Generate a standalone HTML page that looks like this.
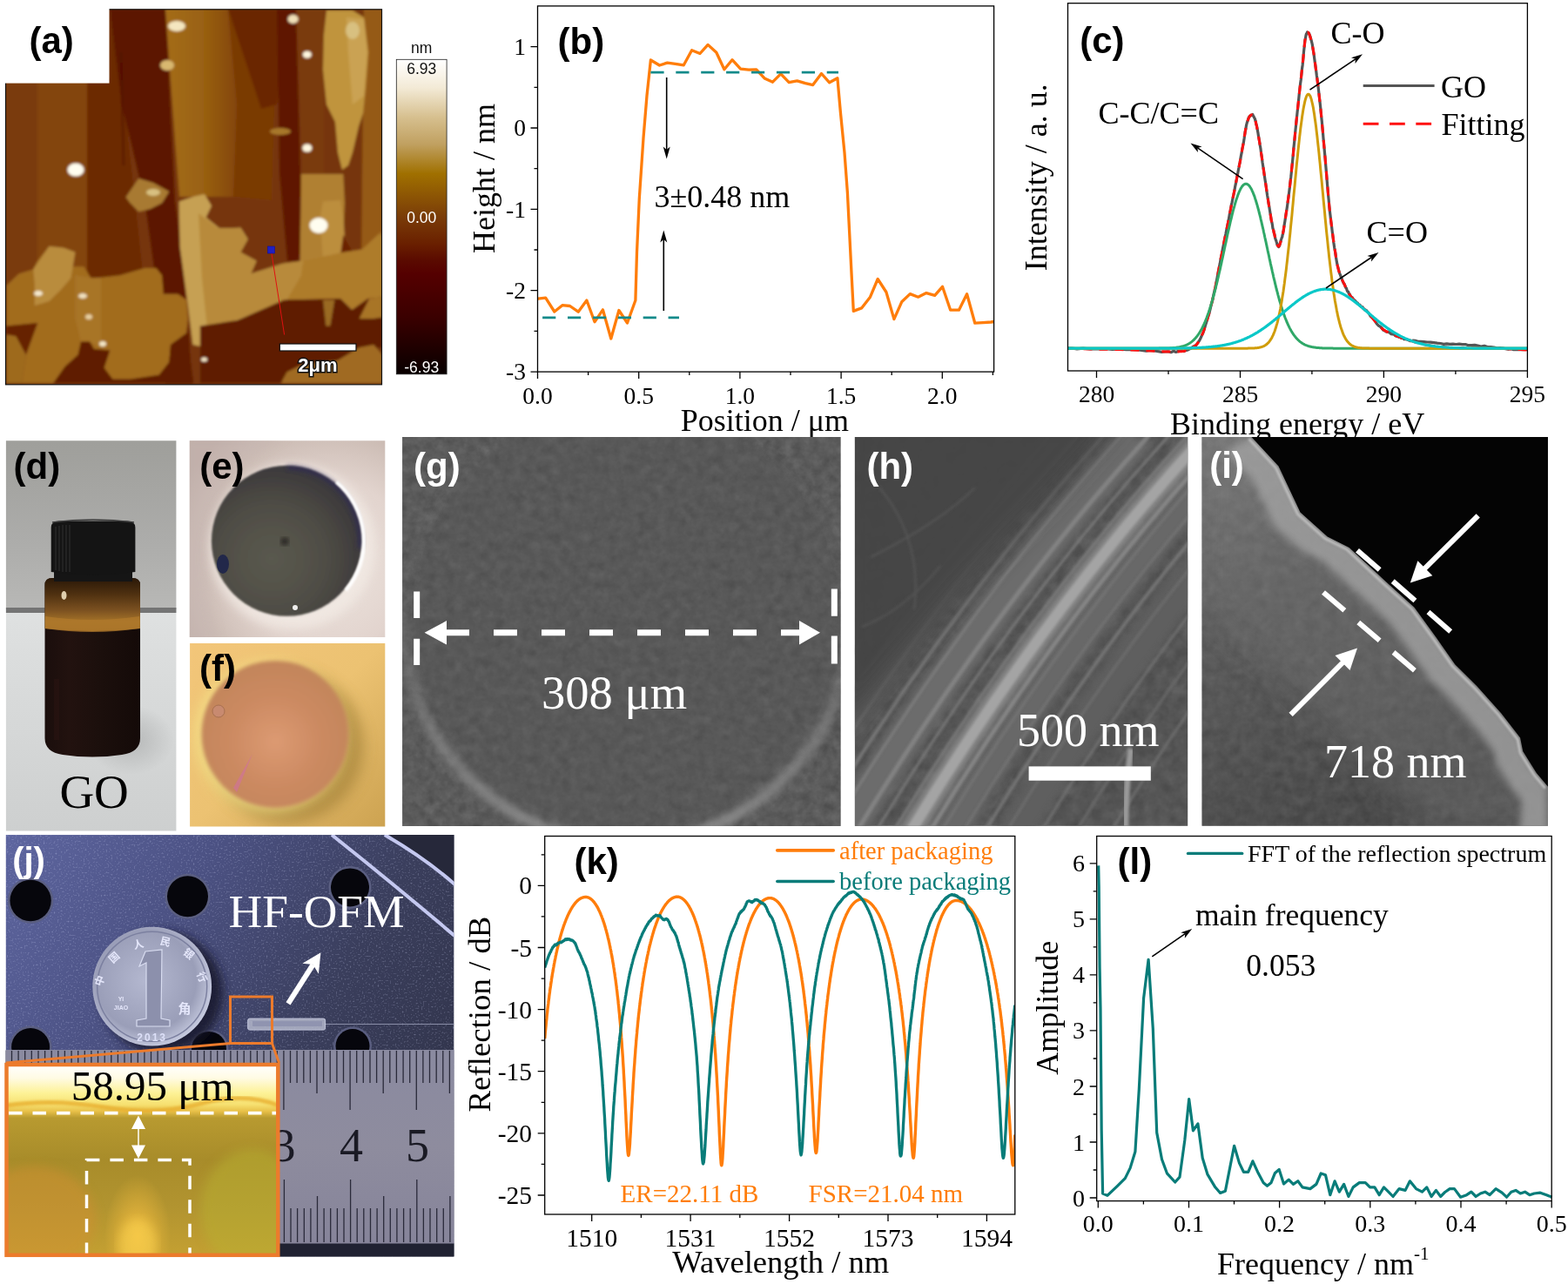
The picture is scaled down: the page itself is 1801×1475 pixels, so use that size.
<!DOCTYPE html>
<html><head><meta charset="utf-8"><title>GO film characterization</title>
<style>html,body{margin:0;padding:0;background:#fff;overflow:hidden}svg{display:block}</style></head>
<body><svg width="1801" height="1475" viewBox="0 0 1801 1475">
<rect width="1801" height="1475" fill="#fff"/>
<path d="M617.8 343.1 L626.7 342.1 L636.8 358 L645.9 350.7 L654.6 351.5 L664.2 358.2 L673.9 345 L683 369.8 L692.4 355.8 L701.8 389 L710.9 356.5 L720.5 371 L729.9 345 L731.5 290 L734.3 228 L739 158.5 L743 110 L747.4 69 L757.5 75 L766.5 72.2 L775.6 73.3 L785.3 74.8 L794.6 57.7 L804 61.5 L813.1 51.4 L822.8 60.3 L831.9 79.8 L841 68.7 L850.6 79.1 L860 80.2 L868.7 79.8 L878.1 89.9 L887.5 94.2 L896.8 84.9 L906.2 94.7 L915.6 92.8 L925 95.7 L933.7 97.6 L943.5 84.5 L952.7 94.8 L961.9 89.7 L965.4 129.2 L970 175.3 L973.4 221.4 L975.7 267.5 L978 313.6 L980.3 357.4 L989.6 353.9 L999.5 341.2 L1008.2 320.5 L1017.9 335.5 L1026.9 366.6 L1035.7 346.8 L1045.3 337.6 L1054.6 341.2 L1064 336.6 L1073.7 339.4 L1082.5 329.3 L1091.7 356.2 L1101.4 356.2 L1110.6 337.8 L1119.8 371.2 L1129 370.7 L1138.2 370 L1141.7 369.5" fill="none" stroke="#ff7d0a" stroke-width="3.3" stroke-linejoin="round"/><path d="M623.1 364.9H780" stroke="#138a8a" stroke-width="2.6" stroke-dasharray="15.2 13.7"/><path d="M747.4 83.1H963" stroke="#138a8a" stroke-width="2.6" stroke-dasharray="15.2 13.7"/><path d="M765.7 89L765.7 172" stroke="#000" stroke-width="1.6"/><path d="M765.7 182.5L761.7 168.5L765.7 172L769.7 168.5Z" fill="#000"/><path d="M762.3 357L762.3 275" stroke="#000" stroke-width="1.6"/><path d="M762.3 264.5L766.3 278.5L762.3 275L758.3 278.5Z" fill="#000"/><rect x="617.5" y="6.9" width="524.1" height="420.2" fill="none" stroke="#000" stroke-width="1.3"/><path d="M617.5 427.1V435.1M733.7 427.1V435.1M849.9 427.1V435.1M966.1 427.1V435.1M1082.3 427.1V435.1M675.6 427.1V431.1M791.8 427.1V431.1M908 427.1V431.1M1024.2 427.1V431.1M1140.4 427.1V431.1" stroke="#000" stroke-width="1.3"/><path d="M617.5 427.1H609.5M617.5 333.7H609.5M617.5 240.3H609.5M617.5 147H609.5M617.5 53.6H609.5M617.5 380.4H613.5M617.5 287H613.5M617.5 193.7H613.5M617.5 100.3H613.5" stroke="#000" stroke-width="1.3"/><text x="617.5" y="463.5" font-family="'Liberation Serif','Times New Roman',serif" font-size="27.5" fill="#000" text-anchor="middle">0.0</text><text x="733.7" y="463.5" font-family="'Liberation Serif','Times New Roman',serif" font-size="27.5" fill="#000" text-anchor="middle">0.5</text><text x="849.9" y="463.5" font-family="'Liberation Serif','Times New Roman',serif" font-size="27.5" fill="#000" text-anchor="middle">1.0</text><text x="966.1" y="463.5" font-family="'Liberation Serif','Times New Roman',serif" font-size="27.5" fill="#000" text-anchor="middle">1.5</text><text x="1082.3" y="463.5" font-family="'Liberation Serif','Times New Roman',serif" font-size="27.5" fill="#000" text-anchor="middle">2.0</text><text x="604" y="436.4" font-family="'Liberation Serif','Times New Roman',serif" font-size="27.5" fill="#000" text-anchor="end">-3</text><text x="604" y="343" font-family="'Liberation Serif','Times New Roman',serif" font-size="27.5" fill="#000" text-anchor="end">-2</text><text x="604" y="249.6" font-family="'Liberation Serif','Times New Roman',serif" font-size="27.5" fill="#000" text-anchor="end">-1</text><text x="604" y="156.3" font-family="'Liberation Serif','Times New Roman',serif" font-size="27.5" fill="#000" text-anchor="end">0</text><text x="604" y="62.9" font-family="'Liberation Serif','Times New Roman',serif" font-size="27.5" fill="#000" text-anchor="end">1</text><text x="781.7" y="495" font-family="'Liberation Serif','Times New Roman',serif" font-size="36" fill="#000" text-anchor="start">Position / μm</text><text x="567.6" y="205" font-family="'Liberation Serif','Times New Roman',serif" font-size="36" fill="#000" text-anchor="middle" transform="rotate(-90 567.6 205)">Height / nm</text><text x="751.5" y="237.8" font-family="'Liberation Serif','Times New Roman',serif" font-size="36" fill="#000" text-anchor="start">3±0.48 nm</text><text x="640.6" y="62" font-family="'Liberation Sans',Arial,sans-serif" font-size="42" font-weight="bold" fill="#000" text-anchor="start">(b)</text><clipPath id="cc"><rect x="1226.5" y="3.7" width="527.9" height="422.3"/></clipPath><g clip-path="url(#cc)"><path d="M1226.5 400.2 L1231 400 L1237 400.8 L1244 400.2 L1252 401 L1260.4 400.9 L1269.1 400.6 L1277.7 401.5 L1285.9 401 L1293.5 401.7 L1300 401.4 L1305.8 401.6 L1311.2 402.3 L1316.4 403.2 L1321.3 402.5 L1325.8 402.9 L1330.2 403.7 L1334.2 404.3 L1338.1 404 L1341.6 403.8 L1345 404.7 L1348 403.3 L1350.7 404.5 L1353 403.6 L1355.1 403.3 L1356.9 403.1 L1358.6 403.2 L1360.2 403.6 L1361.8 402.3 L1363.4 402.3 L1365 401.7 L1366.6 400.6 L1368.2 400.1 L1369.7 398.7 L1371.1 397.9 L1372.4 397.2 L1373.7 396.7 L1375 394.9 L1376.3 393 L1377.6 391.3 L1379 388.5 L1380.4 385.3 L1381.8 382.5 L1383.2 378.4 L1384.6 373.6 L1385.9 369.6 L1387.3 364.8 L1388.7 360.5 L1390 355.4 L1391.3 349.8 L1392.5 345.9 L1393.7 339.7 L1394.8 334.9 L1396 330.1 L1397.1 323.8 L1398.1 318.8 L1399.2 312.6 L1400.2 307.8 L1401.3 302.4 L1402.3 296.6 L1403.4 291.5 L1404.5 285.3 L1405.6 280.2 L1406.7 274.4 L1407.9 268.8 L1409 263 L1410.1 258 L1411.2 252.7 L1412.2 246.7 L1413.2 241.9 L1414.2 236.2 L1415.1 232.4 L1416 227.8 L1416.9 224 L1417.8 219.5 L1418.6 214.7 L1419.4 210.9 L1420.1 207.4 L1420.9 202.7 L1421.6 199.7 L1422.3 195.7 L1423 192.2 L1423.6 188.8 L1424.2 186.6 L1424.8 182.6 L1425.3 179.8 L1425.8 177.1 L1426.3 174.9 L1426.8 171.1 L1427.3 168.9 L1427.8 166.4 L1428.3 164.2 L1428.7 161.5 L1429.1 159 L1429.5 155.7 L1429.9 153.5 L1430.2 151.1 L1430.6 149.6 L1431 147.6 L1431.4 144.6 L1431.8 142.8 L1432.2 141.3 L1432.7 139.7 L1433.1 138.7 L1433.6 137.5 L1434 135.9 L1434.5 134.5 L1435 134.2 L1435.5 133.3 L1435.9 133 L1436.4 133.1 L1436.9 132.5 L1437.4 132 L1437.8 132 L1438.3 132.2 L1438.8 131.5 L1439.3 133.1 L1439.8 133.5 L1440.3 134.5 L1440.8 135.5 L1441.3 136.3 L1441.8 138 L1442.3 139.6 L1442.8 142.5 L1443.4 144.2 L1443.9 146.8 L1444.4 149.9 L1445 152.9 L1445.5 156.4 L1446.1 159.4 L1446.7 162.9 L1447.3 167 L1448 171.1 L1448.6 175.9 L1449.3 180.1 L1450 186.2 L1450.7 190.7 L1451.4 195 L1452.1 200 L1452.8 204.9 L1453.5 209.5 L1454.2 213.7 L1454.9 219.4 L1455.6 224.3 L1456.3 228.2 L1457 232.9 L1457.7 236.8 L1458.4 241.2 L1459.1 245.6 L1459.7 249.3 L1460.3 253.5 L1460.9 255.6 L1461.4 258.2 L1461.9 262 L1462.4 263.6 L1462.9 265.2 L1463.3 267.6 L1463.8 268.6 L1464.2 271 L1464.6 273.2 L1465 274.5 L1465.4 275.7 L1465.8 276.5 L1466.1 277.9 L1466.5 278.7 L1466.8 280.6 L1467.1 281.1 L1467.4 282.2 L1467.8 282.1 L1468.1 282.3 L1468.4 283.3 L1468.7 283.6 L1469 283.2 L1469.3 282.8 L1469.6 282.2 L1469.9 281.4 L1470.2 279.9 L1470.5 279.4 L1470.8 278.1 L1471.2 276.5 L1471.5 275.3 L1471.8 274.5 L1472.2 273.3 L1472.5 272.8 L1472.8 271.9 L1473.1 269.8 L1473.5 268.9 L1473.8 267.1 L1474.3 264.8 L1474.7 261.4 L1475.2 258.1 L1475.8 254.6 L1476.4 250.6 L1477 246.3 L1477.7 242.3 L1478.4 237.8 L1479.1 232.6 L1479.9 226.7 L1480.6 221.4 L1481.3 215.9 L1482 209.1 L1482.7 203.9 L1483.3 197.9 L1484 191 L1484.7 184.1 L1485.4 176.7 L1486 169.2 L1486.7 162.9 L1487.4 155.3 L1488 149.1 L1488.7 142.7 L1489.4 135.3 L1490.1 128.7 L1490.8 122.8 L1491.5 115.9 L1492.2 108.6 L1492.9 102.2 L1493.6 96.1 L1494.3 91.2 L1494.9 85.4 L1495.5 79.1 L1496.1 74.9 L1496.6 70 L1497.1 64.5 L1497.5 59.2 L1498 55 L1498.5 50.2 L1498.9 46.2 L1499.4 44.3 L1499.9 41.2 L1500.4 39 L1501 38.3 L1501.5 37 L1502.1 37.5 L1502.7 37.9 L1503.3 37.9 L1503.9 39.2 L1504.5 40.9 L1505.1 42.6 L1505.7 45.1 L1506.3 46.8 L1506.9 49.4 L1507.4 51.7 L1508 55.9 L1508.5 58.5 L1509.1 62.3 L1509.6 66.3 L1510.2 70.7 L1510.7 74 L1511.3 78.8 L1511.8 82.3 L1512.3 86.5 L1512.9 90.6 L1513.4 94.2 L1514 99.2 L1514.5 103.4 L1515 107.8 L1515.6 113.7 L1516.1 117.7 L1516.7 123.2 L1517.2 128.7 L1517.7 133.9 L1518.3 139.2 L1518.8 145.3 L1519.4 151.3 L1519.9 157.8 L1520.4 163 L1521 169.8 L1521.5 175.5 L1522.1 181.7 L1522.6 188.4 L1523.1 194 L1523.6 200 L1524.1 206.3 L1524.6 212.5 L1525.1 217.9 L1525.6 224.1 L1526.2 229.9 L1526.7 235.9 L1527.3 242 L1528 247.5 L1528.7 253.6 L1529.5 259.7 L1530.3 266.6 L1531.1 272.5 L1531.9 279 L1532.8 285 L1533.7 289.8 L1534.5 295.5 L1535.4 300.9 L1536.2 305.1 L1537 307.8 L1537.8 310.9 L1538.7 314.1 L1539.5 315.9 L1540.3 318.2 L1541.1 319.8 L1541.9 322.3 L1542.7 324.1 L1543.5 325.9 L1544.3 326.5 L1545.1 329 L1545.8 330.5 L1546.5 331.2 L1547.2 333.6 L1547.9 335 L1548.6 335.1 L1549.3 337.3 L1550 337.6 L1550.7 338.9 L1551.5 340.7 L1552.3 341.6 L1553.1 341.6 L1553.9 343 L1554.8 344.1 L1555.6 344.8 L1556.5 345.4 L1557.4 346.5 L1558.2 347.9 L1559.1 347.8 L1560 349.4 L1560.9 350 L1561.7 350.1 L1562.5 351.1 L1563.3 352.1 L1564.1 352.5 L1564.9 352.5 L1565.9 354.5 L1566.9 355.1 L1568 356.4 L1569.3 356.4 L1570.7 358.2 L1572.3 359.8 L1574 362.9 L1575.8 364.4 L1577.7 366.5 L1579.6 369.2 L1581.5 372.2 L1583.4 374.1 L1585.3 375.2 L1587.1 376.7 L1588.9 379.2 L1590.6 379.9 L1592.4 381.1 L1594.2 381.2 L1596 382 L1597.7 383.6 L1599.5 383.9 L1601.3 384.1 L1603 386 L1604.8 386.3 L1606.5 387.2 L1608.1 386.9 L1609.6 388.5 L1611.1 388 L1612.6 389.6 L1614.2 389.6 L1615.9 389.9 L1617.9 390.7 L1620.1 391.7 L1622.6 391.2 L1625.4 391.4 L1628.6 392.4 L1632 392.4 L1635.6 392.6 L1639.3 393 L1643.1 393.2 L1647 393.7 L1650.8 394.2 L1654.6 394.5 L1658.2 395.4 L1661.8 394.9 L1665.3 395.4 L1668.9 395.2 L1672.4 395.5 L1676 395.2 L1679.6 395.7 L1683.1 395.5 L1686.7 396.7 L1690.2 396.6 L1693.8 396.4 L1697.4 397.1 L1701.1 398 L1704.8 397.3 L1708.5 398.6 L1712.3 398.5 L1715.9 399 L1719.5 399.9 L1723 399.6 L1726.3 400.1 L1729.4 400.7 L1732.4 401.3 L1735.5 400.7 L1738.5 401.6 L1741.4 401.6 L1744.1 401.7 L1746.7 401.5 L1749.1 401.6 L1751.2 401.3 L1753 401.5 L1754.4 401.5" fill="none" stroke="#555555" stroke-width="3.2" stroke-linejoin="round"/><path d="M1226.5 400.4 L1231 400.5 L1237 400.6 L1244 400.7 L1252 400.9 L1260.4 401.1 L1269.1 401.3 L1277.7 401.4 L1285.9 401.6 L1293.5 401.8 L1300 402 L1305.8 402.2 L1311.2 402.4 L1316.4 402.7 L1321.3 403 L1325.8 403.3 L1330.2 403.5 L1334.2 403.7 L1338.1 403.9 L1341.6 404 L1345 404 L1348 404 L1350.7 404 L1353 403.9 L1355.1 403.8 L1356.9 403.7 L1358.6 403.5 L1360.2 403.2 L1361.8 402.7 L1363.4 402.2 L1365 401.5 L1366.6 400.8 L1368.2 400.1 L1369.7 399.4 L1371.1 398.6 L1372.4 397.6 L1373.7 396.5 L1375 395 L1376.3 393.3 L1377.6 391.2 L1379 388.6 L1380.4 385.5 L1381.8 382 L1383.2 378.2 L1384.6 374 L1385.9 369.5 L1387.3 364.8 L1388.7 360 L1390 355.1 L1391.3 350.1 L1392.5 345.2 L1393.7 340.2 L1394.8 335.1 L1396 329.7 L1397.1 324.3 L1398.1 318.8 L1399.2 313.2 L1400.2 307.6 L1401.3 302 L1402.3 296.5 L1403.4 291 L1404.5 285.5 L1405.6 279.9 L1406.7 274.3 L1407.9 268.7 L1409 263 L1410.1 257.5 L1411.2 252.1 L1412.2 246.8 L1413.2 241.7 L1414.2 236.8 L1415.1 232.1 L1416 227.6 L1416.9 223.3 L1417.8 219.1 L1418.6 215 L1419.4 211 L1420.1 207.2 L1420.9 203.4 L1421.6 199.8 L1422.3 196.2 L1423 192.7 L1423.6 189.4 L1424.2 186.2 L1424.8 183.1 L1425.3 180.1 L1425.8 177.2 L1426.3 174.4 L1426.8 171.7 L1427.3 169 L1427.8 166.3 L1428.3 163.7 L1428.7 161.1 L1429.1 158.5 L1429.5 156 L1429.9 153.6 L1430.2 151.3 L1430.6 149.1 L1431 147 L1431.4 145.1 L1431.8 143.3 L1432.2 141.7 L1432.7 140.1 L1433.1 138.7 L1433.6 137.4 L1434 136.2 L1434.5 135.2 L1435 134.3 L1435.5 133.5 L1435.9 132.9 L1436.4 132.5 L1436.9 132.2 L1437.4 132 L1437.8 131.9 L1438.3 131.9 L1438.8 132.1 L1439.3 132.5 L1439.8 133.1 L1440.3 134 L1440.8 135.1 L1441.3 136.5 L1441.8 138.2 L1442.3 140.1 L1442.8 142.3 L1443.4 144.8 L1443.9 147.4 L1444.4 150.3 L1445 153.3 L1445.5 156.6 L1446.1 160 L1446.7 163.6 L1447.3 167.5 L1448 171.6 L1448.6 176.1 L1449.3 180.8 L1450 185.6 L1450.7 190.5 L1451.4 195.5 L1452.1 200.4 L1452.8 205.1 L1453.5 209.7 L1454.2 214.2 L1454.9 218.9 L1455.6 223.6 L1456.3 228.3 L1457 232.9 L1457.7 237.4 L1458.4 241.7 L1459.1 245.8 L1459.7 249.6 L1460.3 253 L1460.9 256.1 L1461.4 258.8 L1461.9 261.3 L1462.4 263.6 L1462.9 265.6 L1463.3 267.5 L1463.8 269.3 L1464.2 270.9 L1464.6 272.5 L1465 274 L1465.4 275.5 L1465.8 276.8 L1466.1 278.1 L1466.5 279.2 L1466.8 280.2 L1467.1 281.1 L1467.4 281.8 L1467.8 282.3 L1468.1 282.7 L1468.4 282.9 L1468.7 282.9 L1469 282.7 L1469.3 282.3 L1469.6 281.8 L1469.9 281.1 L1470.2 280.3 L1470.5 279.3 L1470.8 278.3 L1471.2 277.2 L1471.5 276 L1471.8 274.8 L1472.2 273.7 L1472.5 272.5 L1472.8 271.3 L1473.1 269.9 L1473.5 268.3 L1473.8 266.4 L1474.3 264.2 L1474.7 261.6 L1475.2 258.5 L1475.8 255 L1476.4 251 L1477 246.8 L1477.7 242.1 L1478.4 237.2 L1479.1 232.1 L1479.9 226.7 L1480.6 221.2 L1481.3 215.5 L1482 209.7 L1482.7 203.7 L1483.3 197.3 L1484 190.6 L1484.7 183.7 L1485.4 176.7 L1486 169.6 L1486.7 162.5 L1487.4 155.5 L1488 148.6 L1488.7 142 L1489.4 135.4 L1490.1 128.8 L1490.8 122.2 L1491.5 115.6 L1492.2 109.1 L1492.9 102.7 L1493.6 96.6 L1494.3 90.6 L1494.9 84.9 L1495.5 79.6 L1496.1 74.4 L1496.6 69.3 L1497.1 64.3 L1497.5 59.5 L1498 54.9 L1498.5 50.7 L1498.9 46.9 L1499.4 43.7 L1499.9 41 L1500.4 39 L1501 37.7 L1501.5 37.1 L1502.1 37 L1502.7 37.4 L1503.3 38.3 L1503.9 39.6 L1504.5 41.1 L1505.1 43 L1505.7 45 L1506.3 47.1 L1506.9 49.5 L1507.4 52.2 L1508 55.3 L1508.5 58.7 L1509.1 62.3 L1509.6 66.1 L1510.2 70.1 L1510.7 74.1 L1511.3 78.2 L1511.8 82.3 L1512.3 86.4 L1512.9 90.6 L1513.4 94.9 L1514 99.3 L1514.5 103.8 L1515 108.5 L1515.6 113.2 L1516.1 118.1 L1516.7 123.2 L1517.2 128.4 L1517.7 133.8 L1518.3 139.5 L1518.8 145.3 L1519.4 151.3 L1519.9 157.4 L1520.4 163.5 L1521 169.7 L1521.5 175.9 L1522.1 182 L1522.6 188 L1523.1 194 L1523.6 200 L1524.1 206 L1524.6 212 L1525.1 218 L1525.6 223.9 L1526.2 229.9 L1526.7 235.8 L1527.3 241.7 L1528 247.6 L1528.7 253.6 L1529.5 259.7 L1530.3 266 L1531.1 272.2 L1531.9 278.4 L1532.8 284.4 L1533.7 290.1 L1534.5 295.5 L1535.4 300.3 L1536.2 304.6 L1537 308.3 L1537.8 311.4 L1538.7 314.2 L1539.5 316.5 L1540.3 318.6 L1541.1 320.4 L1541.9 322.1 L1542.7 323.7 L1543.5 325.3 L1544.3 327 L1545.1 328.7 L1545.8 330.4 L1546.5 332 L1547.2 333.5 L1547.9 334.8 L1548.6 336 L1549.3 337.2 L1550 338.3 L1550.7 339.4 L1551.5 340.5 L1552.3 341.6 L1553.1 342.6 L1553.9 343.5 L1554.8 344.4 L1555.6 345.3 L1556.5 346.2 L1557.4 347 L1558.2 347.8 L1559.1 348.6 L1560 349.5 L1560.9 350.2 L1561.7 350.9 L1562.5 351.5 L1563.3 352.1 L1564.1 352.7 L1564.9 353.4 L1565.9 354.2 L1566.9 355.1 L1568 356.1 L1569.3 357.3 L1570.7 358.6 L1572.3 360.4 L1574 362.5 L1575.8 364.7 L1577.7 367 L1579.6 369.3 L1581.5 371.6 L1583.4 373.7 L1585.3 375.6 L1587.1 377.2 L1588.9 378.6 L1590.6 379.8 L1592.4 380.8 L1594.2 381.7 L1596 382.6 L1597.7 383.3 L1599.5 384 L1601.3 384.7 L1603 385.4 L1604.8 386.1 L1606.5 386.8 L1608.1 387.4 L1609.6 388 L1611.1 388.6 L1612.6 389.1 L1614.2 389.6 L1615.9 390.1 L1617.9 390.6 L1620.1 391.2 L1622.6 392.1 L1625.4 393 L1628.6 394 L1632 394.9 L1635.6 395.7 L1639.3 396.4 L1643.1 397.1 L1647 397.7 L1650.8 398.1 L1654.6 398.5 L1658.2 398.8 L1661.8 399.1 L1665.3 399.3 L1668.9 399.5 L1672.4 399.6 L1676 399.7 L1679.6 399.8 L1683.1 399.9 L1686.7 400 L1690.2 400 L1693.8 400.1 L1697.4 400.1 L1701.1 400.1 L1704.8 400.1 L1708.5 400.2 L1712.3 400.2 L1715.9 400.2 L1719.5 400.2 L1723 400.2 L1726.3 400.2 L1729.4 400.4 L1732.4 400.7 L1735.5 400.9 L1738.5 401.1 L1741.4 401.3 L1744.1 401.5 L1746.7 401.6 L1749.1 401.8 L1751.2 401.9 L1753 402 L1754.4 402.1" fill="none" stroke="#ff1010" stroke-width="3" stroke-linejoin="round" stroke-dasharray="10 8"/><path d="M1226.5 400.2 L1227.2 400.2 L1227.8 400.2 L1228.5 400.2 L1229.1 400.2 L1229.8 400.2 L1230.5 400.2 L1231.1 400.2 L1231.8 400.2 L1232.4 400.2 L1233.1 400.2 L1233.8 400.2 L1234.4 400.2 L1235.1 400.2 L1235.7 400.2 L1236.4 400.2 L1237.1 400.2 L1237.7 400.2 L1238.4 400.2 L1239 400.2 L1239.7 400.2 L1240.4 400.2 L1241 400.2 L1241.7 400.2 L1242.3 400.2 L1243 400.2 L1243.7 400.2 L1244.3 400.2 L1245 400.2 L1245.6 400.2 L1246.3 400.2 L1247 400.2 L1247.6 400.2 L1248.3 400.2 L1248.9 400.2 L1249.6 400.2 L1250.3 400.2 L1250.9 400.2 L1251.6 400.2 L1252.2 400.2 L1252.9 400.2 L1253.6 400.2 L1254.2 400.2 L1254.9 400.2 L1255.5 400.2 L1256.2 400.2 L1256.9 400.2 L1257.5 400.2 L1258.2 400.2 L1258.8 400.2 L1259.5 400.2 L1260.2 400.2 L1260.8 400.2 L1261.5 400.2 L1262.1 400.2 L1262.8 400.2 L1263.5 400.2 L1264.1 400.2 L1264.8 400.2 L1265.4 400.2 L1266.1 400.2 L1266.8 400.2 L1267.4 400.2 L1268.1 400.2 L1268.7 400.2 L1269.4 400.2 L1270.1 400.2 L1270.7 400.2 L1271.4 400.2 L1272 400.2 L1272.7 400.2 L1273.4 400.2 L1274 400.2 L1274.7 400.2 L1275.3 400.2 L1276 400.2 L1276.7 400.2 L1277.3 400.2 L1278 400.2 L1278.6 400.2 L1279.3 400.2 L1279.9 400.2 L1280.6 400.2 L1281.3 400.2 L1281.9 400.2 L1282.6 400.2 L1283.2 400.2 L1283.9 400.2 L1284.6 400.2 L1285.2 400.2 L1285.9 400.2 L1286.5 400.2 L1287.2 400.2 L1287.9 400.2 L1288.5 400.2 L1289.2 400.2 L1289.8 400.2 L1290.5 400.2 L1291.2 400.2 L1291.8 400.2 L1292.5 400.2 L1293.1 400.2 L1293.8 400.2 L1294.5 400.2 L1295.1 400.2 L1295.8 400.2 L1296.4 400.2 L1297.1 400.2 L1297.8 400.2 L1298.4 400.2 L1299.1 400.2 L1299.7 400.2 L1300.4 400.2 L1301.1 400.2 L1301.7 400.2 L1302.4 400.2 L1303 400.2 L1303.7 400.2 L1304.4 400.2 L1305 400.2 L1305.7 400.2 L1306.3 400.2 L1307 400.2 L1307.7 400.2 L1308.3 400.2 L1309 400.2 L1309.6 400.2 L1310.3 400.2 L1311 400.2 L1311.6 400.2 L1312.3 400.2 L1312.9 400.2 L1313.6 400.2 L1314.3 400.2 L1314.9 400.2 L1315.6 400.2 L1316.2 400.2 L1316.9 400.2 L1317.6 400.2 L1318.2 400.2 L1318.9 400.2 L1319.5 400.2 L1320.2 400.2 L1320.9 400.2 L1321.5 400.2 L1322.2 400.2 L1322.8 400.2 L1323.5 400.2 L1324.2 400.2 L1324.8 400.2 L1325.5 400.2 L1326.1 400.2 L1326.8 400.2 L1327.5 400.2 L1328.1 400.2 L1328.8 400.2 L1329.4 400.2 L1330.1 400.2 L1330.8 400.2 L1331.4 400.1 L1332.1 400.1 L1332.7 400.1 L1333.4 400.1 L1334.1 400.1 L1334.7 400.1 L1335.4 400.1 L1336 400.1 L1336.7 400.1 L1337.4 400.1 L1338 400.1 L1338.7 400 L1339.3 400 L1340 400 L1340.7 400 L1341.3 400 L1342 399.9 L1342.6 399.9 L1343.3 399.9 L1344 399.8 L1344.6 399.8 L1345.3 399.8 L1345.9 399.7 L1346.6 399.7 L1347.3 399.6 L1347.9 399.6 L1348.6 399.5 L1349.2 399.5 L1349.9 399.4 L1350.6 399.3 L1351.2 399.2 L1351.9 399.1 L1352.5 399.1 L1353.2 398.9 L1353.9 398.8 L1354.5 398.7 L1355.2 398.6 L1355.8 398.5 L1356.5 398.3 L1357.2 398.1 L1357.8 398 L1358.5 397.8 L1359.1 397.6 L1359.8 397.4 L1360.5 397.1 L1361.1 396.9 L1361.8 396.6 L1362.4 396.4 L1363.1 396.1 L1363.8 395.8 L1364.4 395.4 L1365.1 395.1 L1365.7 394.7 L1366.4 394.3 L1367.1 393.8 L1367.7 393.4 L1368.4 392.9 L1369 392.4 L1369.7 391.8 L1370.4 391.2 L1371 390.6 L1371.7 390 L1372.3 389.3 L1373 388.6 L1373.7 387.8 L1374.3 387 L1375 386.2 L1375.6 385.3 L1376.3 384.4 L1377 383.4 L1377.6 382.4 L1378.3 381.4 L1378.9 380.3 L1379.6 379.1 L1380.3 377.9 L1380.9 376.6 L1381.6 375.3 L1382.2 373.9 L1382.9 372.5 L1383.6 371 L1384.2 369.5 L1384.9 367.9 L1385.5 366.2 L1386.2 364.5 L1386.8 362.7 L1387.5 360.9 L1388.2 359 L1388.8 357 L1389.5 355 L1390.1 352.9 L1390.8 350.8 L1391.5 348.5 L1392.1 346.3 L1392.8 344 L1393.4 341.6 L1394.1 339.1 L1394.8 336.7 L1395.4 334.1 L1396.1 331.5 L1396.7 328.9 L1397.4 326.2 L1398.1 323.4 L1398.7 320.6 L1399.4 317.8 L1400 314.9 L1400.7 312 L1401.4 309.1 L1402 306.1 L1402.7 303.1 L1403.3 300.1 L1404 297.1 L1404.7 294 L1405.3 290.9 L1406 287.9 L1406.6 284.8 L1407.3 281.7 L1408 278.7 L1408.6 275.6 L1409.3 272.5 L1409.9 269.5 L1410.6 266.5 L1411.3 263.5 L1411.9 260.6 L1412.6 257.7 L1413.2 254.9 L1413.9 252.1 L1414.6 249.3 L1415.2 246.6 L1415.9 244 L1416.5 241.4 L1417.2 239 L1417.9 236.6 L1418.5 234.3 L1419.2 232 L1419.8 229.9 L1420.5 227.9 L1421.2 225.9 L1421.8 224.1 L1422.5 222.4 L1423.1 220.8 L1423.8 219.3 L1424.5 217.9 L1425.1 216.6 L1425.8 215.5 L1426.4 214.5 L1427.1 213.6 L1427.8 212.9 L1428.4 212.3 L1429.1 211.8 L1429.7 211.5 L1430.4 211.3 L1431.1 211.2 L1431.7 211.3 L1432.4 211.5 L1433 211.8 L1433.7 212.3 L1434.4 212.9 L1435 213.6 L1435.7 214.5 L1436.3 215.5 L1437 216.6 L1437.7 217.9 L1438.3 219.3 L1439 220.8 L1439.6 222.4 L1440.3 224.1 L1441 225.9 L1441.6 227.9 L1442.3 229.9 L1442.9 232 L1443.6 234.3 L1444.3 236.6 L1444.9 239 L1445.6 241.4 L1446.2 244 L1446.9 246.6 L1447.6 249.3 L1448.2 252.1 L1448.9 254.9 L1449.5 257.7 L1450.2 260.6 L1450.9 263.5 L1451.5 266.5 L1452.2 269.5 L1452.8 272.5 L1453.5 275.6 L1454.2 278.7 L1454.8 281.7 L1455.5 284.8 L1456.1 287.9 L1456.8 290.9 L1457.5 294 L1458.1 297.1 L1458.8 300.1 L1459.4 303.1 L1460.1 306.1 L1460.8 309.1 L1461.4 312 L1462.1 314.9 L1462.7 317.8 L1463.4 320.6 L1464.1 323.4 L1464.7 326.2 L1465.4 328.9 L1466 331.5 L1466.7 334.1 L1467.4 336.7 L1468 339.1 L1468.7 341.6 L1469.3 344 L1470 346.3 L1470.7 348.5 L1471.3 350.8 L1472 352.9 L1472.6 355 L1473.3 357 L1474 359 L1474.6 360.9 L1475.3 362.7 L1475.9 364.5 L1476.6 366.2 L1477.3 367.9 L1477.9 369.5 L1478.6 371 L1479.2 372.5 L1479.9 373.9 L1480.6 375.3 L1481.2 376.6 L1481.9 377.9 L1482.5 379.1 L1483.2 380.3 L1483.9 381.4 L1484.5 382.4 L1485.2 383.4 L1485.8 384.4 L1486.5 385.3 L1487.2 386.2 L1487.8 387 L1488.5 387.8 L1489.1 388.6 L1489.8 389.3 L1490.5 390 L1491.1 390.6 L1491.8 391.2 L1492.4 391.8 L1493.1 392.4 L1493.7 392.9 L1494.4 393.4 L1495.1 393.8 L1495.7 394.3 L1496.4 394.7 L1497 395.1 L1497.7 395.4 L1498.4 395.8 L1499 396.1 L1499.7 396.4 L1500.3 396.6 L1501 396.9 L1501.7 397.1 L1502.3 397.4 L1503 397.6 L1503.6 397.8 L1504.3 398 L1505 398.1 L1505.6 398.3 L1506.3 398.5 L1506.9 398.6 L1507.6 398.7 L1508.3 398.8 L1508.9 398.9 L1509.6 399.1 L1510.2 399.1 L1510.9 399.2 L1511.6 399.3 L1512.2 399.4 L1512.9 399.5 L1513.5 399.5 L1514.2 399.6 L1514.9 399.6 L1515.5 399.7 L1516.2 399.7 L1516.8 399.8 L1517.5 399.8 L1518.2 399.8 L1518.8 399.9 L1519.5 399.9 L1520.1 399.9 L1520.8 400 L1521.5 400 L1522.1 400 L1522.8 400 L1523.4 400 L1524.1 400.1 L1524.8 400.1 L1525.4 400.1 L1526.1 400.1 L1526.7 400.1 L1527.4 400.1 L1528.1 400.1 L1528.7 400.1 L1529.4 400.1 L1530 400.1 L1530.7 400.1 L1531.4 400.2 L1532 400.2 L1532.7 400.2 L1533.3 400.2 L1534 400.2 L1534.7 400.2 L1535.3 400.2 L1536 400.2 L1536.6 400.2 L1537.3 400.2 L1538 400.2 L1538.6 400.2 L1539.3 400.2 L1539.9 400.2 L1540.6 400.2 L1541.3 400.2 L1541.9 400.2 L1542.6 400.2 L1543.2 400.2 L1543.9 400.2 L1544.6 400.2 L1545.2 400.2 L1545.9 400.2 L1546.5 400.2 L1547.2 400.2 L1547.9 400.2 L1548.5 400.2 L1549.2 400.2 L1549.8 400.2 L1550.5 400.2 L1551.2 400.2 L1551.8 400.2 L1552.5 400.2 L1553.1 400.2 L1553.8 400.2 L1554.5 400.2 L1555.1 400.2 L1555.8 400.2 L1556.4 400.2 L1557.1 400.2 L1557.8 400.2 L1558.4 400.2 L1559.1 400.2 L1559.7 400.2 L1560.4 400.2 L1561.1 400.2 L1561.7 400.2 L1562.4 400.2 L1563 400.2 L1563.7 400.2 L1564.4 400.2 L1565 400.2 L1565.7 400.2 L1566.3 400.2 L1567 400.2 L1567.7 400.2 L1568.3 400.2 L1569 400.2 L1569.6 400.2 L1570.3 400.2 L1571 400.2 L1571.6 400.2 L1572.3 400.2 L1572.9 400.2 L1573.6 400.2 L1574.3 400.2 L1574.9 400.2 L1575.6 400.2 L1576.2 400.2 L1576.9 400.2 L1577.6 400.2 L1578.2 400.2 L1578.9 400.2 L1579.5 400.2 L1580.2 400.2 L1580.9 400.2 L1581.5 400.2 L1582.2 400.2 L1582.8 400.2 L1583.5 400.2 L1584.2 400.2 L1584.8 400.2 L1585.5 400.2 L1586.1 400.2 L1586.8 400.2 L1587.5 400.2 L1588.1 400.2 L1588.8 400.2 L1589.4 400.2 L1590.1 400.2 L1590.8 400.2 L1591.4 400.2 L1592.1 400.2 L1592.7 400.2 L1593.4 400.2 L1594.1 400.2 L1594.7 400.2 L1595.4 400.2 L1596 400.2 L1596.7 400.2 L1597.3 400.2 L1598 400.2 L1598.7 400.2 L1599.3 400.2 L1600 400.2 L1600.6 400.2 L1601.3 400.2 L1602 400.2 L1602.6 400.2 L1603.3 400.2 L1603.9 400.2 L1604.6 400.2 L1605.3 400.2 L1605.9 400.2 L1606.6 400.2 L1607.2 400.2 L1607.9 400.2 L1608.6 400.2 L1609.2 400.2 L1609.9 400.2 L1610.5 400.2 L1611.2 400.2 L1611.9 400.2 L1612.5 400.2 L1613.2 400.2 L1613.8 400.2 L1614.5 400.2 L1615.2 400.2 L1615.8 400.2 L1616.5 400.2 L1617.1 400.2 L1617.8 400.2 L1618.5 400.2 L1619.1 400.2 L1619.8 400.2 L1620.4 400.2 L1621.1 400.2 L1621.8 400.2 L1622.4 400.2 L1623.1 400.2 L1623.7 400.2 L1624.4 400.2 L1625.1 400.2 L1625.7 400.2 L1626.4 400.2 L1627 400.2 L1627.7 400.2 L1628.4 400.2 L1629 400.2 L1629.7 400.2 L1630.3 400.2 L1631 400.2 L1631.7 400.2 L1632.3 400.2 L1633 400.2 L1633.6 400.2 L1634.3 400.2 L1635 400.2 L1635.6 400.2 L1636.3 400.2 L1636.9 400.2 L1637.6 400.2 L1638.3 400.2 L1638.9 400.2 L1639.6 400.2 L1640.2 400.2 L1640.9 400.2 L1641.6 400.2 L1642.2 400.2 L1642.9 400.2 L1643.5 400.2 L1644.2 400.2 L1644.9 400.2 L1645.5 400.2 L1646.2 400.2 L1646.8 400.2 L1647.5 400.2 L1648.2 400.2 L1648.8 400.2 L1649.5 400.2 L1650.1 400.2 L1650.8 400.2 L1651.5 400.2 L1652.1 400.2 L1652.8 400.2 L1653.4 400.2 L1654.1 400.2 L1654.8 400.2 L1655.4 400.2 L1656.1 400.2 L1656.7 400.2 L1657.4 400.2 L1658.1 400.2 L1658.7 400.2 L1659.4 400.2 L1660 400.2 L1660.7 400.2 L1661.4 400.2 L1662 400.2 L1662.7 400.2 L1663.3 400.2 L1664 400.2 L1664.7 400.2 L1665.3 400.2 L1666 400.2 L1666.6 400.2 L1667.3 400.2 L1668 400.2 L1668.6 400.2 L1669.3 400.2 L1669.9 400.2 L1670.6 400.2 L1671.3 400.2 L1671.9 400.2 L1672.6 400.2 L1673.2 400.2 L1673.9 400.2 L1674.6 400.2 L1675.2 400.2 L1675.9 400.2 L1676.5 400.2 L1677.2 400.2 L1677.9 400.2 L1678.5 400.2 L1679.2 400.2 L1679.8 400.2 L1680.5 400.2 L1681.2 400.2 L1681.8 400.2 L1682.5 400.2 L1683.1 400.2 L1683.8 400.2 L1684.5 400.2 L1685.1 400.2 L1685.8 400.2 L1686.4 400.2 L1687.1 400.2 L1687.8 400.2 L1688.4 400.2 L1689.1 400.2 L1689.7 400.2 L1690.4 400.2 L1691.1 400.2 L1691.7 400.2 L1692.4 400.2 L1693 400.2 L1693.7 400.2 L1694.4 400.2 L1695 400.2 L1695.7 400.2 L1696.3 400.2 L1697 400.2 L1697.7 400.2 L1698.3 400.2 L1699 400.2 L1699.6 400.2 L1700.3 400.2 L1701 400.2 L1701.6 400.2 L1702.3 400.2 L1702.9 400.2 L1703.6 400.2 L1704.2 400.2 L1704.9 400.2 L1705.6 400.2 L1706.2 400.2 L1706.9 400.2 L1707.5 400.2 L1708.2 400.2 L1708.9 400.2 L1709.5 400.2 L1710.2 400.2 L1710.8 400.2 L1711.5 400.2 L1712.2 400.2 L1712.8 400.2 L1713.5 400.2 L1714.1 400.2 L1714.8 400.2 L1715.5 400.2 L1716.1 400.2 L1716.8 400.2 L1717.4 400.2 L1718.1 400.2 L1718.8 400.2 L1719.4 400.2 L1720.1 400.2 L1720.7 400.2 L1721.4 400.2 L1722.1 400.2 L1722.7 400.2 L1723.4 400.2 L1724 400.2 L1724.7 400.2 L1725.4 400.2 L1726 400.2 L1726.7 400.2 L1727.3 400.2 L1728 400.2 L1728.7 400.2 L1729.3 400.2 L1730 400.2 L1730.6 400.2 L1731.3 400.2 L1732 400.2 L1732.6 400.2 L1733.3 400.2 L1733.9 400.2 L1734.6 400.2 L1735.3 400.2 L1735.9 400.2 L1736.6 400.2 L1737.2 400.2 L1737.9 400.2 L1738.6 400.2 L1739.2 400.2 L1739.9 400.2 L1740.5 400.2 L1741.2 400.2 L1741.9 400.2 L1742.5 400.2 L1743.2 400.2 L1743.8 400.2 L1744.5 400.2 L1745.2 400.2 L1745.8 400.2 L1746.5 400.2 L1747.1 400.2 L1747.8 400.2 L1748.5 400.2 L1749.1 400.2 L1749.8 400.2 L1750.4 400.2 L1751.1 400.2 L1751.8 400.2 L1752.4 400.2 L1753.1 400.2 L1753.7 400.2 L1754.4 400.2" fill="none" stroke="#30a868" stroke-width="3" stroke-linejoin="round"/><path d="M1226.5 400.2 L1227.2 400.2 L1227.8 400.2 L1228.5 400.2 L1229.1 400.2 L1229.8 400.2 L1230.5 400.2 L1231.1 400.2 L1231.8 400.2 L1232.4 400.2 L1233.1 400.2 L1233.8 400.2 L1234.4 400.2 L1235.1 400.2 L1235.7 400.2 L1236.4 400.2 L1237.1 400.2 L1237.7 400.2 L1238.4 400.2 L1239 400.2 L1239.7 400.2 L1240.4 400.2 L1241 400.2 L1241.7 400.2 L1242.3 400.2 L1243 400.2 L1243.7 400.2 L1244.3 400.2 L1245 400.2 L1245.6 400.2 L1246.3 400.2 L1247 400.2 L1247.6 400.2 L1248.3 400.2 L1248.9 400.2 L1249.6 400.2 L1250.3 400.2 L1250.9 400.2 L1251.6 400.2 L1252.2 400.2 L1252.9 400.2 L1253.6 400.2 L1254.2 400.2 L1254.9 400.2 L1255.5 400.2 L1256.2 400.2 L1256.9 400.2 L1257.5 400.2 L1258.2 400.2 L1258.8 400.2 L1259.5 400.2 L1260.2 400.2 L1260.8 400.2 L1261.5 400.2 L1262.1 400.2 L1262.8 400.2 L1263.5 400.2 L1264.1 400.2 L1264.8 400.2 L1265.4 400.2 L1266.1 400.2 L1266.8 400.2 L1267.4 400.2 L1268.1 400.2 L1268.7 400.2 L1269.4 400.2 L1270.1 400.2 L1270.7 400.2 L1271.4 400.2 L1272 400.2 L1272.7 400.2 L1273.4 400.2 L1274 400.2 L1274.7 400.2 L1275.3 400.2 L1276 400.2 L1276.7 400.2 L1277.3 400.2 L1278 400.2 L1278.6 400.2 L1279.3 400.2 L1279.9 400.2 L1280.6 400.2 L1281.3 400.2 L1281.9 400.2 L1282.6 400.2 L1283.2 400.2 L1283.9 400.2 L1284.6 400.2 L1285.2 400.2 L1285.9 400.2 L1286.5 400.2 L1287.2 400.2 L1287.9 400.2 L1288.5 400.2 L1289.2 400.2 L1289.8 400.2 L1290.5 400.2 L1291.2 400.2 L1291.8 400.2 L1292.5 400.2 L1293.1 400.2 L1293.8 400.2 L1294.5 400.2 L1295.1 400.2 L1295.8 400.2 L1296.4 400.2 L1297.1 400.2 L1297.8 400.2 L1298.4 400.2 L1299.1 400.2 L1299.7 400.2 L1300.4 400.2 L1301.1 400.2 L1301.7 400.2 L1302.4 400.2 L1303 400.2 L1303.7 400.2 L1304.4 400.2 L1305 400.2 L1305.7 400.2 L1306.3 400.2 L1307 400.2 L1307.7 400.2 L1308.3 400.2 L1309 400.2 L1309.6 400.2 L1310.3 400.2 L1311 400.2 L1311.6 400.2 L1312.3 400.2 L1312.9 400.2 L1313.6 400.2 L1314.3 400.2 L1314.9 400.2 L1315.6 400.2 L1316.2 400.2 L1316.9 400.2 L1317.6 400.2 L1318.2 400.2 L1318.9 400.2 L1319.5 400.2 L1320.2 400.2 L1320.9 400.2 L1321.5 400.2 L1322.2 400.2 L1322.8 400.2 L1323.5 400.2 L1324.2 400.2 L1324.8 400.2 L1325.5 400.2 L1326.1 400.2 L1326.8 400.2 L1327.5 400.2 L1328.1 400.2 L1328.8 400.2 L1329.4 400.2 L1330.1 400.2 L1330.8 400.2 L1331.4 400.2 L1332.1 400.2 L1332.7 400.2 L1333.4 400.2 L1334.1 400.2 L1334.7 400.2 L1335.4 400.2 L1336 400.2 L1336.7 400.2 L1337.4 400.2 L1338 400.2 L1338.7 400.2 L1339.3 400.2 L1340 400.2 L1340.7 400.2 L1341.3 400.2 L1342 400.2 L1342.6 400.2 L1343.3 400.2 L1344 400.2 L1344.6 400.2 L1345.3 400.2 L1345.9 400.2 L1346.6 400.2 L1347.3 400.2 L1347.9 400.2 L1348.6 400.2 L1349.2 400.2 L1349.9 400.2 L1350.6 400.2 L1351.2 400.2 L1351.9 400.2 L1352.5 400.2 L1353.2 400.2 L1353.9 400.2 L1354.5 400.2 L1355.2 400.2 L1355.8 400.2 L1356.5 400.2 L1357.2 400.2 L1357.8 400.2 L1358.5 400.2 L1359.1 400.2 L1359.8 400.2 L1360.5 400.2 L1361.1 400.2 L1361.8 400.2 L1362.4 400.2 L1363.1 400.2 L1363.8 400.2 L1364.4 400.2 L1365.1 400.2 L1365.7 400.2 L1366.4 400.2 L1367.1 400.2 L1367.7 400.2 L1368.4 400.2 L1369 400.2 L1369.7 400.2 L1370.4 400.2 L1371 400.2 L1371.7 400.2 L1372.3 400.2 L1373 400.2 L1373.7 400.2 L1374.3 400.2 L1375 400.2 L1375.6 400.2 L1376.3 400.2 L1377 400.2 L1377.6 400.2 L1378.3 400.2 L1378.9 400.2 L1379.6 400.2 L1380.3 400.2 L1380.9 400.2 L1381.6 400.2 L1382.2 400.2 L1382.9 400.2 L1383.6 400.2 L1384.2 400.2 L1384.9 400.2 L1385.5 400.2 L1386.2 400.2 L1386.8 400.2 L1387.5 400.2 L1388.2 400.2 L1388.8 400.2 L1389.5 400.2 L1390.1 400.2 L1390.8 400.2 L1391.5 400.2 L1392.1 400.2 L1392.8 400.2 L1393.4 400.2 L1394.1 400.2 L1394.8 400.2 L1395.4 400.2 L1396.1 400.2 L1396.7 400.2 L1397.4 400.2 L1398.1 400.2 L1398.7 400.2 L1399.4 400.2 L1400 400.2 L1400.7 400.2 L1401.4 400.2 L1402 400.2 L1402.7 400.2 L1403.3 400.2 L1404 400.2 L1404.7 400.2 L1405.3 400.2 L1406 400.2 L1406.6 400.2 L1407.3 400.2 L1408 400.2 L1408.6 400.2 L1409.3 400.2 L1409.9 400.2 L1410.6 400.2 L1411.3 400.2 L1411.9 400.2 L1412.6 400.2 L1413.2 400.2 L1413.9 400.2 L1414.6 400.2 L1415.2 400.2 L1415.9 400.2 L1416.5 400.2 L1417.2 400.2 L1417.9 400.2 L1418.5 400.2 L1419.2 400.2 L1419.8 400.2 L1420.5 400.2 L1421.2 400.2 L1421.8 400.2 L1422.5 400.2 L1423.1 400.2 L1423.8 400.2 L1424.5 400.2 L1425.1 400.2 L1425.8 400.2 L1426.4 400.2 L1427.1 400.2 L1427.8 400.2 L1428.4 400.2 L1429.1 400.2 L1429.7 400.2 L1430.4 400.2 L1431.1 400.2 L1431.7 400.2 L1432.4 400.2 L1433 400.2 L1433.7 400.1 L1434.4 400.1 L1435 400.1 L1435.7 400.1 L1436.3 400.1 L1437 400.1 L1437.7 400.1 L1438.3 400 L1439 400 L1439.6 400 L1440.3 399.9 L1441 399.9 L1441.6 399.8 L1442.3 399.8 L1442.9 399.7 L1443.6 399.7 L1444.3 399.6 L1444.9 399.5 L1445.6 399.4 L1446.2 399.3 L1446.9 399.1 L1447.6 399 L1448.2 398.8 L1448.9 398.6 L1449.5 398.4 L1450.2 398.2 L1450.9 397.9 L1451.5 397.6 L1452.2 397.3 L1452.8 396.9 L1453.5 396.5 L1454.2 396 L1454.8 395.5 L1455.5 395 L1456.1 394.3 L1456.8 393.7 L1457.5 392.9 L1458.1 392.1 L1458.8 391.2 L1459.4 390.2 L1460.1 389.2 L1460.8 388 L1461.4 386.7 L1462.1 385.3 L1462.7 383.9 L1463.4 382.2 L1464.1 380.5 L1464.7 378.6 L1465.4 376.6 L1466 374.4 L1466.7 372.1 L1467.4 369.6 L1468 367 L1468.7 364.2 L1469.3 361.1 L1470 358 L1470.7 354.6 L1471.3 351 L1472 347.2 L1472.6 343.3 L1473.3 339.1 L1474 334.7 L1474.6 330.2 L1475.3 325.4 L1475.9 320.4 L1476.6 315.2 L1477.3 309.8 L1477.9 304.3 L1478.6 298.5 L1479.2 292.6 L1479.9 286.5 L1480.6 280.3 L1481.2 273.9 L1481.9 267.3 L1482.5 260.7 L1483.2 253.9 L1483.9 247.1 L1484.5 240.2 L1485.2 233.2 L1485.8 226.2 L1486.5 219.2 L1487.2 212.3 L1487.8 205.3 L1488.5 198.4 L1489.1 191.6 L1489.8 184.9 L1490.5 178.3 L1491.1 171.9 L1491.8 165.7 L1492.4 159.6 L1493.1 153.8 L1493.7 148.3 L1494.4 143 L1495.1 138.1 L1495.7 133.4 L1496.4 129.1 L1497 125.2 L1497.7 121.6 L1498.4 118.4 L1499 115.6 L1499.7 113.3 L1500.3 111.4 L1501 109.9 L1501.7 108.9 L1502.3 108.3 L1503 108.2 L1503.6 108.6 L1504.3 109.4 L1505 110.6 L1505.6 112.3 L1506.3 114.4 L1506.9 117 L1507.6 119.9 L1508.3 123.3 L1508.9 127.1 L1509.6 131.2 L1510.2 135.7 L1510.9 140.5 L1511.6 145.6 L1512.2 151 L1512.9 156.7 L1513.5 162.6 L1514.2 168.8 L1514.9 175.1 L1515.5 181.6 L1516.2 188.2 L1516.8 195 L1517.5 201.8 L1518.2 208.8 L1518.8 215.7 L1519.5 222.7 L1520.1 229.7 L1520.8 236.7 L1521.5 243.7 L1522.1 250.5 L1522.8 257.3 L1523.4 264 L1524.1 270.6 L1524.8 277.1 L1525.4 283.4 L1526.1 289.6 L1526.7 295.6 L1527.4 301.4 L1528.1 307.1 L1528.7 312.5 L1529.4 317.8 L1530 322.9 L1530.7 327.8 L1531.4 332.5 L1532 336.9 L1532.7 341.2 L1533.3 345.3 L1534 349.1 L1534.7 352.8 L1535.3 356.3 L1536 359.6 L1536.6 362.7 L1537.3 365.6 L1538 368.3 L1538.6 370.9 L1539.3 373.3 L1539.9 375.5 L1540.6 377.6 L1541.3 379.6 L1541.9 381.4 L1542.6 383.1 L1543.2 384.6 L1543.9 386 L1544.6 387.4 L1545.2 388.6 L1545.9 389.7 L1546.5 390.7 L1547.2 391.7 L1547.9 392.5 L1548.5 393.3 L1549.2 394 L1549.8 394.7 L1550.5 395.3 L1551.2 395.8 L1551.8 396.3 L1552.5 396.7 L1553.1 397.1 L1553.8 397.4 L1554.5 397.8 L1555.1 398 L1555.8 398.3 L1556.4 398.5 L1557.1 398.7 L1557.8 398.9 L1558.4 399.1 L1559.1 399.2 L1559.7 399.3 L1560.4 399.4 L1561.1 399.5 L1561.7 399.6 L1562.4 399.7 L1563 399.8 L1563.7 399.8 L1564.4 399.9 L1565 399.9 L1565.7 400 L1566.3 400 L1567 400 L1567.7 400 L1568.3 400.1 L1569 400.1 L1569.6 400.1 L1570.3 400.1 L1571 400.1 L1571.6 400.1 L1572.3 400.1 L1572.9 400.2 L1573.6 400.2 L1574.3 400.2 L1574.9 400.2 L1575.6 400.2 L1576.2 400.2 L1576.9 400.2 L1577.6 400.2 L1578.2 400.2 L1578.9 400.2 L1579.5 400.2 L1580.2 400.2 L1580.9 400.2 L1581.5 400.2 L1582.2 400.2 L1582.8 400.2 L1583.5 400.2 L1584.2 400.2 L1584.8 400.2 L1585.5 400.2 L1586.1 400.2 L1586.8 400.2 L1587.5 400.2 L1588.1 400.2 L1588.8 400.2 L1589.4 400.2 L1590.1 400.2 L1590.8 400.2 L1591.4 400.2 L1592.1 400.2 L1592.7 400.2 L1593.4 400.2 L1594.1 400.2 L1594.7 400.2 L1595.4 400.2 L1596 400.2 L1596.7 400.2 L1597.3 400.2 L1598 400.2 L1598.7 400.2 L1599.3 400.2 L1600 400.2 L1600.6 400.2 L1601.3 400.2 L1602 400.2 L1602.6 400.2 L1603.3 400.2 L1603.9 400.2 L1604.6 400.2 L1605.3 400.2 L1605.9 400.2 L1606.6 400.2 L1607.2 400.2 L1607.9 400.2 L1608.6 400.2 L1609.2 400.2 L1609.9 400.2 L1610.5 400.2 L1611.2 400.2 L1611.9 400.2 L1612.5 400.2 L1613.2 400.2 L1613.8 400.2 L1614.5 400.2 L1615.2 400.2 L1615.8 400.2 L1616.5 400.2 L1617.1 400.2 L1617.8 400.2 L1618.5 400.2 L1619.1 400.2 L1619.8 400.2 L1620.4 400.2 L1621.1 400.2 L1621.8 400.2 L1622.4 400.2 L1623.1 400.2 L1623.7 400.2 L1624.4 400.2 L1625.1 400.2 L1625.7 400.2 L1626.4 400.2 L1627 400.2 L1627.7 400.2 L1628.4 400.2 L1629 400.2 L1629.7 400.2 L1630.3 400.2 L1631 400.2 L1631.7 400.2 L1632.3 400.2 L1633 400.2 L1633.6 400.2 L1634.3 400.2 L1635 400.2 L1635.6 400.2 L1636.3 400.2 L1636.9 400.2 L1637.6 400.2 L1638.3 400.2 L1638.9 400.2 L1639.6 400.2 L1640.2 400.2 L1640.9 400.2 L1641.6 400.2 L1642.2 400.2 L1642.9 400.2 L1643.5 400.2 L1644.2 400.2 L1644.9 400.2 L1645.5 400.2 L1646.2 400.2 L1646.8 400.2 L1647.5 400.2 L1648.2 400.2 L1648.8 400.2 L1649.5 400.2 L1650.1 400.2 L1650.8 400.2 L1651.5 400.2 L1652.1 400.2 L1652.8 400.2 L1653.4 400.2 L1654.1 400.2 L1654.8 400.2 L1655.4 400.2 L1656.1 400.2 L1656.7 400.2 L1657.4 400.2 L1658.1 400.2 L1658.7 400.2 L1659.4 400.2 L1660 400.2 L1660.7 400.2 L1661.4 400.2 L1662 400.2 L1662.7 400.2 L1663.3 400.2 L1664 400.2 L1664.7 400.2 L1665.3 400.2 L1666 400.2 L1666.6 400.2 L1667.3 400.2 L1668 400.2 L1668.6 400.2 L1669.3 400.2 L1669.9 400.2 L1670.6 400.2 L1671.3 400.2 L1671.9 400.2 L1672.6 400.2 L1673.2 400.2 L1673.9 400.2 L1674.6 400.2 L1675.2 400.2 L1675.9 400.2 L1676.5 400.2 L1677.2 400.2 L1677.9 400.2 L1678.5 400.2 L1679.2 400.2 L1679.8 400.2 L1680.5 400.2 L1681.2 400.2 L1681.8 400.2 L1682.5 400.2 L1683.1 400.2 L1683.8 400.2 L1684.5 400.2 L1685.1 400.2 L1685.8 400.2 L1686.4 400.2 L1687.1 400.2 L1687.8 400.2 L1688.4 400.2 L1689.1 400.2 L1689.7 400.2 L1690.4 400.2 L1691.1 400.2 L1691.7 400.2 L1692.4 400.2 L1693 400.2 L1693.7 400.2 L1694.4 400.2 L1695 400.2 L1695.7 400.2 L1696.3 400.2 L1697 400.2 L1697.7 400.2 L1698.3 400.2 L1699 400.2 L1699.6 400.2 L1700.3 400.2 L1701 400.2 L1701.6 400.2 L1702.3 400.2 L1702.9 400.2 L1703.6 400.2 L1704.2 400.2 L1704.9 400.2 L1705.6 400.2 L1706.2 400.2 L1706.9 400.2 L1707.5 400.2 L1708.2 400.2 L1708.9 400.2 L1709.5 400.2 L1710.2 400.2 L1710.8 400.2 L1711.5 400.2 L1712.2 400.2 L1712.8 400.2 L1713.5 400.2 L1714.1 400.2 L1714.8 400.2 L1715.5 400.2 L1716.1 400.2 L1716.8 400.2 L1717.4 400.2 L1718.1 400.2 L1718.8 400.2 L1719.4 400.2 L1720.1 400.2 L1720.7 400.2 L1721.4 400.2 L1722.1 400.2 L1722.7 400.2 L1723.4 400.2 L1724 400.2 L1724.7 400.2 L1725.4 400.2 L1726 400.2 L1726.7 400.2 L1727.3 400.2 L1728 400.2 L1728.7 400.2 L1729.3 400.2 L1730 400.2 L1730.6 400.2 L1731.3 400.2 L1732 400.2 L1732.6 400.2 L1733.3 400.2 L1733.9 400.2 L1734.6 400.2 L1735.3 400.2 L1735.9 400.2 L1736.6 400.2 L1737.2 400.2 L1737.9 400.2 L1738.6 400.2 L1739.2 400.2 L1739.9 400.2 L1740.5 400.2 L1741.2 400.2 L1741.9 400.2 L1742.5 400.2 L1743.2 400.2 L1743.8 400.2 L1744.5 400.2 L1745.2 400.2 L1745.8 400.2 L1746.5 400.2 L1747.1 400.2 L1747.8 400.2 L1748.5 400.2 L1749.1 400.2 L1749.8 400.2 L1750.4 400.2 L1751.1 400.2 L1751.8 400.2 L1752.4 400.2 L1753.1 400.2 L1753.7 400.2 L1754.4 400.2" fill="none" stroke="#d09c08" stroke-width="3" stroke-linejoin="round"/><path d="M1226.5 400.2 L1227.2 400.2 L1227.8 400.2 L1228.5 400.2 L1229.1 400.2 L1229.8 400.2 L1230.5 400.2 L1231.1 400.2 L1231.8 400.2 L1232.4 400.2 L1233.1 400.2 L1233.8 400.2 L1234.4 400.2 L1235.1 400.2 L1235.7 400.2 L1236.4 400.2 L1237.1 400.2 L1237.7 400.2 L1238.4 400.2 L1239 400.2 L1239.7 400.2 L1240.4 400.2 L1241 400.2 L1241.7 400.2 L1242.3 400.2 L1243 400.2 L1243.7 400.2 L1244.3 400.2 L1245 400.2 L1245.6 400.2 L1246.3 400.2 L1247 400.2 L1247.6 400.2 L1248.3 400.2 L1248.9 400.2 L1249.6 400.2 L1250.3 400.2 L1250.9 400.2 L1251.6 400.2 L1252.2 400.2 L1252.9 400.2 L1253.6 400.2 L1254.2 400.2 L1254.9 400.2 L1255.5 400.2 L1256.2 400.2 L1256.9 400.2 L1257.5 400.2 L1258.2 400.2 L1258.8 400.2 L1259.5 400.2 L1260.2 400.2 L1260.8 400.2 L1261.5 400.2 L1262.1 400.2 L1262.8 400.2 L1263.5 400.2 L1264.1 400.2 L1264.8 400.2 L1265.4 400.2 L1266.1 400.2 L1266.8 400.2 L1267.4 400.2 L1268.1 400.2 L1268.7 400.2 L1269.4 400.2 L1270.1 400.2 L1270.7 400.2 L1271.4 400.2 L1272 400.2 L1272.7 400.2 L1273.4 400.2 L1274 400.2 L1274.7 400.2 L1275.3 400.2 L1276 400.2 L1276.7 400.2 L1277.3 400.2 L1278 400.2 L1278.6 400.2 L1279.3 400.2 L1279.9 400.2 L1280.6 400.2 L1281.3 400.2 L1281.9 400.2 L1282.6 400.2 L1283.2 400.2 L1283.9 400.2 L1284.6 400.2 L1285.2 400.2 L1285.9 400.2 L1286.5 400.2 L1287.2 400.2 L1287.9 400.2 L1288.5 400.2 L1289.2 400.2 L1289.8 400.2 L1290.5 400.2 L1291.2 400.2 L1291.8 400.2 L1292.5 400.2 L1293.1 400.2 L1293.8 400.2 L1294.5 400.2 L1295.1 400.2 L1295.8 400.2 L1296.4 400.2 L1297.1 400.2 L1297.8 400.2 L1298.4 400.2 L1299.1 400.2 L1299.7 400.2 L1300.4 400.2 L1301.1 400.2 L1301.7 400.2 L1302.4 400.2 L1303 400.2 L1303.7 400.2 L1304.4 400.2 L1305 400.2 L1305.7 400.2 L1306.3 400.2 L1307 400.2 L1307.7 400.2 L1308.3 400.2 L1309 400.2 L1309.6 400.2 L1310.3 400.2 L1311 400.2 L1311.6 400.2 L1312.3 400.2 L1312.9 400.2 L1313.6 400.2 L1314.3 400.2 L1314.9 400.2 L1315.6 400.2 L1316.2 400.2 L1316.9 400.2 L1317.6 400.2 L1318.2 400.2 L1318.9 400.2 L1319.5 400.2 L1320.2 400.2 L1320.9 400.2 L1321.5 400.2 L1322.2 400.2 L1322.8 400.2 L1323.5 400.2 L1324.2 400.2 L1324.8 400.2 L1325.5 400.2 L1326.1 400.2 L1326.8 400.2 L1327.5 400.2 L1328.1 400.2 L1328.8 400.2 L1329.4 400.2 L1330.1 400.2 L1330.8 400.2 L1331.4 400.2 L1332.1 400.2 L1332.7 400.2 L1333.4 400.2 L1334.1 400.2 L1334.7 400.2 L1335.4 400.2 L1336 400.2 L1336.7 400.2 L1337.4 400.2 L1338 400.2 L1338.7 400.1 L1339.3 400.1 L1340 400.1 L1340.7 400.1 L1341.3 400.1 L1342 400.1 L1342.6 400.1 L1343.3 400.1 L1344 400.1 L1344.6 400.1 L1345.3 400.1 L1345.9 400.1 L1346.6 400.1 L1347.3 400.1 L1347.9 400.1 L1348.6 400.1 L1349.2 400.1 L1349.9 400.1 L1350.6 400.1 L1351.2 400.1 L1351.9 400.1 L1352.5 400.1 L1353.2 400 L1353.9 400 L1354.5 400 L1355.2 400 L1355.8 400 L1356.5 400 L1357.2 400 L1357.8 400 L1358.5 400 L1359.1 400 L1359.8 400 L1360.5 399.9 L1361.1 399.9 L1361.8 399.9 L1362.4 399.9 L1363.1 399.9 L1363.8 399.9 L1364.4 399.9 L1365.1 399.9 L1365.7 399.8 L1366.4 399.8 L1367.1 399.8 L1367.7 399.8 L1368.4 399.8 L1369 399.7 L1369.7 399.7 L1370.4 399.7 L1371 399.7 L1371.7 399.7 L1372.3 399.6 L1373 399.6 L1373.7 399.6 L1374.3 399.6 L1375 399.5 L1375.6 399.5 L1376.3 399.5 L1377 399.5 L1377.6 399.4 L1378.3 399.4 L1378.9 399.4 L1379.6 399.3 L1380.3 399.3 L1380.9 399.2 L1381.6 399.2 L1382.2 399.2 L1382.9 399.1 L1383.6 399.1 L1384.2 399 L1384.9 399 L1385.5 398.9 L1386.2 398.9 L1386.8 398.8 L1387.5 398.8 L1388.2 398.7 L1388.8 398.7 L1389.5 398.6 L1390.1 398.6 L1390.8 398.5 L1391.5 398.4 L1392.1 398.4 L1392.8 398.3 L1393.4 398.2 L1394.1 398.2 L1394.8 398.1 L1395.4 398 L1396.1 397.9 L1396.7 397.9 L1397.4 397.8 L1398.1 397.7 L1398.7 397.6 L1399.4 397.5 L1400 397.4 L1400.7 397.3 L1401.4 397.2 L1402 397.1 L1402.7 397 L1403.3 396.9 L1404 396.8 L1404.7 396.7 L1405.3 396.5 L1406 396.4 L1406.6 396.3 L1407.3 396.2 L1408 396 L1408.6 395.9 L1409.3 395.8 L1409.9 395.6 L1410.6 395.5 L1411.3 395.3 L1411.9 395.2 L1412.6 395 L1413.2 394.9 L1413.9 394.7 L1414.6 394.5 L1415.2 394.3 L1415.9 394.2 L1416.5 394 L1417.2 393.8 L1417.9 393.6 L1418.5 393.4 L1419.2 393.2 L1419.8 393 L1420.5 392.8 L1421.2 392.6 L1421.8 392.4 L1422.5 392.1 L1423.1 391.9 L1423.8 391.7 L1424.5 391.4 L1425.1 391.2 L1425.8 390.9 L1426.4 390.7 L1427.1 390.4 L1427.8 390.2 L1428.4 389.9 L1429.1 389.6 L1429.7 389.3 L1430.4 389 L1431.1 388.8 L1431.7 388.5 L1432.4 388.2 L1433 387.8 L1433.7 387.5 L1434.4 387.2 L1435 386.9 L1435.7 386.6 L1436.3 386.2 L1437 385.9 L1437.7 385.5 L1438.3 385.2 L1439 384.8 L1439.6 384.5 L1440.3 384.1 L1441 383.7 L1441.6 383.3 L1442.3 383 L1442.9 382.6 L1443.6 382.2 L1444.3 381.8 L1444.9 381.4 L1445.6 380.9 L1446.2 380.5 L1446.9 380.1 L1447.6 379.7 L1448.2 379.2 L1448.9 378.8 L1449.5 378.3 L1450.2 377.9 L1450.9 377.4 L1451.5 377 L1452.2 376.5 L1452.8 376 L1453.5 375.6 L1454.2 375.1 L1454.8 374.6 L1455.5 374.1 L1456.1 373.6 L1456.8 373.1 L1457.5 372.6 L1458.1 372.1 L1458.8 371.6 L1459.4 371.1 L1460.1 370.6 L1460.8 370.1 L1461.4 369.5 L1462.1 369 L1462.7 368.5 L1463.4 367.9 L1464.1 367.4 L1464.7 366.9 L1465.4 366.3 L1466 365.8 L1466.7 365.2 L1467.4 364.7 L1468 364.1 L1468.7 363.6 L1469.3 363 L1470 362.5 L1470.7 361.9 L1471.3 361.3 L1472 360.8 L1472.6 360.2 L1473.3 359.7 L1474 359.1 L1474.6 358.5 L1475.3 358 L1475.9 357.4 L1476.6 356.9 L1477.3 356.3 L1477.9 355.7 L1478.6 355.2 L1479.2 354.6 L1479.9 354.1 L1480.6 353.5 L1481.2 353 L1481.9 352.4 L1482.5 351.9 L1483.2 351.3 L1483.9 350.8 L1484.5 350.3 L1485.2 349.7 L1485.8 349.2 L1486.5 348.7 L1487.2 348.2 L1487.8 347.6 L1488.5 347.1 L1489.1 346.6 L1489.8 346.1 L1490.5 345.6 L1491.1 345.1 L1491.8 344.7 L1492.4 344.2 L1493.1 343.7 L1493.7 343.2 L1494.4 342.8 L1495.1 342.3 L1495.7 341.9 L1496.4 341.5 L1497 341 L1497.7 340.6 L1498.4 340.2 L1499 339.8 L1499.7 339.4 L1500.3 339 L1501 338.6 L1501.7 338.3 L1502.3 337.9 L1503 337.5 L1503.6 337.2 L1504.3 336.9 L1505 336.6 L1505.6 336.2 L1506.3 335.9 L1506.9 335.7 L1507.6 335.4 L1508.3 335.1 L1508.9 334.9 L1509.6 334.6 L1510.2 334.4 L1510.9 334.2 L1511.6 333.9 L1512.2 333.7 L1512.9 333.6 L1513.5 333.4 L1514.2 333.2 L1514.9 333.1 L1515.5 332.9 L1516.2 332.8 L1516.8 332.7 L1517.5 332.6 L1518.2 332.5 L1518.8 332.4 L1519.5 332.3 L1520.1 332.3 L1520.8 332.2 L1521.5 332.2 L1522.1 332.2 L1522.8 332.2 L1523.4 332.2 L1524.1 332.2 L1524.8 332.3 L1525.4 332.3 L1526.1 332.4 L1526.7 332.4 L1527.4 332.5 L1528.1 332.6 L1528.7 332.7 L1529.4 332.9 L1530 333 L1530.7 333.1 L1531.4 333.3 L1532 333.5 L1532.7 333.6 L1533.3 333.8 L1534 334 L1534.7 334.3 L1535.3 334.5 L1536 334.7 L1536.6 335 L1537.3 335.2 L1538 335.5 L1538.6 335.8 L1539.3 336.1 L1539.9 336.4 L1540.6 336.7 L1541.3 337 L1541.9 337.4 L1542.6 337.7 L1543.2 338.1 L1543.9 338.4 L1544.6 338.8 L1545.2 339.2 L1545.9 339.6 L1546.5 340 L1547.2 340.4 L1547.9 340.8 L1548.5 341.2 L1549.2 341.7 L1549.8 342.1 L1550.5 342.6 L1551.2 343 L1551.8 343.5 L1552.5 343.9 L1553.1 344.4 L1553.8 344.9 L1554.5 345.4 L1555.1 345.9 L1555.8 346.4 L1556.4 346.9 L1557.1 347.4 L1557.8 347.9 L1558.4 348.4 L1559.1 348.9 L1559.7 349.5 L1560.4 350 L1561.1 350.5 L1561.7 351.1 L1562.4 351.6 L1563 352.1 L1563.7 352.7 L1564.4 353.2 L1565 353.8 L1565.7 354.3 L1566.3 354.9 L1567 355.5 L1567.7 356 L1568.3 356.6 L1569 357.1 L1569.6 357.7 L1570.3 358.3 L1571 358.8 L1571.6 359.4 L1572.3 359.9 L1572.9 360.5 L1573.6 361.1 L1574.3 361.6 L1574.9 362.2 L1575.6 362.7 L1576.2 363.3 L1576.9 363.8 L1577.6 364.4 L1578.2 364.9 L1578.9 365.5 L1579.5 366 L1580.2 366.6 L1580.9 367.1 L1581.5 367.7 L1582.2 368.2 L1582.8 368.7 L1583.5 369.3 L1584.2 369.8 L1584.8 370.3 L1585.5 370.8 L1586.1 371.4 L1586.8 371.9 L1587.5 372.4 L1588.1 372.9 L1588.8 373.4 L1589.4 373.9 L1590.1 374.4 L1590.8 374.8 L1591.4 375.3 L1592.1 375.8 L1592.7 376.3 L1593.4 376.7 L1594.1 377.2 L1594.7 377.7 L1595.4 378.1 L1596 378.6 L1596.7 379 L1597.3 379.5 L1598 379.9 L1598.7 380.3 L1599.3 380.7 L1600 381.1 L1600.6 381.6 L1601.3 382 L1602 382.4 L1602.6 382.8 L1603.3 383.1 L1603.9 383.5 L1604.6 383.9 L1605.3 384.3 L1605.9 384.6 L1606.6 385 L1607.2 385.4 L1607.9 385.7 L1608.6 386.1 L1609.2 386.4 L1609.9 386.7 L1610.5 387.1 L1611.2 387.4 L1611.9 387.7 L1612.5 388 L1613.2 388.3 L1613.8 388.6 L1614.5 388.9 L1615.2 389.2 L1615.8 389.5 L1616.5 389.7 L1617.1 390 L1617.8 390.3 L1618.5 390.6 L1619.1 390.8 L1619.8 391.1 L1620.4 391.3 L1621.1 391.5 L1621.8 391.8 L1622.4 392 L1623.1 392.2 L1623.7 392.5 L1624.4 392.7 L1625.1 392.9 L1625.7 393.1 L1626.4 393.3 L1627 393.5 L1627.7 393.7 L1628.4 393.9 L1629 394.1 L1629.7 394.3 L1630.3 394.4 L1631 394.6 L1631.7 394.8 L1632.3 394.9 L1633 395.1 L1633.6 395.2 L1634.3 395.4 L1635 395.6 L1635.6 395.7 L1636.3 395.8 L1636.9 396 L1637.6 396.1 L1638.3 396.2 L1638.9 396.4 L1639.6 396.5 L1640.2 396.6 L1640.9 396.7 L1641.6 396.8 L1642.2 396.9 L1642.9 397.1 L1643.5 397.2 L1644.2 397.3 L1644.9 397.4 L1645.5 397.5 L1646.2 397.6 L1646.8 397.6 L1647.5 397.7 L1648.2 397.8 L1648.8 397.9 L1649.5 398 L1650.1 398.1 L1650.8 398.1 L1651.5 398.2 L1652.1 398.3 L1652.8 398.3 L1653.4 398.4 L1654.1 398.5 L1654.8 398.5 L1655.4 398.6 L1656.1 398.7 L1656.7 398.7 L1657.4 398.8 L1658.1 398.8 L1658.7 398.9 L1659.4 398.9 L1660 399 L1660.7 399 L1661.4 399.1 L1662 399.1 L1662.7 399.1 L1663.3 399.2 L1664 399.2 L1664.7 399.3 L1665.3 399.3 L1666 399.3 L1666.6 399.4 L1667.3 399.4 L1668 399.4 L1668.6 399.5 L1669.3 399.5 L1669.9 399.5 L1670.6 399.6 L1671.3 399.6 L1671.9 399.6 L1672.6 399.6 L1673.2 399.7 L1673.9 399.7 L1674.6 399.7 L1675.2 399.7 L1675.9 399.7 L1676.5 399.8 L1677.2 399.8 L1677.9 399.8 L1678.5 399.8 L1679.2 399.8 L1679.8 399.8 L1680.5 399.9 L1681.2 399.9 L1681.8 399.9 L1682.5 399.9 L1683.1 399.9 L1683.8 399.9 L1684.5 399.9 L1685.1 400 L1685.8 400 L1686.4 400 L1687.1 400 L1687.8 400 L1688.4 400 L1689.1 400 L1689.7 400 L1690.4 400 L1691.1 400 L1691.7 400 L1692.4 400.1 L1693 400.1 L1693.7 400.1 L1694.4 400.1 L1695 400.1 L1695.7 400.1 L1696.3 400.1 L1697 400.1 L1697.7 400.1 L1698.3 400.1 L1699 400.1 L1699.6 400.1 L1700.3 400.1 L1701 400.1 L1701.6 400.1 L1702.3 400.1 L1702.9 400.1 L1703.6 400.1 L1704.2 400.1 L1704.9 400.1 L1705.6 400.1 L1706.2 400.1 L1706.9 400.2 L1707.5 400.2 L1708.2 400.2 L1708.9 400.2 L1709.5 400.2 L1710.2 400.2 L1710.8 400.2 L1711.5 400.2 L1712.2 400.2 L1712.8 400.2 L1713.5 400.2 L1714.1 400.2 L1714.8 400.2 L1715.5 400.2 L1716.1 400.2 L1716.8 400.2 L1717.4 400.2 L1718.1 400.2 L1718.8 400.2 L1719.4 400.2 L1720.1 400.2 L1720.7 400.2 L1721.4 400.2 L1722.1 400.2 L1722.7 400.2 L1723.4 400.2 L1724 400.2 L1724.7 400.2 L1725.4 400.2 L1726 400.2 L1726.7 400.2 L1727.3 400.2 L1728 400.2 L1728.7 400.2 L1729.3 400.2 L1730 400.2 L1730.6 400.2 L1731.3 400.2 L1732 400.2 L1732.6 400.2 L1733.3 400.2 L1733.9 400.2 L1734.6 400.2 L1735.3 400.2 L1735.9 400.2 L1736.6 400.2 L1737.2 400.2 L1737.9 400.2 L1738.6 400.2 L1739.2 400.2 L1739.9 400.2 L1740.5 400.2 L1741.2 400.2 L1741.9 400.2 L1742.5 400.2 L1743.2 400.2 L1743.8 400.2 L1744.5 400.2 L1745.2 400.2 L1745.8 400.2 L1746.5 400.2 L1747.1 400.2 L1747.8 400.2 L1748.5 400.2 L1749.1 400.2 L1749.8 400.2 L1750.4 400.2 L1751.1 400.2 L1751.8 400.2 L1752.4 400.2 L1753.1 400.2 L1753.7 400.2 L1754.4 400.2" fill="none" stroke="#0ac8c8" stroke-width="3.2" stroke-linejoin="round"/></g><path d="M1565.7 98.6H1647.6" stroke="#555" stroke-width="3"/><path d="M1565.7 142.3H1647.6" stroke="#ff1010" stroke-width="3" stroke-dasharray="17.8 12.5"/><text x="1655.1" y="111.5" font-family="'Liberation Serif','Times New Roman',serif" font-size="36" fill="#000" text-anchor="start">GO</text><text x="1655.4" y="154.8" font-family="'Liberation Serif','Times New Roman',serif" font-size="36" fill="#000" text-anchor="start">Fitting</text><text x="1528.6" y="49.8" font-family="'Liberation Serif','Times New Roman',serif" font-size="36" fill="#000" text-anchor="start">C-O</text><text x="1261.6" y="142.4" font-family="'Liberation Serif','Times New Roman',serif" font-size="36" fill="#000" text-anchor="start">C-C/C=C</text><text x="1569.6" y="279.4" font-family="'Liberation Serif','Times New Roman',serif" font-size="36" fill="#000" text-anchor="start">C=O</text><path d="M1504.5 103.2L1556.9 67.8" stroke="#000" stroke-width="1.6"/><path d="M1565 62.3L1556.5 72.9L1556.9 67.8L1552 66.3Z" fill="#000"/><path d="M1427.6 205.7L1375.5 169.9" stroke="#000" stroke-width="1.6"/><path d="M1367.5 164.4L1380.5 168.5L1375.5 169.9L1375.9 175.1Z" fill="#000"/><path d="M1523 331L1575.4 295.5" stroke="#000" stroke-width="1.6"/><path d="M1583.5 290L1575 300.6L1575.4 295.5L1570.5 294Z" fill="#000"/><rect x="1226.5" y="3.7" width="527.9" height="422.3" fill="none" stroke="#000" stroke-width="1.3"/><path d="M1259.5 426V434M1424.5 426V434M1589.4 426V434M1754.4 426V434M1342 426V430M1506.9 426V430M1671.9 426V430" stroke="#000" stroke-width="1.3"/><text x="1259.5" y="461.5" font-family="'Liberation Serif','Times New Roman',serif" font-size="27.5" fill="#000" text-anchor="middle">280</text><text x="1424.5" y="461.5" font-family="'Liberation Serif','Times New Roman',serif" font-size="27.5" fill="#000" text-anchor="middle">285</text><text x="1589.4" y="461.5" font-family="'Liberation Serif','Times New Roman',serif" font-size="27.5" fill="#000" text-anchor="middle">290</text><text x="1754.4" y="461.5" font-family="'Liberation Serif','Times New Roman',serif" font-size="27.5" fill="#000" text-anchor="middle">295</text><text x="1344" y="498.8" font-family="'Liberation Serif','Times New Roman',serif" font-size="36" fill="#000" text-anchor="start">Binding energy / eV</text><text x="1201.6" y="203.7" font-family="'Liberation Serif','Times New Roman',serif" font-size="36" fill="#000" text-anchor="middle" transform="rotate(-90 1201.6 203.7)">Intensity / a. u.</text><text x="1240.2" y="61.4" font-family="'Liberation Sans',Arial,sans-serif" font-size="42" font-weight="bold" fill="#000" text-anchor="start">(c)</text><clipPath id="ck"><rect x="625.7" y="960.5" width="540.1" height="434.5"/></clipPath><g clip-path="url(#ck)"><path d="M625.7 1193 L626 1189.9 L626.2 1186.9 L626.5 1183.9 L626.8 1181 L627.1 1178.1 L627.3 1175.3 L627.6 1172.6 L627.9 1170 L628.1 1167.4 L628.4 1164.8 L628.7 1162.3 L628.9 1159.9 L629.2 1157.5 L629.5 1155.2 L629.8 1152.9 L630 1150.6 L630.3 1148.4 L630.6 1146.3 L630.8 1144.2 L631.1 1142.1 L631.4 1140 L631.6 1138 L631.9 1136.1 L632.2 1134.2 L632.5 1132.3 L632.7 1130.4 L633 1128.6 L633.3 1126.8 L633.5 1125 L633.8 1123.3 L634.1 1121.6 L634.3 1119.9 L634.6 1118.3 L634.9 1116.7 L635.2 1115.1 L635.4 1113.5 L635.7 1112 L636 1110.5 L636.2 1109 L636.5 1107.5 L636.8 1106.1 L637 1104.7 L637.3 1103.3 L637.6 1101.9 L637.9 1100.6 L638.1 1099.2 L638.4 1097.9 L638.7 1096.6 L638.9 1095.4 L639.2 1094.1 L639.5 1092.9 L639.7 1091.7 L640 1090.5 L640.3 1089.3 L640.6 1088.2 L640.8 1087 L641.1 1085.9 L641.4 1084.8 L641.6 1083.7 L641.9 1082.6 L642.2 1081.6 L642.4 1080.5 L642.7 1079.5 L643 1078.5 L643.3 1077.5 L643.5 1076.5 L643.8 1075.5 L644.1 1074.6 L644.3 1073.7 L644.6 1072.7 L644.9 1071.8 L645.1 1070.9 L645.4 1070 L645.7 1069.2 L646 1068.3 L646.2 1067.5 L646.5 1066.6 L646.8 1065.8 L647 1065 L647.3 1064.2 L647.6 1063.4 L647.8 1062.6 L648.1 1061.9 L648.4 1061.1 L648.7 1060.4 L648.9 1059.7 L649.2 1059 L649.5 1058.3 L649.7 1057.6 L650 1056.9 L650.3 1056.2 L650.5 1055.5 L650.8 1054.9 L651.1 1054.3 L651.4 1053.6 L651.6 1053 L651.9 1052.4 L652.2 1051.8 L652.4 1051.2 L652.7 1050.6 L653 1050 L653.2 1049.5 L653.5 1048.9 L653.8 1048.4 L654.1 1047.9 L654.3 1047.3 L654.6 1046.8 L654.9 1046.3 L655.1 1045.8 L655.4 1045.3 L655.7 1044.8 L655.9 1044.4 L656.2 1043.9 L656.5 1043.5 L656.8 1043 L657 1042.6 L657.3 1042.1 L657.6 1041.7 L657.8 1041.3 L658.1 1040.9 L658.4 1040.5 L658.6 1040.1 L658.9 1039.8 L659.2 1039.4 L659.5 1039 L659.7 1038.7 L660 1038.3 L660.3 1038 L660.5 1037.7 L660.8 1037.3 L661.1 1037 L661.3 1036.7 L661.6 1036.4 L661.9 1036.1 L662.2 1035.8 L662.4 1035.6 L662.7 1035.3 L663 1035 L663.2 1034.8 L663.5 1034.5 L663.8 1034.3 L664 1034.1 L664.3 1033.8 L664.6 1033.6 L664.9 1033.4 L665.1 1033.2 L665.4 1033 L665.7 1032.8 L665.9 1032.7 L666.2 1032.5 L666.5 1032.3 L666.7 1032.2 L667 1032 L667.3 1031.9 L667.6 1031.7 L667.8 1031.6 L668.1 1031.5 L668.4 1031.4 L668.6 1031.3 L668.9 1031.2 L669.2 1031.1 L669.4 1031 L669.7 1030.9 L670 1030.8 L670.3 1030.8 L670.5 1030.7 L670.8 1030.6 L671.1 1030.6 L671.3 1030.6 L671.6 1030.5 L671.9 1030.5 L672.1 1030.5 L672.4 1030.5 L672.7 1030.5 L673 1030.5 L673.2 1030.5 L673.5 1030.5 L673.8 1030.5 L674 1030.6 L674.3 1030.6 L674.6 1030.7 L674.8 1030.8 L675.1 1030.8 L675.4 1030.9 L675.7 1031 L675.9 1031.1 L676.2 1031.2 L676.5 1031.4 L676.7 1031.5 L677 1031.6 L677.3 1031.8 L677.5 1031.9 L677.8 1032.1 L678.1 1032.3 L678.4 1032.5 L678.6 1032.7 L678.9 1032.9 L679.2 1033.1 L679.4 1033.3 L679.7 1033.6 L680 1033.8 L680.3 1034.1 L680.5 1034.3 L680.8 1034.6 L681.1 1034.9 L681.3 1035.2 L681.6 1035.5 L681.9 1035.8 L682.1 1036.1 L682.4 1036.5 L682.7 1036.8 L683 1037.2 L683.2 1037.5 L683.5 1037.9 L683.8 1038.3 L684 1038.7 L684.3 1039.1 L684.6 1039.5 L684.8 1039.9 L685.1 1040.4 L685.4 1040.8 L685.7 1041.3 L685.9 1041.7 L686.2 1042.2 L686.5 1042.7 L686.7 1043.2 L687 1043.7 L687.3 1044.2 L687.5 1044.8 L687.8 1045.3 L688.1 1045.9 L688.4 1046.5 L688.6 1047 L688.9 1047.6 L689.2 1048.2 L689.4 1048.9 L689.7 1049.5 L690 1050.1 L690.2 1050.8 L690.5 1051.5 L690.8 1052.1 L691.1 1052.8 L691.3 1053.5 L691.6 1054.3 L691.9 1055 L692.1 1055.7 L692.4 1056.5 L692.7 1057.3 L692.9 1058.1 L693.2 1058.9 L693.5 1059.7 L693.8 1060.5 L694 1061.4 L694.3 1062.2 L694.6 1063.1 L694.8 1064 L695.1 1064.9 L695.4 1065.8 L695.6 1066.7 L695.9 1067.7 L696.2 1068.7 L696.5 1069.7 L696.7 1070.7 L697 1071.7 L697.3 1072.7 L697.5 1073.8 L697.8 1074.9 L698.1 1076 L698.3 1077.1 L698.6 1078.2 L698.9 1079.3 L699.2 1080.5 L699.4 1081.7 L699.7 1082.9 L700 1084.2 L700.2 1085.4 L700.5 1086.7 L700.8 1088 L701 1089.3 L701.3 1090.6 L701.6 1092 L701.9 1093.4 L702.1 1094.8 L702.4 1096.3 L702.7 1097.7 L702.9 1099.2 L703.2 1100.7 L703.5 1102.3 L703.7 1103.9 L704 1105.5 L704.3 1107.1 L704.6 1108.8 L704.8 1110.5 L705.1 1112.2 L705.4 1113.9 L705.6 1115.7 L705.9 1117.6 L706.2 1119.4 L706.4 1121.3 L706.7 1123.3 L707 1125.2 L707.3 1127.3 L707.5 1129.3 L707.8 1131.4 L708.1 1133.6 L708.3 1135.7 L708.6 1138 L708.9 1140.3 L709.1 1142.6 L709.4 1145 L709.7 1147.4 L710 1149.9 L710.2 1152.5 L710.5 1155.1 L710.8 1157.7 L711 1160.5 L711.3 1163.3 L711.6 1166.1 L711.8 1169.1 L712.1 1172.1 L712.4 1175.2 L712.7 1178.3 L712.9 1181.6 L713.2 1184.9 L713.5 1188.4 L713.7 1191.9 L714 1195.5 L714.3 1199.3 L714.5 1203.1 L714.8 1207 L715.1 1211.1 L715.4 1215.3 L715.6 1219.6 L715.9 1224.1 L716.2 1228.6 L716.4 1233.3 L716.7 1238.2 L717 1243.2 L717.2 1248.3 L717.5 1253.6 L717.8 1259 L718.1 1264.6 L718.3 1270.3 L718.6 1276 L718.9 1281.8 L719.1 1287.7 L719.4 1293.5 L719.7 1299.3 L719.9 1304.8 L720.2 1310 L720.5 1314.9 L720.8 1319.1 L721 1322.6 L721.3 1325.3 L721.6 1326.9 L721.8 1327.4 L722.1 1327 L722.4 1325.8 L722.6 1323.8 L722.9 1321 L723.2 1317.7 L723.5 1313.8 L723.7 1309.5 L724 1304.9 L724.3 1300.1 L724.5 1295.1 L724.8 1290 L725.1 1284.9 L725.3 1279.8 L725.6 1274.7 L725.9 1269.7 L726.2 1264.7 L726.4 1259.8 L726.7 1255.1 L727 1250.4 L727.2 1245.8 L727.5 1241.4 L727.8 1237.1 L728 1232.8 L728.3 1228.7 L728.6 1224.7 L728.9 1220.8 L729.1 1217 L729.4 1213.3 L729.7 1209.6 L729.9 1206.1 L730.2 1202.7 L730.5 1199.3 L730.7 1196 L731 1192.8 L731.3 1189.7 L731.6 1186.7 L731.8 1183.7 L732.1 1180.8 L732.4 1178 L732.6 1175.2 L732.9 1172.5 L733.2 1169.8 L733.4 1167.2 L733.7 1164.7 L734 1162.2 L734.3 1159.8 L734.5 1157.4 L734.8 1155.1 L735.1 1152.8 L735.3 1150.5 L735.6 1148.3 L735.9 1146.2 L736.2 1144.1 L736.4 1142 L736.7 1139.9 L737 1137.9 L737.2 1136 L737.5 1134.1 L737.8 1132.2 L738 1130.3 L738.3 1128.5 L738.6 1126.7 L738.9 1124.9 L739.1 1123.2 L739.4 1121.5 L739.7 1119.8 L739.9 1118.2 L740.2 1116.6 L740.5 1115 L740.7 1113.4 L741 1111.9 L741.3 1110.4 L741.6 1108.9 L741.8 1107.4 L742.1 1106 L742.4 1104.6 L742.6 1103.2 L742.9 1101.8 L743.2 1100.5 L743.4 1099.1 L743.7 1097.8 L744 1096.5 L744.3 1095.3 L744.5 1094 L744.8 1092.8 L745.1 1091.6 L745.3 1090.4 L745.6 1089.2 L745.9 1088 L746.1 1086.9 L746.4 1085.8 L746.7 1084.7 L747 1083.6 L747.2 1082.5 L747.5 1081.5 L747.8 1080.4 L748 1079.4 L748.3 1078.4 L748.6 1077.4 L748.8 1076.4 L749.1 1075.4 L749.4 1074.5 L749.7 1073.5 L749.9 1072.6 L750.2 1071.7 L750.5 1070.8 L750.7 1069.9 L751 1069 L751.3 1068.2 L751.5 1067.3 L751.8 1066.5 L752.1 1065.7 L752.4 1064.9 L752.6 1064.1 L752.9 1063.3 L753.2 1062.5 L753.4 1061.7 L753.7 1061 L754 1060.3 L754.2 1059.5 L754.5 1058.8 L754.8 1058.1 L755.1 1057.4 L755.3 1056.7 L755.6 1056 L755.9 1055.4 L756.1 1054.7 L756.4 1054.1 L756.7 1053.5 L756.9 1052.8 L757.2 1052.2 L757.5 1051.6 L757.8 1051 L758 1050.4 L758.3 1049.9 L758.6 1049.3 L758.8 1048.8 L759.1 1048.2 L759.4 1047.7 L759.6 1047.2 L759.9 1046.6 L760.2 1046.1 L760.5 1045.6 L760.7 1045.1 L761 1044.7 L761.3 1044.2 L761.5 1043.7 L761.8 1043.3 L762.1 1042.8 L762.3 1042.4 L762.6 1042 L762.9 1041.5 L763.2 1041.1 L763.4 1040.7 L763.7 1040.3 L764 1039.9 L764.2 1039.5 L764.5 1039.2 L764.8 1038.8 L765 1038.5 L765.3 1038.1 L765.6 1037.8 L765.9 1037.4 L766.1 1037.1 L766.4 1036.8 L766.7 1036.5 L766.9 1036.2 L767.2 1035.9 L767.5 1035.6 L767.7 1035.3 L768 1035.1 L768.3 1034.8 L768.6 1034.5 L768.8 1034.3 L769.1 1034.1 L769.4 1033.8 L769.6 1033.6 L769.9 1033.4 L770.2 1033.2 L770.4 1033 L770.7 1032.8 L771 1032.6 L771.3 1032.4 L771.5 1032.2 L771.8 1032.1 L772.1 1031.9 L772.3 1031.8 L772.6 1031.6 L772.9 1031.5 L773.1 1031.3 L773.4 1031.2 L773.7 1031.1 L774 1031 L774.2 1030.9 L774.5 1030.8 L774.8 1030.7 L775 1030.6 L775.3 1030.5 L775.6 1030.5 L775.8 1030.4 L776.1 1030.4 L776.4 1030.3 L776.7 1030.3 L776.9 1030.2 L777.2 1030.2 L777.5 1030.2 L777.7 1030.2 L778 1030.2 L778.3 1030.2 L778.5 1030.2 L778.8 1030.2 L779.1 1030.3 L779.4 1030.3 L779.6 1030.4 L779.9 1030.4 L780.2 1030.5 L780.4 1030.6 L780.7 1030.7 L781 1030.7 L781.2 1030.9 L781.5 1031 L781.8 1031.1 L782.1 1031.2 L782.3 1031.3 L782.6 1031.5 L782.9 1031.6 L783.1 1031.8 L783.4 1032 L783.7 1032.2 L783.9 1032.4 L784.2 1032.6 L784.5 1032.8 L784.8 1033 L785 1033.2 L785.3 1033.4 L785.6 1033.7 L785.8 1033.9 L786.1 1034.2 L786.4 1034.5 L786.6 1034.7 L786.9 1035 L787.2 1035.3 L787.5 1035.6 L787.7 1036 L788 1036.3 L788.3 1036.6 L788.5 1037 L788.8 1037.3 L789.1 1037.7 L789.4 1038.1 L789.6 1038.4 L789.9 1038.8 L790.2 1039.2 L790.4 1039.6 L790.7 1040.1 L791 1040.5 L791.2 1040.9 L791.5 1041.4 L791.8 1041.9 L792.1 1042.3 L792.3 1042.8 L792.6 1043.3 L792.9 1043.8 L793.1 1044.3 L793.4 1044.9 L793.7 1045.4 L793.9 1045.9 L794.2 1046.5 L794.5 1047.1 L794.8 1047.6 L795 1048.2 L795.3 1048.8 L795.6 1049.5 L795.8 1050.1 L796.1 1050.7 L796.4 1051.4 L796.6 1052 L796.9 1052.7 L797.2 1053.4 L797.5 1054.1 L797.7 1054.8 L798 1055.5 L798.3 1056.3 L798.5 1057 L798.8 1057.8 L799.1 1058.5 L799.3 1059.3 L799.6 1060.1 L799.9 1061 L800.2 1061.8 L800.4 1062.6 L800.7 1063.5 L801 1064.4 L801.2 1065.3 L801.5 1066.2 L801.8 1067.1 L802 1068 L802.3 1069 L802.6 1069.9 L802.9 1070.9 L803.1 1071.9 L803.4 1072.9 L803.7 1073.9 L803.9 1075 L804.2 1076 L804.5 1077.1 L804.7 1078.2 L805 1079.3 L805.3 1080.5 L805.6 1081.6 L805.8 1082.8 L806.1 1084 L806.4 1085.2 L806.6 1086.5 L806.9 1087.7 L807.2 1089 L807.4 1090.3 L807.7 1091.6 L808 1093 L808.3 1094.3 L808.5 1095.7 L808.8 1097.1 L809.1 1098.6 L809.3 1100 L809.6 1101.5 L809.9 1103 L810.1 1104.6 L810.4 1106.1 L810.7 1107.7 L811 1109.4 L811.2 1111 L811.5 1112.7 L811.8 1114.4 L812 1116.2 L812.3 1117.9 L812.6 1119.8 L812.8 1121.6 L813.1 1123.5 L813.4 1125.4 L813.7 1127.4 L813.9 1129.4 L814.2 1131.4 L814.5 1133.5 L814.7 1135.6 L815 1137.8 L815.3 1140 L815.5 1142.2 L815.8 1144.5 L816.1 1146.9 L816.4 1149.3 L816.6 1151.8 L816.9 1154.3 L817.2 1156.9 L817.4 1159.5 L817.7 1162.2 L818 1165 L818.2 1167.8 L818.5 1170.7 L818.8 1173.7 L819.1 1176.7 L819.3 1179.8 L819.6 1183.1 L819.9 1186.4 L820.1 1189.7 L820.4 1193.2 L820.7 1196.8 L820.9 1200.5 L821.2 1204.3 L821.5 1208.2 L821.8 1212.2 L822 1216.3 L822.3 1220.6 L822.6 1225 L822.8 1229.5 L823.1 1234.2 L823.4 1239 L823.6 1244 L823.9 1249.1 L824.2 1254.4 L824.5 1259.9 L824.7 1265.5 L825 1271.2 L825.3 1277.1 L825.5 1283.2 L825.8 1289.3 L826.1 1295.5 L826.3 1301.7 L826.6 1307.8 L826.9 1313.8 L827.2 1319.5 L827.4 1324.8 L827.7 1329.4 L828 1333.3 L828.2 1336.3 L828.5 1338.2 L828.8 1338.8 L829 1338.3 L829.3 1336.7 L829.6 1334.2 L829.9 1330.9 L830.1 1326.8 L830.4 1322.3 L830.7 1317.3 L830.9 1312 L831.2 1306.5 L831.5 1300.9 L831.7 1295.2 L832 1289.6 L832.3 1284 L832.6 1278.5 L832.8 1273.1 L833.1 1267.8 L833.4 1262.6 L833.6 1257.6 L833.9 1252.6 L834.2 1247.9 L834.4 1243.2 L834.7 1238.7 L835 1234.3 L835.3 1230 L835.5 1225.9 L835.8 1221.9 L836.1 1217.9 L836.3 1214.1 L836.6 1210.4 L836.9 1206.8 L837.1 1203.3 L837.4 1199.9 L837.7 1196.5 L838 1193.3 L838.2 1190.1 L838.5 1187 L838.8 1184 L839 1181.1 L839.3 1178.2 L839.6 1175.4 L839.8 1172.7 L840.1 1170 L840.4 1167.4 L840.7 1164.8 L840.9 1162.3 L841.2 1159.8 L841.5 1157.4 L841.7 1155.1 L842 1152.8 L842.3 1150.5 L842.6 1148.3 L842.8 1146.1 L843.1 1144 L843.4 1141.9 L843.6 1139.9 L843.9 1137.9 L844.2 1135.9 L844.4 1134 L844.7 1132.1 L845 1130.2 L845.3 1128.4 L845.5 1126.6 L845.8 1124.9 L846.1 1123.1 L846.3 1121.4 L846.6 1119.8 L846.9 1118.1 L847.1 1116.5 L847.4 1114.9 L847.7 1113.3 L848 1111.8 L848.2 1110.3 L848.5 1108.8 L848.8 1107.4 L849 1105.9 L849.3 1104.5 L849.6 1103.1 L849.8 1101.7 L850.1 1100.4 L850.4 1099.1 L850.7 1097.8 L850.9 1096.5 L851.2 1095.2 L851.5 1094 L851.7 1092.7 L852 1091.5 L852.3 1090.4 L852.5 1089.2 L852.8 1088 L853.1 1086.9 L853.4 1085.8 L853.6 1084.7 L853.9 1083.6 L854.2 1082.5 L854.4 1081.5 L854.7 1080.4 L855 1079.4 L855.2 1078.4 L855.5 1077.4 L855.8 1076.4 L856.1 1075.5 L856.3 1074.5 L856.6 1073.6 L856.9 1072.7 L857.1 1071.8 L857.4 1070.9 L857.7 1070 L857.9 1069.2 L858.2 1068.3 L858.5 1067.5 L858.8 1066.6 L859 1065.8 L859.3 1065 L859.6 1064.2 L859.8 1063.5 L860.1 1062.7 L860.4 1061.9 L860.6 1061.2 L860.9 1060.5 L861.2 1059.8 L861.5 1059 L861.7 1058.3 L862 1057.7 L862.3 1057 L862.5 1056.3 L862.8 1055.7 L863.1 1055 L863.3 1054.4 L863.6 1053.8 L863.9 1053.2 L864.2 1052.6 L864.4 1052 L864.7 1051.4 L865 1050.8 L865.2 1050.3 L865.5 1049.7 L865.8 1049.2 L866 1048.6 L866.3 1048.1 L866.6 1047.6 L866.9 1047.1 L867.1 1046.6 L867.4 1046.1 L867.7 1045.6 L867.9 1045.2 L868.2 1044.7 L868.5 1044.2 L868.7 1043.8 L869 1043.4 L869.3 1042.9 L869.6 1042.5 L869.8 1042.1 L870.1 1041.7 L870.4 1041.3 L870.6 1040.9 L870.9 1040.6 L871.2 1040.2 L871.4 1039.8 L871.7 1039.5 L872 1039.1 L872.3 1038.8 L872.5 1038.5 L872.8 1038.2 L873.1 1037.9 L873.3 1037.6 L873.6 1037.3 L873.9 1037 L874.1 1036.7 L874.4 1036.4 L874.7 1036.2 L875 1035.9 L875.2 1035.7 L875.5 1035.4 L875.8 1035.2 L876 1035 L876.3 1034.7 L876.6 1034.5 L876.8 1034.3 L877.1 1034.1 L877.4 1033.9 L877.7 1033.8 L877.9 1033.6 L878.2 1033.4 L878.5 1033.3 L878.7 1033.1 L879 1033 L879.3 1032.8 L879.5 1032.7 L879.8 1032.6 L880.1 1032.5 L880.4 1032.4 L880.6 1032.3 L880.9 1032.2 L881.2 1032.1 L881.4 1032 L881.7 1031.9 L882 1031.9 L882.2 1031.8 L882.5 1031.8 L882.8 1031.7 L883.1 1031.7 L883.3 1031.7 L883.6 1031.6 L883.9 1031.6 L884.1 1031.6 L884.4 1031.6 L884.7 1031.6 L884.9 1031.6 L885.2 1031.7 L885.5 1031.7 L885.8 1031.7 L886 1031.8 L886.3 1031.8 L886.6 1031.9 L886.8 1032 L887.1 1032 L887.4 1032.1 L887.6 1032.2 L887.9 1032.3 L888.2 1032.4 L888.5 1032.6 L888.7 1032.7 L889 1032.8 L889.3 1033 L889.5 1033.1 L889.8 1033.3 L890.1 1033.4 L890.3 1033.6 L890.6 1033.8 L890.9 1034 L891.2 1034.2 L891.4 1034.4 L891.7 1034.6 L892 1034.8 L892.2 1035.1 L892.5 1035.3 L892.8 1035.5 L893 1035.8 L893.3 1036.1 L893.6 1036.3 L893.9 1036.6 L894.1 1036.9 L894.4 1037.2 L894.7 1037.5 L894.9 1037.8 L895.2 1038.2 L895.5 1038.5 L895.8 1038.8 L896 1039.2 L896.3 1039.6 L896.6 1039.9 L896.8 1040.3 L897.1 1040.7 L897.4 1041.1 L897.6 1041.5 L897.9 1041.9 L898.2 1042.3 L898.5 1042.8 L898.7 1043.2 L899 1043.7 L899.3 1044.1 L899.5 1044.6 L899.8 1045.1 L900.1 1045.6 L900.3 1046.1 L900.6 1046.6 L900.9 1047.1 L901.2 1047.6 L901.4 1048.2 L901.7 1048.7 L902 1049.3 L902.2 1049.8 L902.5 1050.4 L902.8 1051 L903 1051.6 L903.3 1052.2 L903.6 1052.8 L903.9 1053.5 L904.1 1054.1 L904.4 1054.8 L904.7 1055.5 L904.9 1056.1 L905.2 1056.8 L905.5 1057.5 L905.7 1058.2 L906 1059 L906.3 1059.7 L906.6 1060.5 L906.8 1061.2 L907.1 1062 L907.4 1062.8 L907.6 1063.6 L907.9 1064.4 L908.2 1065.2 L908.4 1066.1 L908.7 1066.9 L909 1067.8 L909.3 1068.7 L909.5 1069.6 L909.8 1070.5 L910.1 1071.4 L910.3 1072.4 L910.6 1073.3 L910.9 1074.3 L911.1 1075.3 L911.4 1076.3 L911.7 1077.3 L912 1078.3 L912.2 1079.4 L912.5 1080.4 L912.8 1081.5 L913 1082.6 L913.3 1083.7 L913.6 1084.9 L913.8 1086 L914.1 1087.2 L914.4 1088.4 L914.7 1089.6 L914.9 1090.8 L915.2 1092.1 L915.5 1093.3 L915.7 1094.6 L916 1095.9 L916.3 1097.2 L916.5 1098.6 L916.8 1100 L917.1 1101.4 L917.4 1102.8 L917.6 1104.2 L917.9 1105.7 L918.2 1107.2 L918.4 1108.7 L918.7 1110.3 L919 1111.8 L919.2 1113.4 L919.5 1115.1 L919.8 1116.7 L920.1 1118.4 L920.3 1120.1 L920.6 1121.9 L920.9 1123.7 L921.1 1125.5 L921.4 1127.3 L921.7 1129.2 L921.9 1131.1 L922.2 1133 L922.5 1135 L922.8 1137.1 L923 1139.1 L923.3 1141.2 L923.6 1143.4 L923.8 1145.6 L924.1 1147.8 L924.4 1150.1 L924.6 1152.4 L924.9 1154.8 L925.2 1157.2 L925.5 1159.7 L925.7 1162.3 L926 1164.8 L926.3 1167.5 L926.5 1170.2 L926.8 1173 L927.1 1175.8 L927.3 1178.7 L927.6 1181.7 L927.9 1184.8 L928.2 1187.9 L928.4 1191.1 L928.7 1194.4 L929 1197.7 L929.2 1201.2 L929.5 1204.7 L929.8 1208.4 L930 1212.1 L930.3 1215.9 L930.6 1219.9 L930.9 1223.9 L931.1 1228.1 L931.4 1232.3 L931.7 1236.7 L931.9 1241.2 L932.2 1245.8 L932.5 1250.5 L932.7 1255.4 L933 1260.3 L933.3 1265.3 L933.6 1270.4 L933.8 1275.6 L934.1 1280.8 L934.4 1286.1 L934.6 1291.3 L934.9 1296.4 L935.2 1301.3 L935.4 1306.1 L935.7 1310.5 L936 1314.5 L936.3 1318 L936.5 1320.8 L936.8 1322.9 L937.1 1324.2 L937.3 1324.6 L937.6 1324.2 L937.9 1322.8 L938.1 1320.7 L938.4 1317.8 L938.7 1314.2 L939 1310.1 L939.2 1305.6 L939.5 1300.8 L939.8 1295.8 L940 1290.6 L940.3 1285.4 L940.6 1280.1 L940.8 1274.8 L941.1 1269.6 L941.4 1264.5 L941.7 1259.4 L941.9 1254.5 L942.2 1249.6 L942.5 1244.9 L942.7 1240.3 L943 1235.8 L943.3 1231.4 L943.5 1227.1 L943.8 1223 L944.1 1218.9 L944.4 1215 L944.6 1211.1 L944.9 1207.4 L945.2 1203.8 L945.4 1200.2 L945.7 1196.8 L946 1193.4 L946.2 1190.1 L946.5 1186.9 L946.8 1183.8 L947.1 1180.8 L947.3 1177.8 L947.6 1174.9 L947.9 1172.1 L948.1 1169.3 L948.4 1166.6 L948.7 1163.9 L948.9 1161.4 L949.2 1158.8 L949.5 1156.4 L949.8 1153.9 L950 1151.6 L950.3 1149.2 L950.6 1147 L950.8 1144.7 L951.1 1142.6 L951.4 1140.4 L951.7 1138.3 L951.9 1136.3 L952.2 1134.2 L952.5 1132.3 L952.7 1130.3 L953 1128.4 L953.3 1126.6 L953.5 1124.7 L953.8 1122.9 L954.1 1121.2 L954.4 1119.4 L954.6 1117.7 L954.9 1116 L955.2 1114.4 L955.4 1112.8 L955.7 1111.2 L956 1109.6 L956.2 1108.1 L956.5 1106.6 L956.8 1105.1 L957.1 1103.6 L957.3 1102.2 L957.6 1100.8 L957.9 1099.4 L958.1 1098.1 L958.4 1096.7 L958.7 1095.4 L958.9 1094.1 L959.2 1092.8 L959.5 1091.6 L959.8 1090.3 L960 1089.1 L960.3 1087.9 L960.6 1086.7 L960.8 1085.6 L961.1 1084.4 L961.4 1083.3 L961.6 1082.2 L961.9 1081.1 L962.2 1080.1 L962.5 1079 L962.7 1078 L963 1077 L963.3 1075.9 L963.5 1075 L963.8 1074 L964.1 1073 L964.3 1072.1 L964.6 1071.2 L964.9 1070.3 L965.2 1069.4 L965.4 1068.5 L965.7 1067.6 L966 1066.8 L966.2 1065.9 L966.5 1065.1 L966.8 1064.3 L967 1063.5 L967.3 1062.7 L967.6 1061.9 L967.9 1061.1 L968.1 1060.4 L968.4 1059.7 L968.7 1058.9 L968.9 1058.2 L969.2 1057.5 L969.5 1056.8 L969.7 1056.2 L970 1055.5 L970.3 1054.8 L970.6 1054.2 L970.8 1053.6 L971.1 1053 L971.4 1052.3 L971.6 1051.7 L971.9 1051.2 L972.2 1050.6 L972.4 1050 L972.7 1049.5 L973 1048.9 L973.3 1048.4 L973.5 1047.9 L973.8 1047.3 L974.1 1046.8 L974.3 1046.3 L974.6 1045.9 L974.9 1045.4 L975.1 1044.9 L975.4 1044.5 L975.7 1044 L976 1043.6 L976.2 1043.2 L976.5 1042.8 L976.8 1042.3 L977 1041.9 L977.3 1041.6 L977.6 1041.2 L977.8 1040.8 L978.1 1040.5 L978.4 1040.1 L978.7 1039.8 L978.9 1039.4 L979.2 1039.1 L979.5 1038.8 L979.7 1038.5 L980 1038.2 L980.3 1037.9 L980.5 1037.6 L980.8 1037.3 L981.1 1037.1 L981.4 1036.8 L981.6 1036.6 L981.9 1036.3 L982.2 1036.1 L982.4 1035.9 L982.7 1035.7 L983 1035.5 L983.2 1035.3 L983.5 1035.1 L983.8 1034.9 L984.1 1034.7 L984.3 1034.6 L984.6 1034.4 L984.9 1034.3 L985.1 1034.1 L985.4 1034 L985.7 1033.9 L985.9 1033.8 L986.2 1033.7 L986.5 1033.6 L986.8 1033.5 L987 1033.4 L987.3 1033.3 L987.6 1033.3 L987.8 1033.2 L988.1 1033.2 L988.4 1033.1 L988.6 1033.1 L988.9 1033.1 L989.2 1033 L989.5 1033 L989.7 1033 L990 1033 L990.3 1033.1 L990.5 1033.1 L990.8 1033.1 L991.1 1033.1 L991.3 1033.2 L991.6 1033.2 L991.9 1033.3 L992.2 1033.3 L992.4 1033.4 L992.7 1033.5 L993 1033.5 L993.2 1033.6 L993.5 1033.7 L993.8 1033.8 L994 1033.9 L994.3 1034 L994.6 1034.1 L994.9 1034.2 L995.1 1034.4 L995.4 1034.5 L995.7 1034.6 L995.9 1034.8 L996.2 1034.9 L996.5 1035.1 L996.7 1035.2 L997 1035.4 L997.3 1035.6 L997.6 1035.8 L997.8 1036 L998.1 1036.2 L998.4 1036.4 L998.6 1036.6 L998.9 1036.8 L999.2 1037 L999.4 1037.3 L999.7 1037.5 L1000 1037.7 L1000.3 1038 L1000.5 1038.2 L1000.8 1038.5 L1001.1 1038.8 L1001.3 1039.1 L1001.6 1039.3 L1001.9 1039.6 L1002.1 1039.9 L1002.4 1040.2 L1002.7 1040.5 L1003 1040.9 L1003.2 1041.2 L1003.5 1041.5 L1003.8 1041.9 L1004 1042.2 L1004.3 1042.6 L1004.6 1042.9 L1004.9 1043.3 L1005.1 1043.7 L1005.4 1044 L1005.7 1044.4 L1005.9 1044.8 L1006.2 1045.2 L1006.5 1045.7 L1006.7 1046.1 L1007 1046.5 L1007.3 1046.9 L1007.6 1047.4 L1007.8 1047.8 L1008.1 1048.3 L1008.4 1048.8 L1008.6 1049.2 L1008.9 1049.7 L1009.2 1050.2 L1009.4 1050.7 L1009.7 1051.2 L1010 1051.7 L1010.3 1052.3 L1010.5 1052.8 L1010.8 1053.3 L1011.1 1053.9 L1011.3 1054.5 L1011.6 1055 L1011.9 1055.6 L1012.1 1056.2 L1012.4 1056.8 L1012.7 1057.4 L1013 1058 L1013.2 1058.6 L1013.5 1059.3 L1013.8 1059.9 L1014 1060.5 L1014.3 1061.2 L1014.6 1061.9 L1014.8 1062.6 L1015.1 1063.2 L1015.4 1063.9 L1015.7 1064.7 L1015.9 1065.4 L1016.2 1066.1 L1016.5 1066.8 L1016.7 1067.6 L1017 1068.4 L1017.3 1069.1 L1017.5 1069.9 L1017.8 1070.7 L1018.1 1071.5 L1018.4 1072.3 L1018.6 1073.2 L1018.9 1074 L1019.2 1074.9 L1019.4 1075.7 L1019.7 1076.6 L1020 1077.5 L1020.2 1078.4 L1020.5 1079.3 L1020.8 1080.2 L1021.1 1081.2 L1021.3 1082.1 L1021.6 1083.1 L1021.9 1084.1 L1022.1 1085.1 L1022.4 1086.1 L1022.7 1087.1 L1022.9 1088.1 L1023.2 1089.2 L1023.5 1090.3 L1023.8 1091.3 L1024 1092.4 L1024.3 1093.6 L1024.6 1094.7 L1024.8 1095.8 L1025.1 1097 L1025.4 1098.2 L1025.6 1099.4 L1025.9 1100.6 L1026.2 1101.8 L1026.5 1103.1 L1026.7 1104.3 L1027 1105.6 L1027.3 1106.9 L1027.5 1108.3 L1027.8 1109.6 L1028.1 1111 L1028.3 1112.4 L1028.6 1113.8 L1028.9 1115.2 L1029.2 1116.7 L1029.4 1118.2 L1029.7 1119.7 L1030 1121.2 L1030.2 1122.7 L1030.5 1124.3 L1030.8 1125.9 L1031 1127.5 L1031.3 1129.2 L1031.6 1130.9 L1031.9 1132.6 L1032.1 1134.3 L1032.4 1136.1 L1032.7 1137.9 L1032.9 1139.7 L1033.2 1141.6 L1033.5 1143.5 L1033.7 1145.4 L1034 1147.4 L1034.3 1149.4 L1034.6 1151.4 L1034.8 1153.5 L1035.1 1155.6 L1035.4 1157.7 L1035.6 1159.9 L1035.9 1162.2 L1036.2 1164.5 L1036.4 1166.8 L1036.7 1169.2 L1037 1171.6 L1037.3 1174.1 L1037.5 1176.6 L1037.8 1179.2 L1038.1 1181.8 L1038.3 1184.5 L1038.6 1187.3 L1038.9 1190.1 L1039.1 1192.9 L1039.4 1195.9 L1039.7 1198.9 L1040 1202 L1040.2 1205.1 L1040.5 1208.4 L1040.8 1211.7 L1041 1215.1 L1041.3 1218.5 L1041.6 1222.1 L1041.8 1225.7 L1042.1 1229.5 L1042.4 1233.3 L1042.7 1237.2 L1042.9 1241.2 L1043.2 1245.3 L1043.5 1249.5 L1043.7 1253.8 L1044 1258.2 L1044.3 1262.7 L1044.5 1267.3 L1044.8 1272 L1045.1 1276.7 L1045.4 1281.5 L1045.6 1286.3 L1045.9 1291.1 L1046.2 1295.9 L1046.4 1300.7 L1046.7 1305.3 L1047 1309.7 L1047.2 1314 L1047.5 1317.9 L1047.8 1321.4 L1048.1 1324.4 L1048.3 1326.9 L1048.6 1328.8 L1048.9 1329.9 L1049.1 1330.3 L1049.4 1329.8 L1049.7 1328.1 L1049.9 1325.5 L1050.2 1322.1 L1050.5 1317.9 L1050.8 1313.1 L1051 1307.9 L1051.3 1302.4 L1051.6 1296.7 L1051.8 1290.9 L1052.1 1285.1 L1052.4 1279.3 L1052.6 1273.6 L1052.9 1267.9 L1053.2 1262.4 L1053.5 1257 L1053.7 1251.7 L1054 1246.6 L1054.3 1241.6 L1054.5 1236.8 L1054.8 1232.1 L1055.1 1227.5 L1055.3 1223.1 L1055.6 1218.8 L1055.9 1214.6 L1056.2 1210.5 L1056.4 1206.6 L1056.7 1202.8 L1057 1199 L1057.2 1195.4 L1057.5 1191.9 L1057.8 1188.5 L1058.1 1185.1 L1058.3 1181.9 L1058.6 1178.7 L1058.9 1175.6 L1059.1 1172.6 L1059.4 1169.7 L1059.7 1166.8 L1059.9 1164 L1060.2 1161.3 L1060.5 1158.6 L1060.8 1156 L1061 1153.5 L1061.3 1151 L1061.6 1148.6 L1061.8 1146.2 L1062.1 1143.9 L1062.4 1141.6 L1062.6 1139.3 L1062.9 1137.2 L1063.2 1135 L1063.5 1132.9 L1063.7 1130.9 L1064 1128.9 L1064.3 1126.9 L1064.5 1125 L1064.8 1123.1 L1065.1 1121.2 L1065.3 1119.4 L1065.6 1117.6 L1065.9 1115.8 L1066.2 1114.1 L1066.4 1112.4 L1066.7 1110.7 L1067 1109.1 L1067.2 1107.5 L1067.5 1105.9 L1067.8 1104.4 L1068 1102.9 L1068.3 1101.4 L1068.6 1099.9 L1068.9 1098.5 L1069.1 1097.1 L1069.4 1095.7 L1069.7 1094.3 L1069.9 1093 L1070.2 1091.7 L1070.5 1090.4 L1070.7 1089.1 L1071 1087.9 L1071.3 1086.6 L1071.6 1085.4 L1071.8 1084.2 L1072.1 1083.1 L1072.4 1081.9 L1072.6 1080.8 L1072.9 1079.7 L1073.2 1078.6 L1073.4 1077.5 L1073.7 1076.5 L1074 1075.4 L1074.3 1074.4 L1074.5 1073.4 L1074.8 1072.4 L1075.1 1071.4 L1075.3 1070.5 L1075.6 1069.6 L1075.9 1068.6 L1076.1 1067.7 L1076.4 1066.8 L1076.7 1066 L1077 1065.1 L1077.2 1064.3 L1077.5 1063.4 L1077.8 1062.6 L1078 1061.8 L1078.3 1061 L1078.6 1060.3 L1078.8 1059.5 L1079.1 1058.8 L1079.4 1058 L1079.7 1057.3 L1079.9 1056.6 L1080.2 1055.9 L1080.5 1055.3 L1080.7 1054.6 L1081 1053.9 L1081.3 1053.3 L1081.5 1052.7 L1081.8 1052.1 L1082.1 1051.4 L1082.4 1050.9 L1082.6 1050.3 L1082.9 1049.7 L1083.2 1049.2 L1083.4 1048.6 L1083.7 1048.1 L1084 1047.6 L1084.2 1047 L1084.5 1046.5 L1084.8 1046.1 L1085.1 1045.6 L1085.3 1045.1 L1085.6 1044.7 L1085.9 1044.2 L1086.1 1043.8 L1086.4 1043.4 L1086.7 1042.9 L1086.9 1042.5 L1087.2 1042.1 L1087.5 1041.8 L1087.8 1041.4 L1088 1041 L1088.3 1040.7 L1088.6 1040.3 L1088.8 1040 L1089.1 1039.7 L1089.4 1039.4 L1089.6 1039.1 L1089.9 1038.8 L1090.2 1038.5 L1090.5 1038.2 L1090.7 1038 L1091 1037.7 L1091.3 1037.5 L1091.5 1037.2 L1091.8 1037 L1092.1 1036.8 L1092.3 1036.6 L1092.6 1036.4 L1092.9 1036.2 L1093.2 1036 L1093.4 1035.9 L1093.7 1035.7 L1094 1035.6 L1094.2 1035.4 L1094.5 1035.3 L1094.8 1035.2 L1095 1035.1 L1095.3 1035 L1095.6 1034.9 L1095.9 1034.8 L1096.1 1034.7 L1096.4 1034.7 L1096.7 1034.6 L1096.9 1034.6 L1097.2 1034.5 L1097.5 1034.5 L1097.7 1034.5 L1098 1034.5 L1098.3 1034.5 L1098.6 1034.5 L1098.8 1034.5 L1099.1 1034.5 L1099.4 1034.5 L1099.6 1034.5 L1099.9 1034.6 L1100.2 1034.6 L1100.4 1034.6 L1100.7 1034.7 L1101 1034.7 L1101.3 1034.8 L1101.5 1034.8 L1101.8 1034.9 L1102.1 1035 L1102.3 1035 L1102.6 1035.1 L1102.9 1035.2 L1103.1 1035.3 L1103.4 1035.4 L1103.7 1035.5 L1104 1035.6 L1104.2 1035.7 L1104.5 1035.8 L1104.8 1036 L1105 1036.1 L1105.3 1036.2 L1105.6 1036.3 L1105.8 1036.5 L1106.1 1036.6 L1106.4 1036.8 L1106.7 1037 L1106.9 1037.1 L1107.2 1037.3 L1107.5 1037.5 L1107.7 1037.6 L1108 1037.8 L1108.3 1038 L1108.5 1038.2 L1108.8 1038.4 L1109.1 1038.6 L1109.4 1038.8 L1109.6 1039.1 L1109.9 1039.3 L1110.2 1039.5 L1110.4 1039.8 L1110.7 1040 L1111 1040.3 L1111.2 1040.5 L1111.5 1040.8 L1111.8 1041 L1112.1 1041.3 L1112.3 1041.6 L1112.6 1041.9 L1112.9 1042.1 L1113.1 1042.4 L1113.4 1042.7 L1113.7 1043 L1114 1043.4 L1114.2 1043.7 L1114.5 1044 L1114.8 1044.3 L1115 1044.7 L1115.3 1045 L1115.6 1045.3 L1115.8 1045.7 L1116.1 1046.1 L1116.4 1046.4 L1116.7 1046.8 L1116.9 1047.2 L1117.2 1047.6 L1117.5 1048 L1117.7 1048.3 L1118 1048.8 L1118.3 1049.2 L1118.5 1049.6 L1118.8 1050 L1119.1 1050.4 L1119.4 1050.9 L1119.6 1051.3 L1119.9 1051.8 L1120.2 1052.2 L1120.4 1052.7 L1120.7 1053.2 L1121 1053.6 L1121.2 1054.1 L1121.5 1054.6 L1121.8 1055.1 L1122.1 1055.6 L1122.3 1056.1 L1122.6 1056.7 L1122.9 1057.2 L1123.1 1057.7 L1123.4 1058.3 L1123.7 1058.8 L1123.9 1059.4 L1124.2 1059.9 L1124.5 1060.5 L1124.8 1061.1 L1125 1061.7 L1125.3 1062.3 L1125.6 1062.9 L1125.8 1063.5 L1126.1 1064.1 L1126.4 1064.7 L1126.6 1065.4 L1126.9 1066 L1127.2 1066.7 L1127.5 1067.3 L1127.7 1068 L1128 1068.7 L1128.3 1069.4 L1128.5 1070.1 L1128.8 1070.8 L1129.1 1071.5 L1129.3 1072.2 L1129.6 1073 L1129.9 1073.7 L1130.2 1074.5 L1130.4 1075.2 L1130.7 1076 L1131 1076.8 L1131.2 1077.6 L1131.5 1078.4 L1131.8 1079.2 L1132 1080.1 L1132.3 1080.9 L1132.6 1081.7 L1132.9 1082.6 L1133.1 1083.5 L1133.4 1084.3 L1133.7 1085.2 L1133.9 1086.1 L1134.2 1087.1 L1134.5 1088 L1134.7 1088.9 L1135 1089.9 L1135.3 1090.8 L1135.6 1091.8 L1135.8 1092.8 L1136.1 1093.8 L1136.4 1094.8 L1136.6 1095.8 L1136.9 1096.9 L1137.2 1097.9 L1137.4 1099 L1137.7 1100.1 L1138 1101.2 L1138.3 1102.3 L1138.5 1103.4 L1138.8 1104.6 L1139.1 1105.8 L1139.3 1106.9 L1139.6 1108.1 L1139.9 1109.3 L1140.1 1110.6 L1140.4 1111.8 L1140.7 1113.1 L1141 1114.3 L1141.2 1115.6 L1141.5 1116.9 L1141.8 1118.3 L1142 1119.6 L1142.3 1121 L1142.6 1122.4 L1142.8 1123.8 L1143.1 1125.2 L1143.4 1126.7 L1143.7 1128.2 L1143.9 1129.7 L1144.2 1131.2 L1144.5 1132.7 L1144.7 1134.3 L1145 1135.9 L1145.3 1137.5 L1145.5 1139.2 L1145.8 1140.8 L1146.1 1142.5 L1146.4 1144.2 L1146.6 1146 L1146.9 1147.8 L1147.2 1149.6 L1147.4 1151.4 L1147.7 1153.3 L1148 1155.2 L1148.2 1157.2 L1148.5 1159.1 L1148.8 1161.1 L1149.1 1163.2 L1149.3 1165.3 L1149.6 1167.4 L1149.9 1169.6 L1150.1 1171.8 L1150.4 1174 L1150.7 1176.3 L1150.9 1178.6 L1151.2 1181 L1151.5 1183.4 L1151.8 1185.9 L1152 1188.4 L1152.3 1191 L1152.6 1193.6 L1152.8 1196.3 L1153.1 1199.1 L1153.4 1201.9 L1153.6 1204.7 L1153.9 1207.7 L1154.2 1210.7 L1154.5 1213.7 L1154.7 1216.9 L1155 1220.1 L1155.3 1223.4 L1155.5 1226.7 L1155.8 1230.2 L1156.1 1233.7 L1156.3 1237.3 L1156.6 1241 L1156.9 1244.8 L1157.2 1248.6 L1157.4 1252.6 L1157.7 1256.6 L1158 1260.8 L1158.2 1265 L1158.5 1269.3 L1158.8 1273.7 L1159 1278.2 L1159.3 1282.8 L1159.6 1287.4 L1159.9 1292 L1160.1 1296.7 L1160.4 1301.4 L1160.7 1306 L1160.9 1310.6 L1161.2 1315 L1161.5 1319.3 L1161.7 1323.3 L1162 1327.1 L1162.3 1330.4 L1162.6 1333.3 L1162.8 1335.6 L1163.1 1337.4 L1163.4 1338.4 L1163.6 1338.8 L1163.9 1338.1 L1164.2 1335.9 L1164.4 1332.4 L1164.7 1327.9 L1165 1322.6 L1165.3 1316.6 L1165.5 1310.2 L1165.8 1303.6" fill="none" stroke="#ff7d0a" stroke-width="3.4" stroke-linejoin="round"/><path d="M625.7 1111.2 L626 1110.8 L626.2 1110.1 L626.5 1109 L626.8 1108.5 L627.1 1107.2 L627.3 1106.9 L627.6 1105.9 L627.9 1104.8 L628.1 1103.8 L628.4 1103.1 L628.7 1102.3 L628.9 1101.9 L629.2 1100.9 L629.5 1100.1 L629.8 1099.3 L630 1098.4 L630.3 1098 L630.6 1097.1 L630.8 1096.7 L631.1 1096.2 L631.4 1095.6 L631.6 1094.9 L631.9 1094.2 L632.2 1093.9 L632.5 1093.3 L632.7 1093 L633 1091.8 L633.3 1091.3 L633.5 1091 L633.8 1090.6 L634.1 1090.2 L634.3 1089.4 L634.6 1088.9 L634.9 1088.1 L635.2 1088 L635.4 1087.8 L635.7 1087.8 L636 1086.7 L636.2 1086.6 L636.5 1086.8 L636.8 1086.2 L637 1086.3 L637.3 1085.1 L637.6 1085.5 L637.9 1085.5 L638.1 1085.5 L638.4 1085.8 L638.7 1085.3 L638.9 1085.4 L639.2 1084.8 L639.5 1085.3 L639.7 1084.8 L640 1084.1 L640.3 1083.8 L640.6 1084.2 L640.8 1084 L641.1 1083.3 L641.4 1083.2 L641.6 1083.4 L641.9 1083.3 L642.2 1083.2 L642.4 1083.2 L642.7 1083 L643 1082.5 L643.3 1082.6 L643.5 1082.2 L643.8 1082.6 L644.1 1082.5 L644.3 1082.7 L644.6 1082.4 L644.9 1082.5 L645.1 1082.5 L645.4 1081.9 L645.7 1081.6 L646 1081.5 L646.2 1081.2 L646.5 1081.3 L646.8 1081.3 L647 1080.9 L647.3 1080.8 L647.6 1080.7 L647.8 1080.6 L648.1 1080.4 L648.4 1079.9 L648.7 1079.6 L648.9 1079.6 L649.2 1079 L649.5 1079.2 L649.7 1079 L650 1078.8 L650.3 1079.3 L650.5 1079.5 L650.8 1078.9 L651.1 1079.2 L651.4 1078.7 L651.6 1078.9 L651.9 1078.7 L652.2 1078.7 L652.4 1079.3 L652.7 1078.7 L653 1079 L653.2 1079.1 L653.5 1079 L653.8 1078.8 L654.1 1078.8 L654.3 1078.9 L654.6 1079.6 L654.9 1079.5 L655.1 1080 L655.4 1079.6 L655.7 1079.6 L655.9 1080 L656.2 1079.9 L656.5 1080.1 L656.8 1080 L657 1080.5 L657.3 1080.7 L657.6 1080.8 L657.8 1080.4 L658.1 1080.7 L658.4 1081.2 L658.6 1081.3 L658.9 1081.5 L659.2 1081.8 L659.5 1082.1 L659.7 1082.4 L660 1083 L660.3 1083.3 L660.5 1083.2 L660.8 1084 L661.1 1084.7 L661.3 1085.3 L661.6 1085.9 L661.9 1086.6 L662.2 1087.5 L662.4 1088 L662.7 1088.7 L663 1089.6 L663.2 1090.3 L663.5 1091 L663.8 1091.7 L664 1091.9 L664.3 1093.1 L664.6 1093.2 L664.9 1093.7 L665.1 1094.3 L665.4 1094.6 L665.7 1094.9 L665.9 1095.7 L666.2 1096.3 L666.5 1097 L666.7 1097.5 L667 1097.9 L667.3 1098.7 L667.6 1099.5 L667.8 1100.2 L668.1 1100.8 L668.4 1101.5 L668.6 1101.6 L668.9 1102.5 L669.2 1103.3 L669.4 1103.6 L669.7 1104.8 L670 1105.1 L670.3 1105.8 L670.5 1106.9 L670.8 1107.4 L671.1 1107.9 L671.3 1108 L671.6 1108.5 L671.9 1109.6 L672.1 1109.7 L672.4 1110.6 L672.7 1111.2 L673 1111.9 L673.2 1112.5 L673.5 1113.6 L673.8 1114.3 L674 1115.2 L674.3 1115.8 L674.6 1116.4 L674.8 1117.3 L675.1 1119 L675.4 1120.3 L675.7 1121.1 L675.9 1122.4 L676.2 1122.9 L676.5 1124.3 L676.7 1125.7 L677 1126.6 L677.3 1127.9 L677.5 1129.6 L677.8 1130.6 L678.1 1131.8 L678.4 1133 L678.6 1134.3 L678.9 1135.7 L679.2 1136.9 L679.4 1138.4 L679.7 1139.8 L680 1140.6 L680.3 1142.2 L680.5 1143.6 L680.8 1145.4 L681.1 1146.4 L681.3 1147.6 L681.6 1149.5 L681.9 1150.4 L682.1 1152.2 L682.4 1153.6 L682.7 1155.3 L683 1156.8 L683.2 1158.3 L683.5 1160.4 L683.8 1161.7 L684 1164.1 L684.3 1166 L684.6 1167.6 L684.8 1170 L685.1 1171.9 L685.4 1173.8 L685.7 1175.9 L685.9 1178.7 L686.2 1180.5 L686.5 1182.5 L686.7 1185.1 L687 1187.8 L687.3 1190.3 L687.5 1192.8 L687.8 1195.5 L688.1 1198 L688.4 1200.6 L688.6 1203.3 L688.9 1205.8 L689.2 1208.9 L689.4 1212.1 L689.7 1214.6 L690 1218.2 L690.2 1221.3 L690.5 1224.6 L690.8 1228 L691.1 1231.7 L691.3 1235.1 L691.6 1238.3 L691.9 1242.7 L692.1 1246.5 L692.4 1250.2 L692.7 1254.4 L692.9 1258.6 L693.2 1262.8 L693.5 1267.8 L693.8 1272 L694 1276.3 L694.3 1280.9 L694.6 1285.6 L694.8 1290.7 L695.1 1295.8 L695.4 1300.9 L695.6 1306.1 L695.9 1311.3 L696.2 1316.5 L696.5 1322 L696.7 1327.2 L697 1332.3 L697.3 1336.7 L697.5 1341.2 L697.8 1345.4 L698.1 1349.1 L698.3 1352 L698.6 1354.4 L698.9 1355.7 L699.2 1356.4 L699.4 1355.6 L699.7 1354.4 L700 1352 L700.2 1349.5 L700.5 1346 L700.8 1342 L701 1337.5 L701.3 1333.4 L701.6 1328.6 L701.9 1323.3 L702.1 1318.6 L702.4 1313.2 L702.7 1308.4 L702.9 1303.3 L703.2 1298.8 L703.5 1293.5 L703.7 1289.1 L704 1284.7 L704.3 1279.7 L704.6 1275.8 L704.8 1271.1 L705.1 1267.8 L705.4 1264.2 L705.6 1260.4 L705.9 1256.5 L706.2 1253.4 L706.4 1249.9 L706.7 1246.5 L707 1243.6 L707.3 1240.1 L707.5 1237 L707.8 1234 L708.1 1230.3 L708.3 1227.2 L708.6 1224.2 L708.9 1221.4 L709.1 1218.7 L709.4 1215.2 L709.7 1212.5 L710 1210.1 L710.2 1207.1 L710.5 1204.8 L710.8 1201.9 L711 1199.4 L711.3 1196.8 L711.6 1194.5 L711.8 1192.1 L712.1 1190 L712.4 1187.6 L712.7 1185.4 L712.9 1183.1 L713.2 1180.8 L713.5 1178.5 L713.7 1176.2 L714 1175 L714.3 1172.4 L714.5 1170.5 L714.8 1168 L715.1 1166.4 L715.4 1165.1 L715.6 1162.8 L715.9 1161.2 L716.2 1159.1 L716.4 1157.8 L716.7 1155.9 L717 1154.2 L717.2 1152.5 L717.5 1151 L717.8 1149.6 L718.1 1147.5 L718.3 1145.8 L718.6 1144.4 L718.9 1143 L719.1 1141.1 L719.4 1139.4 L719.7 1137.9 L719.9 1136.3 L720.2 1134.4 L720.5 1133.3 L720.8 1131.6 L721 1130.4 L721.3 1128.6 L721.6 1127.2 L721.8 1125.8 L722.1 1124.3 L722.4 1122.4 L722.6 1121.6 L722.9 1120.3 L723.2 1118.6 L723.5 1117.8 L723.7 1117 L724 1115.4 L724.3 1114.5 L724.5 1112.8 L724.8 1112.3 L725.1 1111 L725.3 1110.1 L725.6 1108.7 L725.9 1107.8 L726.2 1106.6 L726.4 1105.6 L726.7 1104.6 L727 1103.3 L727.2 1102.3 L727.5 1101.5 L727.8 1100.7 L728 1099.8 L728.3 1098.6 L728.6 1097.3 L728.9 1097 L729.1 1096.2 L729.4 1095.3 L729.7 1094.6 L729.9 1093.8 L730.2 1092.8 L730.5 1091.7 L730.7 1091.2 L731 1090.6 L731.3 1090.1 L731.6 1088.9 L731.8 1088.2 L732.1 1087.7 L732.4 1086.9 L732.6 1086 L732.9 1085 L733.2 1084.3 L733.4 1083.7 L733.7 1083.1 L734 1082.2 L734.3 1081.5 L734.5 1080.4 L734.8 1080.3 L735.1 1079.5 L735.3 1078.4 L735.6 1078.1 L735.9 1077.1 L736.2 1076.7 L736.4 1076 L736.7 1075.5 L737 1075.1 L737.2 1074.4 L737.5 1073.1 L737.8 1072.9 L738 1072.3 L738.3 1071.7 L738.6 1071.2 L738.9 1070.5 L739.1 1070.2 L739.4 1069.7 L739.7 1068.9 L739.9 1068.6 L740.2 1068.3 L740.5 1067.5 L740.7 1067 L741 1066.3 L741.3 1066.1 L741.6 1065.7 L741.8 1065 L742.1 1064.2 L742.4 1064.1 L742.6 1063.6 L742.9 1063.2 L743.2 1062.7 L743.4 1062.2 L743.7 1061.6 L744 1061.9 L744.3 1060.8 L744.5 1060.7 L744.8 1060.3 L745.1 1059.3 L745.3 1059.5 L745.6 1058.6 L745.9 1058.5 L746.1 1058.5 L746.4 1057.8 L746.7 1057.5 L747 1057.3 L747.2 1057.5 L747.5 1056.8 L747.8 1056.5 L748 1056.4 L748.3 1055.4 L748.6 1055.6 L748.8 1055.3 L749.1 1055 L749.4 1054.8 L749.7 1054.5 L749.9 1054.1 L750.2 1053.7 L750.5 1053.7 L750.7 1053.3 L751 1053.4 L751.3 1052.7 L751.5 1052.8 L751.8 1052.4 L752.1 1052.5 L752.4 1052.2 L752.6 1052 L752.9 1052.2 L753.2 1051.3 L753.4 1051.8 L753.7 1051.8 L754 1051.9 L754.2 1051.4 L754.5 1051.5 L754.8 1051.7 L755.1 1052.1 L755.3 1052 L755.6 1051.7 L755.9 1052 L756.1 1052.2 L756.4 1052.2 L756.7 1052.1 L756.9 1051.9 L757.2 1052.1 L757.5 1052 L757.8 1051.6 L758 1052 L758.3 1052.8 L758.6 1052.7 L758.8 1053.1 L759.1 1053.4 L759.4 1053.5 L759.6 1054.1 L759.9 1054.5 L760.2 1054.8 L760.5 1055.1 L760.7 1055.1 L761 1055.5 L761.3 1056.1 L761.5 1056.1 L761.8 1056.4 L762.1 1056.1 L762.3 1056.3 L762.6 1056.2 L762.9 1056.4 L763.2 1056.7 L763.4 1056.1 L763.7 1056.1 L764 1055.9 L764.2 1056.1 L764.5 1055.7 L764.8 1055.8 L765 1055.7 L765.3 1055.5 L765.6 1055.5 L765.9 1055.8 L766.1 1056.1 L766.4 1056.5 L766.7 1056.3 L766.9 1056.3 L767.2 1056.9 L767.5 1057.8 L767.7 1058 L768 1058.3 L768.3 1058.6 L768.6 1059.3 L768.8 1060.2 L769.1 1060.9 L769.4 1061.8 L769.6 1062.4 L769.9 1063 L770.2 1063.7 L770.4 1064.2 L770.7 1064.9 L771 1065.3 L771.3 1065.6 L771.5 1066.2 L771.8 1066.8 L772.1 1067.3 L772.3 1068 L772.6 1068.1 L772.9 1068.4 L773.1 1069.1 L773.4 1069 L773.7 1069.7 L774 1070 L774.2 1070.5 L774.5 1071.2 L774.8 1070.9 L775 1072 L775.3 1072.1 L775.6 1072.9 L775.8 1073.3 L776.1 1074.2 L776.4 1074.7 L776.7 1075.1 L776.9 1075.7 L777.2 1077 L777.5 1077.7 L777.7 1078.3 L778 1079.5 L778.3 1080.2 L778.5 1081.4 L778.8 1082.1 L779.1 1083.1 L779.4 1083.9 L779.6 1085.1 L779.9 1086.4 L780.2 1087 L780.4 1088.3 L780.7 1088.9 L781 1089.7 L781.2 1090.8 L781.5 1091.9 L781.8 1092.4 L782.1 1093.5 L782.3 1094.7 L782.6 1095.4 L782.9 1095.8 L783.1 1097 L783.4 1097.8 L783.7 1098.7 L783.9 1099.9 L784.2 1100.6 L784.5 1101.3 L784.8 1102.3 L785 1103.4 L785.3 1104.9 L785.6 1105.3 L785.8 1106.5 L786.1 1107.7 L786.4 1108.9 L786.6 1110.6 L786.9 1111.9 L787.2 1113.1 L787.5 1114.2 L787.7 1116.4 L788 1117.6 L788.3 1119.2 L788.5 1120.5 L788.8 1121.9 L789.1 1123.8 L789.4 1125.7 L789.6 1127 L789.9 1128.7 L790.2 1130.7 L790.4 1131.8 L790.7 1133.8 L791 1135.3 L791.2 1137.4 L791.5 1138.6 L791.8 1140.9 L792.1 1142.1 L792.3 1144.5 L792.6 1145.6 L792.9 1147.8 L793.1 1149.9 L793.4 1151.5 L793.7 1153.3 L793.9 1155.5 L794.2 1157.4 L794.5 1159.4 L794.8 1161.6 L795 1164.4 L795.3 1166.1 L795.6 1168.3 L795.8 1170.8 L796.1 1173.1 L796.4 1175.9 L796.6 1177.6 L796.9 1180.4 L797.2 1182.9 L797.5 1185.2 L797.7 1187.8 L798 1190.5 L798.3 1193.2 L798.5 1195.5 L798.8 1198.4 L799.1 1201.8 L799.3 1204.6 L799.6 1207.4 L799.9 1210.8 L800.2 1214.2 L800.4 1217.7 L800.7 1221.6 L801 1225.2 L801.2 1229.8 L801.5 1234.1 L801.8 1238.5 L802 1243.1 L802.3 1248 L802.6 1252.9 L802.9 1258.5 L803.1 1263.5 L803.4 1269 L803.7 1274.9 L803.9 1280.3 L804.2 1285.5 L804.5 1291.4 L804.7 1297.2 L805 1303.2 L805.3 1308.2 L805.6 1313.3 L805.8 1318.1 L806.1 1322.2 L806.4 1326.6 L806.6 1330.3 L806.9 1333.4 L807.2 1335.6 L807.4 1336.6 L807.7 1337 L808 1335.7 L808.3 1335.2 L808.5 1333.4 L808.8 1330.5 L809.1 1327.6 L809.3 1324.4 L809.6 1319.9 L809.9 1316 L810.1 1311.8 L810.4 1306.9 L810.7 1302.2 L811 1297.7 L811.2 1292.8 L811.5 1288.2 L811.8 1284 L812 1279.8 L812.3 1275.5 L812.6 1270.7 L812.8 1266.2 L813.1 1262.2 L813.4 1258.1 L813.7 1254 L813.9 1250.5 L814.2 1246.5 L814.5 1243.3 L814.7 1239.1 L815 1235.5 L815.3 1231.9 L815.5 1228.4 L815.8 1225 L816.1 1221.3 L816.4 1217.6 L816.6 1214.6 L816.9 1211.1 L817.2 1208.1 L817.4 1204.8 L817.7 1201.9 L818 1198.6 L818.2 1195.7 L818.5 1192.7 L818.8 1190.1 L819.1 1187.4 L819.3 1184.5 L819.6 1181.6 L819.9 1179 L820.1 1176.9 L820.4 1174.2 L820.7 1171.8 L820.9 1169.5 L821.2 1167.6 L821.5 1164.9 L821.8 1162.9 L822 1160.1 L822.3 1158 L822.6 1155.8 L822.8 1154.3 L823.1 1151.5 L823.4 1149.4 L823.6 1147.8 L823.9 1145.3 L824.2 1143.6 L824.5 1141.8 L824.7 1140 L825 1138.3 L825.3 1136.5 L825.5 1134 L825.8 1133 L826.1 1131.4 L826.3 1130 L826.6 1128.5 L826.9 1127 L827.2 1125.6 L827.4 1123.7 L827.7 1122.6 L828 1120.9 L828.2 1120 L828.5 1118.2 L828.8 1117 L829 1115.6 L829.3 1114.4 L829.6 1113.2 L829.9 1111.4 L830.1 1110.4 L830.4 1109.1 L830.7 1107.9 L830.9 1106.4 L831.2 1105.2 L831.5 1103.8 L831.7 1102.5 L832 1101.4 L832.3 1100.3 L832.6 1098.7 L832.8 1097.4 L833.1 1096.3 L833.4 1095.5 L833.6 1094 L833.9 1092.9 L834.2 1091.8 L834.4 1090.7 L834.7 1089.8 L835 1088.7 L835.3 1087.5 L835.5 1086.8 L835.8 1086.1 L836.1 1084.8 L836.3 1083.8 L836.6 1083.3 L836.9 1082.2 L837.1 1081 L837.4 1080.3 L837.7 1079.4 L838 1078.8 L838.2 1077.5 L838.5 1076.5 L838.8 1076.1 L839 1075.4 L839.3 1074.6 L839.6 1073.4 L839.8 1072.8 L840.1 1072.2 L840.4 1071 L840.7 1070.4 L840.9 1069.8 L841.2 1069.7 L841.5 1068.7 L841.7 1068 L842 1067.8 L842.3 1066.8 L842.6 1066.1 L842.8 1065.6 L843.1 1065.5 L843.4 1064.9 L843.6 1064 L843.9 1063.4 L844.2 1062.7 L844.4 1062.1 L844.7 1061.7 L845 1061.1 L845.3 1060.7 L845.5 1059.4 L845.8 1058.4 L846.1 1058.2 L846.3 1057.4 L846.6 1056.4 L846.9 1055.7 L847.1 1055.3 L847.4 1054.4 L847.7 1053.8 L848 1052.4 L848.2 1052.3 L848.5 1051.3 L848.8 1050.5 L849 1050 L849.3 1049.6 L849.6 1049.1 L849.8 1049.3 L850.1 1048.7 L850.4 1048.4 L850.7 1048 L850.9 1047.1 L851.2 1047.8 L851.5 1047 L851.7 1047.2 L852 1046.4 L852.3 1046.2 L852.5 1046.4 L852.8 1045.6 L853.1 1045.8 L853.4 1045.2 L853.6 1045.2 L853.9 1045 L854.2 1044.7 L854.4 1044.2 L854.7 1043.7 L855 1043.3 L855.2 1042.3 L855.5 1042.2 L855.8 1041.7 L856.1 1041.1 L856.3 1040.5 L856.6 1040 L856.9 1039.2 L857.1 1038.2 L857.4 1037.8 L857.7 1037.3 L857.9 1036.6 L858.2 1036 L858.5 1035.7 L858.8 1035.4 L859 1035.4 L859.3 1035.1 L859.6 1035.1 L859.8 1034.9 L860.1 1035 L860.4 1035 L860.6 1035 L860.9 1035.1 L861.2 1035.3 L861.5 1035.5 L861.7 1035.3 L862 1035.8 L862.3 1036 L862.5 1035.9 L862.8 1036.3 L863.1 1036.3 L863.3 1036.1 L863.6 1036.4 L863.9 1036.7 L864.2 1035.8 L864.4 1035.5 L864.7 1035.9 L865 1035.6 L865.2 1035.1 L865.5 1035.4 L865.8 1035 L866 1034.8 L866.3 1034.4 L866.6 1034.6 L866.9 1033.8 L867.1 1033.9 L867.4 1033.6 L867.7 1033.7 L867.9 1034 L868.2 1033.5 L868.5 1033.7 L868.7 1033.5 L869 1033.7 L869.3 1033.7 L869.6 1033.8 L869.8 1033.7 L870.1 1033.8 L870.4 1034.4 L870.6 1034.3 L870.9 1034.2 L871.2 1034.6 L871.4 1035.1 L871.7 1035.2 L872 1035.4 L872.3 1035.4 L872.5 1035.8 L872.8 1035.9 L873.1 1035.7 L873.3 1036.7 L873.6 1036.8 L873.9 1037.1 L874.1 1037.3 L874.4 1036.9 L874.7 1037.1 L875 1037 L875.2 1037.9 L875.5 1037.8 L875.8 1037.4 L876 1037.6 L876.3 1037.8 L876.6 1037.9 L876.8 1038.2 L877.1 1038.4 L877.4 1038.6 L877.7 1038.7 L877.9 1039.2 L878.2 1039.3 L878.5 1039.4 L878.7 1040.3 L879 1040.6 L879.3 1040.8 L879.5 1041.5 L879.8 1042 L880.1 1042.1 L880.4 1043 L880.6 1043.8 L880.9 1044.1 L881.2 1044.4 L881.4 1045.8 L881.7 1046.3 L882 1046.8 L882.2 1047.6 L882.5 1047.6 L882.8 1048.5 L883.1 1049.2 L883.3 1049.5 L883.6 1050.3 L883.9 1050.7 L884.1 1051 L884.4 1050.9 L884.7 1052.3 L884.9 1052.1 L885.2 1052.3 L885.5 1052.8 L885.8 1052.9 L886 1053.6 L886.3 1054 L886.6 1054.5 L886.8 1055.1 L887.1 1055.1 L887.4 1056.2 L887.6 1056.6 L887.9 1057.3 L888.2 1058 L888.5 1059 L888.7 1059.4 L889 1060 L889.3 1060.9 L889.5 1061.6 L889.8 1062.7 L890.1 1063.7 L890.3 1064.4 L890.6 1065.3 L890.9 1066.6 L891.2 1067.7 L891.4 1068.6 L891.7 1069.1 L892 1070.1 L892.2 1071.5 L892.5 1072.2 L892.8 1073 L893 1073.8 L893.3 1075.2 L893.6 1076 L893.9 1076.5 L894.1 1077.2 L894.4 1078.2 L894.7 1079.7 L894.9 1080.2 L895.2 1081.2 L895.5 1082 L895.8 1083.1 L896 1083.9 L896.3 1084.8 L896.6 1085.4 L896.8 1086.6 L897.1 1087.7 L897.4 1088.9 L897.6 1090.3 L897.9 1091.4 L898.2 1092.3 L898.5 1093.7 L898.7 1094.8 L899 1096.5 L899.3 1098 L899.5 1099.7 L899.8 1100.8 L900.1 1102.7 L900.3 1103.5 L900.6 1105.5 L900.9 1106.9 L901.2 1108.8 L901.4 1110.2 L901.7 1111.9 L902 1113.1 L902.2 1115 L902.5 1116.9 L902.8 1118.8 L903 1120.1 L903.3 1121.9 L903.6 1123.8 L903.9 1125.3 L904.1 1127.3 L904.4 1129.2 L904.7 1131.3 L904.9 1133.3 L905.2 1135.3 L905.5 1137.6 L905.7 1139.3 L906 1141.5 L906.3 1144.1 L906.6 1145.9 L906.8 1148 L907.1 1150.5 L907.4 1152.6 L907.6 1155.3 L907.9 1157.6 L908.2 1160.4 L908.4 1162.9 L908.7 1165.8 L909 1168.3 L909.3 1170.8 L909.5 1173.7 L909.8 1176.5 L910.1 1179.7 L910.3 1183.1 L910.6 1185.9 L910.9 1189.3 L911.1 1192.2 L911.4 1195.5 L911.7 1199.1 L912 1203.1 L912.2 1206.5 L912.5 1210 L912.8 1214 L913 1217.5 L913.3 1221.3 L913.6 1225.2 L913.8 1229.4 L914.1 1233.7 L914.4 1237.9 L914.7 1242.1 L914.9 1246.2 L915.2 1250.7 L915.5 1255.5 L915.7 1260.4 L916 1265.3 L916.3 1270.3 L916.5 1275.4 L916.8 1280.7 L917.1 1286.5 L917.4 1291.3 L917.6 1296.7 L917.9 1302 L918.2 1306.7 L918.4 1311.4 L918.7 1315.7 L919 1319.7 L919.2 1322.3 L919.5 1324.5 L919.8 1326 L920.1 1326.9 L920.3 1326.1 L920.6 1324.8 L920.9 1323 L921.1 1320.3 L921.4 1317.3 L921.7 1313.6 L921.9 1309.2 L922.2 1304.9 L922.5 1300 L922.8 1294.4 L923 1289.9 L923.3 1284.9 L923.6 1280.2 L923.8 1274.7 L924.1 1269.4 L924.4 1264.7 L924.6 1259.6 L924.9 1255.2 L925.2 1249.8 L925.5 1245.4 L925.7 1240.5 L926 1236 L926.3 1232 L926.5 1227.6 L926.8 1223.7 L927.1 1219.9 L927.3 1216.1 L927.6 1212.6 L927.9 1208.6 L928.2 1205.3 L928.4 1202.5 L928.7 1199 L929 1196.3 L929.2 1193.5 L929.5 1190.1 L929.8 1187.8 L930 1184.6 L930.3 1182.2 L930.6 1179.4 L930.9 1176.9 L931.1 1174.2 L931.4 1171.8 L931.7 1169.2 L931.9 1166.7 L932.2 1164.1 L932.5 1161.9 L932.7 1159.1 L933 1156.6 L933.3 1154.5 L933.6 1152.1 L933.8 1149.9 L934.1 1147.6 L934.4 1145.2 L934.6 1143.1 L934.9 1141.1 L935.2 1138.8 L935.4 1136.6 L935.7 1134.6 L936 1132.5 L936.3 1131.1 L936.5 1128.5 L936.8 1127.1 L937.1 1125.4 L937.3 1123.6 L937.6 1121.7 L937.9 1119.9 L938.1 1118.5 L938.4 1116.8 L938.7 1115.5 L939 1113.6 L939.2 1112.1 L939.5 1110.6 L939.8 1108.8 L940 1107.2 L940.3 1105.9 L940.6 1104.8 L940.8 1102.9 L941.1 1101.9 L941.4 1100.5 L941.7 1099.2 L941.9 1097.7 L942.2 1096.4 L942.5 1095.2 L942.7 1094 L943 1092.7 L943.3 1091.6 L943.5 1090.1 L943.8 1089.2 L944.1 1088 L944.4 1086.9 L944.6 1085.9 L944.9 1084.7 L945.2 1083.8 L945.4 1082.4 L945.7 1081.3 L946 1080.4 L946.2 1078.9 L946.5 1078.4 L946.8 1077.1 L947.1 1076.1 L947.3 1075.3 L947.6 1074.3 L947.9 1073.1 L948.1 1072.3 L948.4 1071.3 L948.7 1070.2 L948.9 1069.5 L949.2 1069 L949.5 1068 L949.8 1066.8 L950 1066.1 L950.3 1065.5 L950.6 1064.8 L950.8 1063.5 L951.1 1062.5 L951.4 1062.2 L951.7 1061.6 L951.9 1060.3 L952.2 1059.8 L952.5 1058.9 L952.7 1058.2 L953 1057.6 L953.3 1056.6 L953.5 1055.8 L953.8 1055.2 L954.1 1054.7 L954.4 1053.7 L954.6 1053.3 L954.9 1052.5 L955.2 1052.1 L955.4 1051.1 L955.7 1050.5 L956 1049.8 L956.2 1049.4 L956.5 1048.7 L956.8 1048.4 L957.1 1047.5 L957.3 1047 L957.6 1046.5 L957.9 1046.3 L958.1 1046 L958.4 1045.3 L958.7 1045 L958.9 1044.6 L959.2 1044 L959.5 1043.5 L959.8 1043.2 L960 1042.6 L960.3 1042.3 L960.6 1042.2 L960.8 1041.7 L961.1 1041.2 L961.4 1040.5 L961.6 1040.1 L961.9 1039.8 L962.2 1039.2 L962.5 1039.3 L962.7 1038.7 L963 1038.1 L963.3 1037.9 L963.5 1037.5 L963.8 1037.8 L964.1 1037.4 L964.3 1036.9 L964.6 1036.2 L964.9 1035.8 L965.2 1036 L965.4 1035.8 L965.7 1035.5 L966 1035.1 L966.2 1034.5 L966.5 1034.4 L966.8 1033.6 L967 1033.5 L967.3 1033.4 L967.6 1032.9 L967.9 1032.6 L968.1 1032.1 L968.4 1031.7 L968.7 1031.7 L968.9 1031.1 L969.2 1030.9 L969.5 1030.7 L969.7 1030.4 L970 1030 L970.3 1030 L970.6 1029.9 L970.8 1029.3 L971.1 1029.3 L971.4 1029.3 L971.6 1028.8 L971.9 1029 L972.2 1028.4 L972.4 1028.5 L972.7 1028 L973 1028 L973.3 1027.5 L973.5 1027 L973.8 1026.9 L974.1 1026.9 L974.3 1026.1 L974.6 1026.4 L974.9 1025.8 L975.1 1026.1 L975.4 1026.2 L975.7 1025.4 L976 1025.8 L976.2 1025.5 L976.5 1025.3 L976.8 1025.7 L977 1025.3 L977.3 1025.3 L977.6 1025 L977.8 1025 L978.1 1025.2 L978.4 1024.8 L978.7 1024.6 L978.9 1024.7 L979.2 1024.5 L979.5 1024.7 L979.7 1024.6 L980 1024.5 L980.3 1024.6 L980.5 1024.4 L980.8 1024.6 L981.1 1024.7 L981.4 1024.9 L981.6 1025.2 L981.9 1025.6 L982.2 1025.3 L982.4 1025.4 L982.7 1025.9 L983 1026.2 L983.2 1026.4 L983.5 1026.4 L983.8 1026.8 L984.1 1027.3 L984.3 1027.4 L984.6 1027.7 L984.9 1027.8 L985.1 1028.2 L985.4 1028.4 L985.7 1028.1 L985.9 1028.4 L986.2 1029.2 L986.5 1029.3 L986.8 1029.4 L987 1029.7 L987.3 1030.1 L987.6 1029.9 L987.8 1030.7 L988.1 1030.5 L988.4 1030.8 L988.6 1031.3 L988.9 1031.6 L989.2 1031.8 L989.5 1032.1 L989.7 1032.9 L990 1033 L990.3 1033 L990.5 1033.5 L990.8 1033.9 L991.1 1034.4 L991.3 1034.7 L991.6 1035.1 L991.9 1034.8 L992.2 1036.1 L992.4 1035.9 L992.7 1036.6 L993 1037.1 L993.2 1037.6 L993.5 1038.2 L993.8 1038.2 L994 1038.9 L994.3 1039.5 L994.6 1040 L994.9 1040.5 L995.1 1041.2 L995.4 1041.6 L995.7 1042.1 L995.9 1042.4 L996.2 1042.9 L996.5 1044 L996.7 1044.2 L997 1044.5 L997.3 1045.5 L997.6 1046.1 L997.8 1046.2 L998.1 1047 L998.4 1047.7 L998.6 1048.5 L998.9 1048.8 L999.2 1049.6 L999.4 1050 L999.7 1050.6 L1000 1051.2 L1000.3 1052.1 L1000.5 1052.9 L1000.8 1053.4 L1001.1 1054.2 L1001.3 1054.9 L1001.6 1055.8 L1001.9 1056.5 L1002.1 1057.4 L1002.4 1058.2 L1002.7 1058.9 L1003 1059.5 L1003.2 1060.7 L1003.5 1061.3 L1003.8 1062.2 L1004 1063.2 L1004.3 1063.9 L1004.6 1065 L1004.9 1065.6 L1005.1 1066.5 L1005.4 1068.2 L1005.7 1068.2 L1005.9 1069 L1006.2 1069.6 L1006.5 1071.1 L1006.7 1071.7 L1007 1072.6 L1007.3 1073.7 L1007.6 1074.2 L1007.8 1075.3 L1008.1 1076.5 L1008.4 1077.5 L1008.6 1078.3 L1008.9 1078.8 L1009.2 1079.8 L1009.4 1081.9 L1009.7 1082.8 L1010 1083.4 L1010.3 1084.7 L1010.5 1085.9 L1010.8 1086.7 L1011.1 1087.9 L1011.3 1089 L1011.6 1090.1 L1011.9 1091.5 L1012.1 1092.1 L1012.4 1093.6 L1012.7 1094.5 L1013 1095.8 L1013.2 1097.1 L1013.5 1098.4 L1013.8 1099.7 L1014 1101.5 L1014.3 1102.5 L1014.6 1103.8 L1014.8 1105.7 L1015.1 1107.3 L1015.4 1108.4 L1015.7 1110.2 L1015.9 1112.4 L1016.2 1113.9 L1016.5 1115.8 L1016.7 1117.6 L1017 1119.8 L1017.3 1121.8 L1017.5 1123.9 L1017.8 1125.7 L1018.1 1127.8 L1018.4 1130 L1018.6 1132 L1018.9 1134.1 L1019.2 1135.8 L1019.4 1138.1 L1019.7 1140.3 L1020 1142.2 L1020.2 1143.9 L1020.5 1146.4 L1020.8 1148.3 L1021.1 1150.6 L1021.3 1153.1 L1021.6 1155.2 L1021.9 1157.7 L1022.1 1160.2 L1022.4 1162.8 L1022.7 1165.3 L1022.9 1168.1 L1023.2 1170.5 L1023.5 1173.3 L1023.8 1175.8 L1024 1178.6 L1024.3 1181.7 L1024.6 1184.3 L1024.8 1187.1 L1025.1 1190.2 L1025.4 1193.3 L1025.6 1196 L1025.9 1199.6 L1026.2 1202.3 L1026.5 1205.2 L1026.7 1208.1 L1027 1211.9 L1027.3 1214.8 L1027.5 1218.2 L1027.8 1221.9 L1028.1 1226.6 L1028.3 1229.8 L1028.6 1234.1 L1028.9 1238.2 L1029.2 1242.9 L1029.4 1247.6 L1029.7 1252.2 L1030 1256.8 L1030.2 1262 L1030.5 1267.4 L1030.8 1272.5 L1031 1277.8 L1031.3 1283.3 L1031.6 1288.8 L1031.9 1294.3 L1032.1 1299.6 L1032.4 1304.7 L1032.7 1309.6 L1032.9 1314.4 L1033.2 1318.5 L1033.5 1321.5 L1033.7 1324.9 L1034 1327 L1034.3 1328 L1034.6 1328.1 L1034.8 1327.8 L1035.1 1326.9 L1035.4 1325.1 L1035.6 1322.3 L1035.9 1319.2 L1036.2 1315.4 L1036.4 1311.1 L1036.7 1307 L1037 1302.3 L1037.3 1297.3 L1037.5 1292.4 L1037.8 1287.6 L1038.1 1282.6 L1038.3 1277.8 L1038.6 1272.8 L1038.9 1267.8 L1039.1 1263.2 L1039.4 1259.2 L1039.7 1253.9 L1040 1249.6 L1040.2 1245.4 L1040.5 1241.1 L1040.8 1237.5 L1041 1233.2 L1041.3 1228.7 L1041.6 1224.6 L1041.8 1220.9 L1042.1 1217.8 L1042.4 1214.1 L1042.7 1210.5 L1042.9 1207.5 L1043.2 1203.6 L1043.5 1200.9 L1043.7 1197.5 L1044 1194.7 L1044.3 1191.5 L1044.5 1188.7 L1044.8 1185.8 L1045.1 1183.6 L1045.4 1180.8 L1045.6 1178 L1045.9 1176.3 L1046.2 1173.6 L1046.4 1171.4 L1046.7 1169.4 L1047 1167.1 L1047.2 1164.6 L1047.5 1162.5 L1047.8 1160.5 L1048.1 1158.5 L1048.3 1156.7 L1048.6 1154.3 L1048.9 1151.8 L1049.1 1149.7 L1049.4 1148 L1049.7 1145.9 L1049.9 1143.3 L1050.2 1140.7 L1050.5 1138.6 L1050.8 1136.2 L1051 1133.7 L1051.3 1131.3 L1051.6 1129.2 L1051.8 1126.8 L1052.1 1125.3 L1052.4 1122.9 L1052.6 1121 L1052.9 1119.5 L1053.2 1117.2 L1053.5 1116.2 L1053.7 1114.7 L1054 1112.3 L1054.3 1111.1 L1054.5 1109.9 L1054.8 1108.3 L1055.1 1107 L1055.3 1106.1 L1055.6 1104.5 L1055.9 1103 L1056.2 1102.1 L1056.4 1100.8 L1056.7 1099.7 L1057 1098.2 L1057.2 1097.3 L1057.5 1096.1 L1057.8 1095.1 L1058.1 1093.8 L1058.3 1092.4 L1058.6 1091.2 L1058.9 1090.2 L1059.1 1089.3 L1059.4 1088 L1059.7 1087.1 L1059.9 1085.9 L1060.2 1085.4 L1060.5 1084.6 L1060.8 1083.5 L1061 1082.5 L1061.3 1082 L1061.6 1081.2 L1061.8 1080.6 L1062.1 1079.6 L1062.4 1078.5 L1062.6 1077.7 L1062.9 1076.7 L1063.2 1076.4 L1063.5 1075 L1063.7 1074.4 L1064 1073.2 L1064.3 1072.9 L1064.5 1071.5 L1064.8 1070.7 L1065.1 1069.4 L1065.3 1068.7 L1065.6 1067.6 L1065.9 1067.1 L1066.2 1065.7 L1066.4 1065.3 L1066.7 1064 L1067 1063.7 L1067.2 1063 L1067.5 1061.8 L1067.8 1061.3 L1068 1060.5 L1068.3 1060.1 L1068.6 1059.2 L1068.9 1058.5 L1069.1 1058 L1069.4 1057.2 L1069.7 1057.2 L1069.9 1055.9 L1070.2 1055.6 L1070.5 1054.7 L1070.7 1054.5 L1071 1054.1 L1071.3 1053.5 L1071.6 1052.8 L1071.8 1052.2 L1072.1 1051.9 L1072.4 1051.4 L1072.6 1050.6 L1072.9 1050 L1073.2 1050 L1073.4 1049.4 L1073.7 1048.8 L1074 1047.9 L1074.3 1047.6 L1074.5 1047.3 L1074.8 1047 L1075.1 1047 L1075.3 1046.1 L1075.6 1046.1 L1075.9 1045.9 L1076.1 1045 L1076.4 1045.4 L1076.7 1044.4 L1077 1044.3 L1077.2 1044.2 L1077.5 1043.6 L1077.8 1043.4 L1078 1042.7 L1078.3 1042.5 L1078.6 1042.2 L1078.8 1040.9 L1079.1 1041.1 L1079.4 1040.4 L1079.7 1040.1 L1079.9 1039.5 L1080.2 1039.5 L1080.5 1039 L1080.7 1039.1 L1081 1037.7 L1081.3 1037.4 L1081.5 1037.4 L1081.8 1036.6 L1082.1 1036.3 L1082.4 1035.5 L1082.6 1035.8 L1082.9 1035.3 L1083.2 1035.1 L1083.4 1034.8 L1083.7 1034.7 L1084 1034.5 L1084.2 1033.9 L1084.5 1033.5 L1084.8 1033.7 L1085.1 1033.4 L1085.3 1032.9 L1085.6 1032.2 L1085.9 1032.4 L1086.1 1032.5 L1086.4 1031.7 L1086.7 1031.5 L1086.9 1031 L1087.2 1031.2 L1087.5 1030.7 L1087.8 1031.1 L1088 1030.5 L1088.3 1030.5 L1088.6 1030.6 L1088.8 1030.2 L1089.1 1029.6 L1089.4 1029.5 L1089.6 1029.6 L1089.9 1029 L1090.2 1028.9 L1090.5 1028.7 L1090.7 1028.6 L1091 1028.5 L1091.3 1028.5 L1091.5 1028.2 L1091.8 1028.1 L1092.1 1028.2 L1092.3 1028 L1092.6 1027.9 L1092.9 1027.8 L1093.2 1027.6 L1093.4 1028.1 L1093.7 1028 L1094 1027.9 L1094.2 1028 L1094.5 1027.9 L1094.8 1028.1 L1095 1027.9 L1095.3 1028.2 L1095.6 1028.5 L1095.9 1028.1 L1096.1 1028 L1096.4 1028.8 L1096.7 1028.5 L1096.9 1028.5 L1097.2 1028.3 L1097.5 1028.3 L1097.7 1028.8 L1098 1029.2 L1098.3 1028.8 L1098.6 1028.9 L1098.8 1029.2 L1099.1 1029.4 L1099.4 1029.8 L1099.6 1029.3 L1099.9 1030.3 L1100.2 1030.6 L1100.4 1030.2 L1100.7 1030.6 L1101 1030.7 L1101.3 1031 L1101.5 1030.9 L1101.8 1031.1 L1102.1 1031.7 L1102.3 1031.6 L1102.6 1032.2 L1102.9 1032.4 L1103.1 1031.9 L1103.4 1032.3 L1103.7 1032.8 L1104 1032.4 L1104.2 1032.6 L1104.5 1032.4 L1104.8 1032.6 L1105 1032.8 L1105.3 1032.9 L1105.6 1032.7 L1105.8 1033.2 L1106.1 1033.1 L1106.4 1033.6 L1106.7 1033.5 L1106.9 1033.5 L1107.2 1034.1 L1107.5 1034.4 L1107.7 1035 L1108 1035.8 L1108.3 1036.2 L1108.5 1036.7 L1108.8 1037.2 L1109.1 1038.1 L1109.4 1038.5 L1109.6 1039.4 L1109.9 1039.9 L1110.2 1040.6 L1110.4 1041.5 L1110.7 1041.6 L1111 1042.4 L1111.2 1043 L1111.5 1043.5 L1111.8 1044.4 L1112.1 1044.7 L1112.3 1045 L1112.6 1045 L1112.9 1045.7 L1113.1 1045.7 L1113.4 1046.4 L1113.7 1046.7 L1114 1046.9 L1114.2 1046.9 L1114.5 1047.8 L1114.8 1047.8 L1115 1048 L1115.3 1048.5 L1115.6 1048.9 L1115.8 1049.2 L1116.1 1049.8 L1116.4 1050.6 L1116.7 1050.9 L1116.9 1051.8 L1117.2 1052.3 L1117.5 1052.5 L1117.7 1052.9 L1118 1053.8 L1118.3 1054.6 L1118.5 1055.5 L1118.8 1056.1 L1119.1 1056.3 L1119.4 1057.2 L1119.6 1058.3 L1119.9 1058.3 L1120.2 1059.2 L1120.4 1059.8 L1120.7 1060.7 L1121 1062 L1121.2 1062.5 L1121.5 1063.1 L1121.8 1064 L1122.1 1064.5 L1122.3 1065.9 L1122.6 1066.7 L1122.9 1067.7 L1123.1 1068.7 L1123.4 1070 L1123.7 1071.1 L1123.9 1072.5 L1124.2 1073 L1124.5 1074.2 L1124.8 1075.2 L1125 1076.6 L1125.3 1077.5 L1125.6 1078.8 L1125.8 1079.9 L1126.1 1080.7 L1126.4 1081.7 L1126.6 1082.7 L1126.9 1084 L1127.2 1085.2 L1127.5 1086.1 L1127.7 1087.4 L1128 1089.1 L1128.3 1090.5 L1128.5 1091.5 L1128.8 1092.9 L1129.1 1094.6 L1129.3 1095.3 L1129.6 1097.7 L1129.9 1098.8 L1130.2 1100 L1130.4 1101.3 L1130.7 1103.3 L1131 1104.4 L1131.2 1105.4 L1131.5 1106.7 L1131.8 1108.5 L1132 1109.8 L1132.3 1111.3 L1132.6 1112.4 L1132.9 1114.1 L1133.1 1115.8 L1133.4 1117.1 L1133.7 1118.2 L1133.9 1120 L1134.2 1120.9 L1134.5 1122.4 L1134.7 1124.1 L1135 1125.8 L1135.3 1127.3 L1135.6 1129.2 L1135.8 1130.9 L1136.1 1132.8 L1136.4 1134.6 L1136.6 1136.8 L1136.9 1138.6 L1137.2 1140.5 L1137.4 1142 L1137.7 1144 L1138 1146.2 L1138.3 1148.2 L1138.5 1150.2 L1138.8 1151.9 L1139.1 1154.2 L1139.3 1156.4 L1139.6 1158.7 L1139.9 1160.9 L1140.1 1162.8 L1140.4 1165.8 L1140.7 1168.2 L1141 1170.3 L1141.2 1173.2 L1141.5 1176.3 L1141.8 1178.6 L1142 1181.9 L1142.3 1184.4 L1142.6 1188.1 L1142.8 1190.8 L1143.1 1193.4 L1143.4 1196.9 L1143.7 1200.2 L1143.9 1203.4 L1144.2 1206.8 L1144.5 1210.4 L1144.7 1214.1 L1145 1217.3 L1145.3 1221.2 L1145.5 1225.4 L1145.8 1229.7 L1146.1 1233.7 L1146.4 1237.9 L1146.6 1242.1 L1146.9 1246.3 L1147.2 1251.2 L1147.4 1255.7 L1147.7 1260.5 L1148 1265.2 L1148.2 1270.3 L1148.5 1275.1 L1148.8 1280 L1149.1 1285.4 L1149.3 1290.5 L1149.6 1295.6 L1149.9 1301 L1150.1 1305.2 L1150.4 1310.7 L1150.7 1314.9 L1150.9 1319.1 L1151.2 1322.2 L1151.5 1325.7 L1151.8 1328.1 L1152 1329.1 L1152.3 1330.3 L1152.6 1330.3 L1152.8 1329.3 L1153.1 1327.6 L1153.4 1325.4 L1153.6 1322.3 L1153.9 1318.8 L1154.2 1314.7 L1154.5 1310.4 L1154.7 1305.8 L1155 1301.2 L1155.3 1296.1 L1155.5 1291.3 L1155.8 1285.9 L1156.1 1281 L1156.3 1276.1 L1156.6 1270.8 L1156.9 1266.4 L1157.2 1261.5 L1157.4 1256.7 L1157.7 1251.9 L1158 1247.5 L1158.2 1243.1 L1158.5 1238.9 L1158.8 1234.2 L1159 1230.3 L1159.3 1225.7 L1159.6 1222.1 L1159.9 1218.8 L1160.1 1214.6 L1160.4 1211.3 L1160.7 1207.7 L1160.9 1204.7 L1161.2 1201 L1161.5 1197.7 L1161.7 1194.9 L1162 1191.9 L1162.3 1188.7 L1162.6 1185.6 L1162.8 1182.2 L1163.1 1179.4 L1163.4 1176.7 L1163.6 1174.3 L1163.9 1171.7 L1164.2 1168.9 L1164.4 1166.5 L1164.7 1164.1 L1165 1161.6 L1165.3 1159 L1165.5 1157 L1165.8 1154.7" fill="none" stroke="#087c79" stroke-width="3.3" stroke-linejoin="round"/></g><path d="M892.8 976.8H957.2" stroke="#ff7d0a" stroke-width="3.8" stroke-linecap="round"/><path d="M892.8 1012.5H957.2" stroke="#087c79" stroke-width="3.4" stroke-linecap="round"/><text x="964" y="986.5" font-family="'Liberation Serif','Times New Roman',serif" font-size="28.5" fill="#ff7d0a" text-anchor="start">after packaging</text><text x="964" y="1022" font-family="'Liberation Serif','Times New Roman',serif" font-size="28.5" fill="#087c79" text-anchor="start">before packaging</text><text x="712.6" y="1381.2" font-family="'Liberation Serif','Times New Roman',serif" font-size="29" fill="#ff7d0a" text-anchor="start">ER=22.11 dB</text><text x="928.6" y="1381.2" font-family="'Liberation Serif','Times New Roman',serif" font-size="29" fill="#ff7d0a" text-anchor="start">FSR=21.04 nm</text><rect x="625.7" y="960.5" width="540.1" height="434.5" fill="none" stroke="#000" stroke-width="1.3"/><path d="M679.7 1395V1403M793.1 1395V1403M906.6 1395V1403M1020 1395V1403M1133.4 1395V1403M736.4 1395V1399M849.8 1395V1399M963.3 1395V1399M1076.7 1395V1399" stroke="#000" stroke-width="1.3"/><path d="M625.7 1373H617.7M625.7 1301.8H617.7M625.7 1230.7H617.7M625.7 1159.6H617.7M625.7 1088.5H617.7M625.7 1017.4H617.7M625.7 1337.4H621.7M625.7 1266.3H621.7M625.7 1195.2H621.7M625.7 1124.1H621.7M625.7 1052.9H621.7M625.7 981.8H621.7" stroke="#000" stroke-width="1.3"/><text x="679.7" y="1431.8" font-family="'Liberation Serif','Times New Roman',serif" font-size="29.5" fill="#000" text-anchor="middle">1510</text><text x="793.1" y="1431.8" font-family="'Liberation Serif','Times New Roman',serif" font-size="29.5" fill="#000" text-anchor="middle">1531</text><text x="906.6" y="1431.8" font-family="'Liberation Serif','Times New Roman',serif" font-size="29.5" fill="#000" text-anchor="middle">1552</text><text x="1020" y="1431.8" font-family="'Liberation Serif','Times New Roman',serif" font-size="29.5" fill="#000" text-anchor="middle">1573</text><text x="1133.4" y="1431.8" font-family="'Liberation Serif','Times New Roman',serif" font-size="29.5" fill="#000" text-anchor="middle">1594</text><text x="611" y="1383" font-family="'Liberation Serif','Times New Roman',serif" font-size="29.5" fill="#000" text-anchor="end">-25</text><text x="611" y="1311.8" font-family="'Liberation Serif','Times New Roman',serif" font-size="29.5" fill="#000" text-anchor="end">-20</text><text x="611" y="1240.7" font-family="'Liberation Serif','Times New Roman',serif" font-size="29.5" fill="#000" text-anchor="end">-15</text><text x="611" y="1169.6" font-family="'Liberation Serif','Times New Roman',serif" font-size="29.5" fill="#000" text-anchor="end">-10</text><text x="611" y="1098.5" font-family="'Liberation Serif','Times New Roman',serif" font-size="29.5" fill="#000" text-anchor="end">-5</text><text x="611" y="1027.4" font-family="'Liberation Serif','Times New Roman',serif" font-size="29.5" fill="#000" text-anchor="end">0</text><text x="772.3" y="1462.3" font-family="'Liberation Serif','Times New Roman',serif" font-size="36.6" fill="#000" text-anchor="start">Wavelength / nm</text><text x="562.8" y="1165" font-family="'Liberation Serif','Times New Roman',serif" font-size="36.8" fill="#000" text-anchor="middle" transform="rotate(-90 562.8 1165)">Reflection / dB</text><text x="659.4" y="1003.5" font-family="'Liberation Sans',Arial,sans-serif" font-size="42" font-weight="bold" fill="#000" text-anchor="start">(k)</text><path d="M1261.7 994.4 L1262.2 1018.3 L1263.1 1111.6 L1264 1158.3 L1265.2 1298.2 L1266.6 1371.1 L1271.9 1373.4 L1283.5 1362.3 L1292.3 1353.6 L1298.1 1341.9 L1303.9 1323 L1308.3 1251.5 L1313.6 1146.6 L1319.1 1102.3 L1324.3 1181.6 L1328.7 1301.1 L1334.5 1331.7 L1340.4 1347.8 L1349.7 1358 L1355 1352.1 L1360.8 1309.9 L1365.7 1262.6 L1370.4 1298.8 L1375.9 1290.9 L1381.2 1330.3 L1387 1349.2 L1395.8 1363.8 L1401.6 1370.5 L1407.4 1368.2 L1417.6 1316.3 L1423.5 1336.1 L1428.4 1346.3 L1433.7 1346.3 L1438.9 1333.8 L1445.3 1347.8 L1451.2 1358.8 L1455.5 1362.3 L1459.9 1358.8 L1464.3 1347.8 L1469.2 1343.4 L1474.5 1360 L1480.2 1355.1 L1485.5 1360.4 L1490.8 1356.8 L1496 1363.9 L1504.9 1365.6 L1511.9 1360.4 L1517.2 1348 L1522.5 1349.8 L1527.8 1372.7 L1533.1 1356.8 L1538.3 1369.2 L1543.6 1360.4 L1548.9 1374.5 L1554.2 1363.9 L1561.3 1358.6 L1568.3 1358.6 L1573.6 1363.9 L1578.9 1363.9 L1584.2 1372.7 L1589.5 1363.9 L1594.8 1369.2 L1600 1374.5 L1607.1 1365.6 L1614.1 1367.4 L1619.4 1356.8 L1626.5 1365.6 L1633.5 1369.2 L1638.8 1363.9 L1644.1 1374.5 L1649.4 1367.4 L1654.7 1374.5 L1660 1369.2 L1665.2 1365.6 L1670.5 1365.6 L1677.6 1375.2 L1684.6 1372.7 L1689.9 1369.2 L1695.2 1374.5 L1700.5 1371 L1705.8 1369.2 L1711.1 1372.7 L1718.1 1365.6 L1725.2 1370.2 L1730.5 1375.2 L1735.8 1369.2 L1741 1367.4 L1746.3 1371 L1751.6 1369.2 L1756.9 1372.7 L1762.2 1371 L1769.2 1370.2 L1776.3 1372.7 L1782.6 1375.2" fill="none" stroke="#087c79" stroke-width="3.2" stroke-linejoin="round"/><path d="M1364.5 980.4H1426.7" stroke="#087c79" stroke-width="3.4" stroke-linecap="round"/><text x="1433" y="989.5" font-family="'Liberation Serif','Times New Roman',serif" font-size="28" fill="#000" text-anchor="start">FFT of the reflection spectrum</text><text x="1373" y="1062.5" font-family="'Liberation Serif','Times New Roman',serif" font-size="35.5" fill="#000" text-anchor="start">main frequency</text><text x="1431.3" y="1120.7" font-family="'Liberation Serif','Times New Roman',serif" font-size="35.5" fill="#000" text-anchor="start">0.053</text><path d="M1323.3 1098.8L1361.2 1072.6" stroke="#000" stroke-width="1.6"/><path d="M1369.2 1067.1L1360.8 1077.8L1361.2 1072.6L1356.2 1071.2Z" fill="#000"/><rect x="1259.7" y="960.5" width="522.5" height="419.1" fill="none" stroke="#000" stroke-width="1.3"/><path d="M1261.3 1379.6V1387.6M1365.5 1379.6V1387.6M1469.6 1379.6V1387.6M1573.8 1379.6V1387.6M1678 1379.6V1387.6M1782.2 1379.6V1387.6M1313.4 1379.6V1383.6M1417.5 1379.6V1383.6M1521.7 1379.6V1383.6M1625.9 1379.6V1383.6M1730.1 1379.6V1383.6" stroke="#000" stroke-width="1.3"/><path d="M1259.7 1376H1251.7M1259.7 1312H1251.7M1259.7 1248H1251.7M1259.7 1183.9H1251.7M1259.7 1119.9H1251.7M1259.7 1055.9H1251.7M1259.7 991.9H1251.7M1259.7 1344H1255.7M1259.7 1280H1255.7M1259.7 1216H1255.7M1259.7 1151.9H1255.7M1259.7 1087.9H1255.7M1259.7 1023.9H1255.7" stroke="#000" stroke-width="1.3"/><text x="1261.3" y="1415.4" font-family="'Liberation Serif','Times New Roman',serif" font-size="28" fill="#000" text-anchor="middle">0.0</text><text x="1365.5" y="1415.4" font-family="'Liberation Serif','Times New Roman',serif" font-size="28" fill="#000" text-anchor="middle">0.1</text><text x="1469.6" y="1415.4" font-family="'Liberation Serif','Times New Roman',serif" font-size="28" fill="#000" text-anchor="middle">0.2</text><text x="1573.8" y="1415.4" font-family="'Liberation Serif','Times New Roman',serif" font-size="28" fill="#000" text-anchor="middle">0.3</text><text x="1678" y="1415.4" font-family="'Liberation Serif','Times New Roman',serif" font-size="28" fill="#000" text-anchor="middle">0.4</text><text x="1782.2" y="1415.4" font-family="'Liberation Serif','Times New Roman',serif" font-size="28" fill="#000" text-anchor="middle">0.5</text><text x="1246" y="1385.5" font-family="'Liberation Serif','Times New Roman',serif" font-size="28" fill="#000" text-anchor="end">0</text><text x="1246" y="1321.5" font-family="'Liberation Serif','Times New Roman',serif" font-size="28" fill="#000" text-anchor="end">1</text><text x="1246" y="1257.5" font-family="'Liberation Serif','Times New Roman',serif" font-size="28" fill="#000" text-anchor="end">2</text><text x="1246" y="1193.4" font-family="'Liberation Serif','Times New Roman',serif" font-size="28" fill="#000" text-anchor="end">3</text><text x="1246" y="1129.4" font-family="'Liberation Serif','Times New Roman',serif" font-size="28" fill="#000" text-anchor="end">4</text><text x="1246" y="1065.4" font-family="'Liberation Serif','Times New Roman',serif" font-size="28" fill="#000" text-anchor="end">5</text><text x="1246" y="1001.4" font-family="'Liberation Serif','Times New Roman',serif" font-size="28" fill="#000" text-anchor="end">6</text><text x="1398" y="1464.2" font-family="'Liberation Serif','Times New Roman',serif" font-size="36" fill="#000" text-anchor="start">Frequency / nm<tspan font-size="21" dy="-17">-1</tspan></text><text x="1215.5" y="1157.7" font-family="'Liberation Serif','Times New Roman',serif" font-size="36" fill="#000" text-anchor="middle" transform="rotate(-90 1215.5 1157.7)">Amplitude</text><text x="1283.6" y="1003.5" font-family="'Liberation Sans',Arial,sans-serif" font-size="42" font-weight="bold" fill="#000" text-anchor="start">(l)</text><defs><clipPath id="ca"><rect x="6.5" y="10.8" width="432" height="431"/></clipPath><filter id="fa" x="-5%" y="-5%" width="110%" height="110%"><feGaussianBlur stdDeviation="1.6"/></filter><filter id="fa2"><feGaussianBlur stdDeviation="3"/></filter><linearGradient id="cbar" x1="0" y1="0" x2="0" y2="1"><stop offset="0" stop-color="#ffffff"/><stop offset="0.09" stop-color="#f3ead6"/><stop offset="0.185" stop-color="#d6bf8e"/><stop offset="0.27" stop-color="#c0a060"/><stop offset="0.363" stop-color="#a07000"/><stop offset="0.5" stop-color="#7a3c08"/><stop offset="0.585" stop-color="#6a2000"/><stop offset="0.64" stop-color="#5a0a00"/><stop offset="0.68" stop-color="#550000"/><stop offset="0.82" stop-color="#3a0000"/><stop offset="0.97" stop-color="#100000"/><stop offset="1" stop-color="#080000"/></linearGradient></defs><g clip-path="url(#ca)"><g filter="url(#fa)"><rect x="0" y="0" width="450" height="450" fill="#76360a"/><polygon points="6,90 43,90 43,330 6,330" fill="#7a3a08"/><polygon points="43,90 100,90 100,330 43,330" fill="#834410"/><polygon points="100,90 126,90 126,10 131,10 166,330 100,330" fill="#6c2a06"/><polygon points="126,10 190,10 201,230 210,300 221,441 190,441 180,330 166,230 140,120" fill="#5c1400"/><path d="M139 60 L142 190" stroke="#4a0800" stroke-width="2" opacity="0.6"/><linearGradient id="acg" x1="0" y1="0" x2="1" y2="0"><stop offset="0" stop-color="#a46c1a"/><stop offset="0.5" stop-color="#9a6212"/><stop offset="1" stop-color="#84460a"/></linearGradient><polygon points="190,10 262,10 272,120 268,226 206,226 201,160" fill="url(#acg)"/><polygon points="262,10 318,10 312,230 268,226 272,120" fill="#7a3a06"/><polygon points="262,10 327,10 318,120 300,125" fill="#6a2804"/><polygon points="318,10 340,10 345,200 347,300 330,300 321,200" fill="#5e1800"/><polygon points="340,10 372,10 372,200 347,200" fill="#7a3a08"/><polygon points="418,10 440,10 440,300 415,300" fill="#955a14"/><polygon points="375,12 405,12 418,20 423,60 420,100 417,130 412,145 405,175 400,190 393,195 388,175 385,140 375,120 371,80 372,40" fill="#c0943e"/><polygon points="398,20 418,22 422,60 418,110 405,120 400,60" fill="#caa252"/><polygon points="346.1,200 394.3,200 395.9,233.2 394.3,269.8 415.9,306.3 435.8,293 437.5,269.8 449.1,266.4 449.1,342.9 422.5,342.9 404.3,356.1 391,342.9 346.1,344.5 344.5,299.7" fill="#b08030"/><polygon points="371,231.6 391,229.9 394.3,249.8 395.9,271.4 394.3,299.7 371,299.7 367.7,249.8" fill="#bc8e3e"/><polygon points="394.3,269.8 415.9,306.3 395.9,306.3 391,293" fill="#6a2404"/><polygon points="7.5,327.9 21.6,314.6 38.2,309.6 43.2,299.6 56.5,283 73.1,284.7 86.4,289.7 83,306.3 96.3,306.3 104.6,319.6 116.2,318.7 137.8,316.2 166.1,307.9 179.4,307.9 186,316.2 187.7,337.8 204.3,337.8 214.2,344.5 215.9,366.1 214.2,382.7 196,396 194.3,415.9 182.7,430.8 149.5,435.8 129.5,435.8 119.6,422.5 126.2,402.6 107.9,400.9 103,392.6 93,392.6 89.7,407.6 74.7,420.9 61.4,440 24.9,440 29.9,407.6 43.2,371 7.5,374.4" fill="#a26c1e"/><polygon points="38.2,309.6 56.5,283 73.1,284.7 86.4,289.7 81.4,319.6 69.7,332.9 56.5,346.1 39.9,351.1 39.9,326.2" fill="#b98c3e"/><polygon points="86.4,316.2 106.3,319.6 116.2,319.6 116.2,399.3 103,392.6 93,392.6 86.4,366.1" fill="#a87426"/><polygon points="7.5,384.3 18.3,386 29.9,407.6 24.9,440 7.5,440" fill="#9e6a1e"/><polygon points="7.5,374.4 43.2,371 29.9,407.6 18.3,386 7.5,384.3" fill="#662206"/><polygon points="74.7,420.9 89.7,407.6 93,392.6 103,392.6 107.9,400.9 126.2,402.6 119.6,422.5 129.5,435.8 149.5,435.8 182.7,430.8 194.3,415.9 196,396 214.2,382.7 222.5,440 61.4,440" fill="#5e1a02"/><polygon points="144.5,226.6 159.4,205 176,210 194.3,219.9 186,233.2 172.7,239.9 159.4,243.2 149.5,233.2" fill="#a87a30"/><polygon points="205.7,231.6 222,226 234.8,223 243,236.5 236.5,249.8 253,263 276.3,261.5 284.7,274.8 276.3,289.7 294.6,299.7 288,314.6 324.5,303 347.8,299.7 349,330 329.5,344.5 273,367.8 234.8,382.7 229.8,397.7 221.5,396 215.7,349.5 206.6,283" fill="#c6a052"/><polygon points="228,245 250,262 276,262 284,275 276,290 294,300 288,315 324,303 347,300 349,330 330,344 273,367 238,378 232,320" fill="#b88a3a"/><polygon points="347.8,299.7 394.3,289.7 415.9,286.4 437.5,266.4 439.1,339.5 422.5,342.9 404.3,356.1 391,342.9 329.5,344.5 346.1,316.3" fill="#ae7c2c"/><polygon points="326.2,344.5 391,342.9 404.3,356.1 422.5,342.9 439.1,341.2 439.1,399.3 412.6,399.3 387.6,414.3 346.1,419.3 329.5,427.6 322.9,440 229.8,440 229.8,374.4 273,367.8" fill="#5e1a02"/><polygon points="371,344.5 384.3,344.5 379.3,374.4 374.4,374.4" fill="#9a6a22"/><polygon points="322.9,440 329.5,427.6 346.1,419.3 387.6,414.3 412.6,399.3 429.2,396 439.1,407.6 439.1,440" fill="#a06a20"/><polygon points="412.6,366.1 424.2,342.9 439.1,341.2 439.1,364.5 429.2,366.1" fill="#a87428"/><ellipse cx="87" cy="195" rx="9.5" ry="7.5" fill="#fffdf0"/><ellipse cx="366" cy="259" rx="10.5" ry="9" fill="#fffdf0"/><ellipse cx="352.8" cy="62.7" rx="5" ry="4" fill="#fff8e0"/><ellipse cx="352.8" cy="170" rx="5.5" ry="4.5" fill="#fff8e0"/><ellipse cx="192" cy="75" rx="8" ry="6" fill="#d8b870"/><ellipse cx="203" cy="30" rx="10" ry="6" fill="#f4e6c0"/><ellipse cx="336.6" cy="22" rx="6" ry="5" fill="#f0e0b8"/><ellipse cx="322" cy="151" rx="12" ry="4" fill="#a8782a"/><ellipse cx="405" cy="35" rx="8" ry="10" fill="#d8c080"/><ellipse cx="95" cy="340" rx="5" ry="3" fill="#f0e0c0"/><ellipse cx="44" cy="337" rx="5" ry="3" fill="#f6ead0"/><ellipse cx="118" cy="395" rx="4" ry="3" fill="#f4e8c8"/><ellipse cx="234.5" cy="413" rx="3.5" ry="2.5" fill="#f4e8c8"/><ellipse cx="102" cy="364" rx="4" ry="3" fill="#e8d0a0"/><ellipse cx="176" cy="221" rx="8" ry="4" fill="#d8c080"/></g><path d="M311.4 287.5L326.6 384.5" stroke="#e01010" stroke-width="1"/><rect x="307.5" y="283" width="8" height="8" fill="#2020c0" stroke="#1010a0" stroke-width="0.6"/></g><rect x="6.5" y="10.8" width="432" height="431" fill="none" stroke="#111" stroke-width="1.2"/><rect x="0" y="0" width="125.5" height="95.6" fill="#fff"/><rect x="321.3" y="395" width="87.7" height="8" fill="#fff" stroke="#111" stroke-width="1.2"/><text x="365" y="426.5" font-family="'Liberation Sans',Arial,sans-serif" font-size="22" font-weight="bold" fill="#fff" stroke="#111" stroke-width="3" paint-order="stroke" text-anchor="middle">2μm</text><rect x="455.3" y="68.3" width="57.8" height="361.5" fill="url(#cbar)" stroke="#222" stroke-width="0.8"/><text x="484.2" y="60.6" font-family="'Liberation Sans',Arial,sans-serif" font-size="17.5" fill="#111" text-anchor="middle">nm</text><text x="484.2" y="85" font-family="'Liberation Sans',Arial,sans-serif" font-size="17.5" fill="#111" text-anchor="middle">6.93</text><text x="484.2" y="256" font-family="'Liberation Sans',Arial,sans-serif" font-size="17.5" fill="#fff" text-anchor="middle">0.00</text><text x="484.2" y="427.5" font-family="'Liberation Sans',Arial,sans-serif" font-size="17.5" fill="#fff" text-anchor="middle">-6.93</text><text x="33.5" y="61.4" font-family="'Liberation Sans',Arial,sans-serif" font-size="42" font-weight="bold" fill="#000" text-anchor="start">(a)</text><defs><clipPath id="cd"><rect x="6.9" y="506.2" width="195.5" height="448.3"/></clipPath><linearGradient id="dbg" x1="0" y1="0" x2="0" y2="1"><stop offset="0" stop-color="#9e9e9a"/><stop offset="0.6" stop-color="#acacaa"/><stop offset="1" stop-color="#b8b8b6"/></linearGradient><linearGradient id="dtb" x1="0" y1="0" x2="0" y2="1"><stop offset="0" stop-color="#dfe1e1"/><stop offset="0.5" stop-color="#d6d8d8"/><stop offset="1" stop-color="#cdcfcf"/></linearGradient><linearGradient id="damb" x1="0" y1="0" x2="0" y2="1"><stop offset="0" stop-color="#2a1808"/><stop offset="0.3" stop-color="#4e3010"/><stop offset="0.6" stop-color="#7a5020"/><stop offset="0.82" stop-color="#a47228"/><stop offset="1" stop-color="#9a6822"/></linearGradient><linearGradient id="dliq" x1="0" y1="0" x2="1" y2="0"><stop offset="0" stop-color="#1a0e0c"/><stop offset="0.25" stop-color="#22120f"/><stop offset="0.6" stop-color="#1b0f0c"/><stop offset="1" stop-color="#140a08"/></linearGradient><radialGradient id="dsh" cx="0.5" cy="0.5" r="0.5"><stop offset="0" stop-color="#a8aaaa" stop-opacity="0.7"/><stop offset="1" stop-color="#a8aaaa" stop-opacity="0"/></radialGradient></defs><g clip-path="url(#cd)"><rect x="0" y="500" width="210" height="200" fill="url(#dbg)"/><rect x="0" y="699" width="210" height="260" fill="url(#dtb)"/><rect x="0" y="698" width="210" height="6" fill="#747474"/><ellipse cx="150" cy="850" rx="50" ry="40" fill="url(#dsh)"/><path d="M51.5 672 Q51.5 664 60 664 H152 Q161 664 161 672 V848 Q161 864 140 867 Q106 872 72 867 Q51.5 864 51.5 848 Z" fill="url(#dliq)"/><path d="M51.5 672 Q51.5 664 60 664 H152 Q161 664 161 672 V722 Q106 728 51.5 722 Z" fill="url(#damb)"/><path d="M52 708 Q106 716 160 708 V722 Q106 730 52 722 Z" fill="#b07a2c" opacity="0.75"/><ellipse cx="73.5" cy="684" rx="3" ry="5" fill="#f0e0c0" opacity="0.9"/><rect x="62" y="780" width="6" height="70" fill="#2c1412" opacity="0.5"/><rect x="62" y="656" width="90" height="12" fill="#151515"/><path d="M58.7 606 Q58.7 598.4 68 598.4 H146 Q155.4 598.4 155.4 606 V657 Q107 664 58.7 657 Z" fill="#141414"/><path d="M64 605 V655 M68 604 V656 M72 603 V657 M76 603 V657 M80 603 V657" stroke="#2c2c2c" stroke-width="1.2"/><path d="M60 600 Q107 594 154 600" stroke="#3a3a3a" stroke-width="1.5" fill="none"/></g><text x="68.4" y="928.4" font-family="'Liberation Serif','Times New Roman',serif" font-size="55" fill="#000" text-anchor="start">GO</text><text x="15.5" y="549.5" font-family="'Liberation Sans',Arial,sans-serif" font-size="42" font-weight="bold" fill="#000" text-anchor="start">(d)</text><defs><clipPath id="ce"><rect x="217.8" y="506.2" width="224.5" height="225.7"/></clipPath><radialGradient id="ebg" cx="0.7" cy="0.62" r="0.8"><stop offset="0" stop-color="#ede4de"/><stop offset="0.5" stop-color="#e2d4ce"/><stop offset="0.85" stop-color="#c8b8b0"/><stop offset="1" stop-color="#b8a69e"/></radialGradient><radialGradient id="ecirc" cx="0.4" cy="0.62" r="0.6"><stop offset="0" stop-color="#5a594f"/><stop offset="0.6" stop-color="#4f4d45"/><stop offset="1" stop-color="#3d3a3c"/></radialGradient><filter id="eblur"><feGaussianBlur stdDeviation="2.5"/></filter><filter id="eblur1" x="-5%" y="-5%" width="110%" height="110%"><feGaussianBlur stdDeviation="1.2"/></filter><filter id="eblur2"><feGaussianBlur stdDeviation="6"/></filter></defs><g clip-path="url(#ce)"><rect x="210" y="500" width="240" height="240" fill="url(#ebg)"/><path d="M210 500 H330 Q260 530 240 600 Q230 660 250 740 H210 Z" fill="#c8b8b4" opacity="0.6" filter="url(#eblur2)"/><circle cx="336" cy="628" r="95" fill="#f2eae4" opacity="0.8" filter="url(#eblur2)"/><circle cx="329.4" cy="621.3" r="86.5" fill="url(#ecirc)" filter="url(#eblur1)"/><path d="M330 537 A84 84 0 0 1 413 630" stroke="#2c2856" stroke-width="5" fill="none" opacity="0.7" filter="url(#eblur)"/><path d="M386.3 553.5 A88.5 88.5 0 0 1 397.2 678.2" stroke="#ffffff" stroke-width="4" fill="none" filter="url(#eblur1)"/><ellipse cx="256" cy="648" rx="7" ry="11" fill="#22284a"/><circle cx="327" cy="622" r="5" fill="#2e2c28" filter="url(#eblur)"/><circle cx="339" cy="698" r="3" fill="#fff" opacity="0.9"/></g><text x="229.2" y="549.7" font-family="'Liberation Sans',Arial,sans-serif" font-size="42" font-weight="bold" fill="#000" text-anchor="start">(e)</text><defs><clipPath id="cf"><rect x="218.1" y="738.9" width="224.20000000000002" height="210.70000000000005"/></clipPath><linearGradient id="fbg" x1="0" y1="0" x2="1" y2="1"><stop offset="0" stop-color="#f3c67a"/><stop offset="0.5" stop-color="#ecc272"/><stop offset="1" stop-color="#caa04e"/></linearGradient><radialGradient id="fcirc" cx="0.5" cy="0.55" r="0.6"><stop offset="0" stop-color="#dc9a72"/><stop offset="0.5" stop-color="#cc8a62"/><stop offset="1" stop-color="#c08458"/></radialGradient><filter id="fblur"><feGaussianBlur stdDeviation="2"/></filter><filter id="fblur2"><feGaussianBlur stdDeviation="8"/></filter></defs><g clip-path="url(#cf)"><rect x="210" y="730" width="240" height="230" fill="url(#fbg)"/><circle cx="330" cy="858" r="88" fill="#a8863e" opacity="0.75" filter="url(#fblur2)"/><circle cx="310" cy="846" r="86" fill="#f4e48a" opacity="0.8" filter="url(#fblur2)"/><circle cx="316" cy="843.4" r="84.5" fill="url(#fcirc)" filter="url(#fblur)"/><path d="M290 866 L268 905 L272 910 Z" fill="#d070a0" opacity="0.6"/><circle cx="251" cy="817" r="7" fill="#c88a70" stroke="#a87050" stroke-width="1"/></g><text x="229" y="781.8" font-family="'Liberation Sans',Arial,sans-serif" font-size="42" font-weight="bold" fill="#000" text-anchor="start">(f)</text><defs><clipPath id="cg"><rect x="462.1" y="502.1" width="503.5" height="446.79999999999995"/></clipPath><filter id="gn" x="0" y="0" width="100%" height="100%" color-interpolation-filters="sRGB"><feTurbulence type="fractalNoise" baseFrequency="0.09" numOctaves="3" seed="4" result="n"/><feColorMatrix in="n" type="matrix" values="0.33 0.33 0.33 0 0  0.33 0.33 0.33 0 0  0.33 0.33 0.33 0 0  0 0 0 0 1" result="g"/><feComponentTransfer in="g"><feFuncR type="linear" slope="0.5" intercept="0.12"/><feFuncG type="linear" slope="0.5" intercept="0.12"/><feFuncB type="linear" slope="0.5" intercept="0.12"/></feComponentTransfer></filter><filter id="gbl" x="-10%" y="-10%" width="120%" height="120%"><feGaussianBlur stdDeviation="4"/></filter><radialGradient id="gcirc" cx="0.5" cy="0.5" r="0.5"><stop offset="0" stop-color="#5e5e5e"/><stop offset="0.93" stop-color="#5a5a5a"/><stop offset="0.975" stop-color="#7a7a7a"/><stop offset="1" stop-color="#6a6a6a"/></radialGradient></defs><g clip-path="url(#cg)"><rect x="462.1" y="502.1" width="503.5" height="446.79999999999995" fill="#5a5a5a" filter="url(#gn)"/><rect x="462.1" y="502.1" width="503.5" height="446.79999999999995" fill="#5a5a5a" opacity="0.55"/><linearGradient id="gring" x1="0" y1="0" x2="0" y2="1"><stop offset="0" stop-color="#8c8c8c" stop-opacity="0"/><stop offset="0.45" stop-color="#8c8c8c" stop-opacity="0.05"/><stop offset="0.75" stop-color="#8c8c8c" stop-opacity="0.6"/><stop offset="1" stop-color="#909090" stop-opacity="0.9"/></linearGradient><circle cx="719.6" cy="712.4" r="256" fill="none" stroke="url(#gring)" stroke-width="13" filter="url(#gbl)"/><circle cx="719.6" cy="712.4" r="248" fill="#565656" opacity="0.4" filter="url(#gbl)"/></g><path d="M478.7 679.6V710M478.7 733.8V764M958.3 676.4V707.7M958.3 730.6V762.5" stroke="#fff" stroke-width="7"/><path d="M512 726.8H940" stroke="#fff" stroke-width="7" stroke-dasharray="27 28" stroke-dashoffset="-0"/><path d="M487.6 726.8L513 713V740.6Z" fill="#fff"/><path d="M942 726.8L918 713V740.6Z" fill="#fff"/><text x="622.1" y="814.4" font-family="'Liberation Serif','Times New Roman',serif" font-size="54.5" fill="#fff" text-anchor="start">308 μm</text><text x="475" y="549.7" font-family="'Liberation Sans',Arial,sans-serif" font-size="42" font-weight="bold" fill="#fff" text-anchor="start">(g)</text><defs><clipPath id="ch"><rect x="981.9" y="501.9" width="382.30000000000007" height="446.80000000000007"/></clipPath><filter id="hn" x="0" y="0" width="100%" height="100%" color-interpolation-filters="sRGB"><feTurbulence type="fractalNoise" baseFrequency="0.07" numOctaves="3" seed="9" result="n"/><feColorMatrix in="n" type="matrix" values="0.33 0.33 0.33 0 0  0.33 0.33 0.33 0 0  0.33 0.33 0.33 0 0  0 0 0 0 1" result="g"/><feComponentTransfer in="g"><feFuncR type="linear" slope="0.4" intercept="0.14"/><feFuncG type="linear" slope="0.4" intercept="0.14"/><feFuncB type="linear" slope="0.4" intercept="0.14"/></feComponentTransfer></filter><filter id="hbl" x="-20%" y="-20%" width="140%" height="140%"><feGaussianBlur stdDeviation="1.6"/></filter><filter id="hbl3" x="-20%" y="-20%" width="140%" height="140%"><feGaussianBlur stdDeviation="5"/></filter><filter id="hbl2" x="-20%" y="-20%" width="140%" height="140%"><feGaussianBlur stdDeviation="14"/></filter></defs><g clip-path="url(#ch)"><rect x="981.9" y="501.9" width="382.30000000000007" height="446.80000000000007" fill="#585858" filter="url(#hn)"/><rect x="981.9" y="501.9" width="382.30000000000007" height="446.80000000000007" fill="#555" opacity="0.55"/><path d="M965 965 Q1125 700 1306.2 500" stroke="#6c6c6c" stroke-width="40" fill="none" filter="url(#hbl3)" opacity="1"/><path d="M890 965 Q1050 700 1227.5 500" stroke="#606060" stroke-width="30" fill="none" filter="url(#hbl3)" opacity="1"/><path d="M1085 965 Q1245 700 1432.2 500" stroke="#686868" stroke-width="36" fill="none" filter="url(#hbl3)" opacity="1"/><path d="M1160 965 Q1320 700 1511 500" stroke="#5e5e5e" stroke-width="40" fill="none" filter="url(#hbl3)" opacity="1"/><path d="M840 965 Q1000 700 1175 500" stroke="#5e5e5e" stroke-width="3" fill="none" filter="url(#hbl)" opacity="0.9"/><path d="M870 965 Q1030 700 1206.5 500" stroke="#6a6a6a" stroke-width="3" fill="none" filter="url(#hbl)" opacity="0.9"/><path d="M900 965 Q1060 700 1238 500" stroke="#727272" stroke-width="3" fill="none" filter="url(#hbl)" opacity="0.9"/><path d="M928 965 Q1088 700 1267.4 500" stroke="#7c7c7c" stroke-width="4" fill="none" filter="url(#hbl)" opacity="0.9"/><path d="M948 965 Q1108 700 1288.4 500" stroke="#808080" stroke-width="3" fill="none" filter="url(#hbl)" opacity="0.9"/><path d="M978 965 Q1138 700 1319.9 500" stroke="#868686" stroke-width="5" fill="none" filter="url(#hbl)" opacity="0.9"/><path d="M1000 965 Q1160 700 1343 500" stroke="#7c7c7c" stroke-width="3" fill="none" filter="url(#hbl)" opacity="0.9"/><path d="M1020 965 Q1180 700 1364 500" stroke="#787878" stroke-width="3" fill="none" filter="url(#hbl)" opacity="0.9"/><path d="M1062 965 Q1222 700 1408.1 500" stroke="#8a8a8a" stroke-width="5" fill="none" filter="url(#hbl)" opacity="0.9"/><path d="M1075 965 Q1235 700 1421.8 500" stroke="#767676" stroke-width="3" fill="none" filter="url(#hbl)" opacity="0.9"/><path d="M1100 965 Q1260 700 1448 500" stroke="#747474" stroke-width="3" fill="none" filter="url(#hbl)" opacity="0.9"/><path d="M1125 965 Q1285 700 1474.2 500" stroke="#787878" stroke-width="4" fill="none" filter="url(#hbl)" opacity="0.9"/><path d="M1150 965 Q1310 700 1500.5 500" stroke="#6e6e6e" stroke-width="3" fill="none" filter="url(#hbl)" opacity="0.9"/><path d="M1190 965 Q1350 700 1542.5 500" stroke="#727272" stroke-width="3" fill="none" filter="url(#hbl)" opacity="0.9"/><path d="M1230 965 Q1390 700 1584.5 500" stroke="#6c6c6c" stroke-width="3" fill="none" filter="url(#hbl)" opacity="0.9"/><path d="M1270 965 Q1430 700 1626.5 500" stroke="#707070" stroke-width="3" fill="none" filter="url(#hbl)" opacity="0.9"/><path d="M960 470 H1300 L1218 562 L1105 680 L960 850 Z" fill="#454545" opacity="0.92" filter="url(#hbl2)"/><path d="M1010 560 Q1060 620 1050 700 M1000 640 Q1080 600 1120 560 M990 720 Q1040 700 1080 650" stroke="#555" stroke-width="2" fill="none" filter="url(#hbl)"/><path d="M1040 965 Q1200 700 1385 500" stroke="#8a8a8a" stroke-width="26" fill="none" filter="url(#hbl3)" opacity="1"/><path d="M1040 965 Q1200 700 1385 500" stroke="#a4a4a4" stroke-width="12" fill="none" filter="url(#hbl)" opacity="1"/><path d="M1299 860 Q1292 910 1293 960" stroke="#9a9a9a" stroke-width="7" fill="none" filter="url(#hbl)"/></g><rect x="1181.6" y="880.4" width="140.2" height="16.3" fill="#fff"/><text x="1168.1" y="856.7" font-family="'Liberation Serif','Times New Roman',serif" font-size="54" fill="#fff" text-anchor="start">500 nm</text><text x="995.4" y="550.2" font-family="'Liberation Sans',Arial,sans-serif" font-size="42" font-weight="bold" fill="#fff" text-anchor="start">(h)</text><defs><clipPath id="ci"><rect x="1380.5" y="501.9" width="397.4000000000001" height="446.80000000000007"/></clipPath><filter id="in" x="0" y="0" width="100%" height="100%" color-interpolation-filters="sRGB"><feTurbulence type="fractalNoise" baseFrequency="0.08" numOctaves="3" seed="13" result="n"/><feColorMatrix in="n" type="matrix" values="0.33 0.33 0.33 0 0  0.33 0.33 0.33 0 0  0.33 0.33 0.33 0 0  0 0 0 0 1" result="g"/><feComponentTransfer in="g"><feFuncR type="linear" slope="0.45" intercept="0.12"/><feFuncG type="linear" slope="0.45" intercept="0.12"/><feFuncB type="linear" slope="0.45" intercept="0.12"/></feComponentTransfer></filter><filter id="ibl" x="-20%" y="-20%" width="140%" height="140%"><feGaussianBlur stdDeviation="4"/></filter><filter id="ibl2" x="-20%" y="-20%" width="140%" height="140%"><feGaussianBlur stdDeviation="18"/></filter><filter id="ibl1"><feGaussianBlur stdDeviation="1.2"/></filter><linearGradient id="ig" x1="0" y1="0" x2="0.35" y2="1"><stop offset="0" stop-color="#8a8a8a"/><stop offset="0.4" stop-color="#626262"/><stop offset="1" stop-color="#464646"/></linearGradient></defs><g clip-path="url(#ci)"><rect x="1380.5" y="501.9" width="397.4000000000001" height="446.80000000000007" fill="#555" filter="url(#in)"/><rect x="1380.5" y="501.9" width="397.4000000000001" height="446.80000000000007" fill="url(#ig)" opacity="0.65"/><path d="M1437.4 501.9 L1468.5 535.5 L1493.5 588.5 L1524.7 616.6 L1549.6 629 L1593.3 669.6 L1624.5 697.7 L1649.4 732 L1671.2 763.2 L1696.2 788.1 L1724.2 819.3 L1746.1 847.4 L1749.2 863 L1764.8 887.9 L1777.9 903.5 L1800 960 L1650 960 L1450 760 L1380 700 L1380 500 Z" fill="#7a7a7a" opacity="0.35" filter="url(#ibl2)"/><path d="M1437.4 501.9 L1468.5 535.5 L1493.5 588.5 L1524.7 616.6 L1549.6 629 L1593.3 669.6 L1624.5 697.7 L1649.4 732 L1671.2 763.2 L1696.2 788.1 L1724.2 819.3 L1746.1 847.4 L1749.2 863 L1764.8 887.9 L1777.9 903.5 L1778 960 L1745 960 L1747.9 919.5 L1734.8 903.9 L1719.2 879 L1716.1 863.4 L1694.2 835.3 L1666.2 804.1 L1641.2 779.2 L1619.4 748 L1594.5 713.7 L1563.3 685.6 L1519.6 645 L1494.7 632.6 L1463.5 604.5 L1438.5 551.5 L1407.4 517.9 Z" fill="#a2a2a2" opacity="0.8" filter="url(#ibl)"/><path d="M1434.4 503.9 L1465.5 537.5 L1490.5 590.5 L1521.7 618.6 L1546.6 631 L1590.3 671.6 L1621.5 699.7 L1646.4 734 L1668.2 765.2 L1693.2 790.1 L1721.2 821.3 L1743.1 849.4 L1746.2 865 L1761.8 889.9 L1774.9 905.5" stroke="#c0c0c0" stroke-width="3" fill="none" filter="url(#ibl1)"/><path d="M1437.4 501.9 L1468.5 535.5 L1493.5 588.5 L1524.7 616.6 L1549.6 629 L1593.3 669.6 L1624.5 697.7 L1649.4 732 L1671.2 763.2 L1696.2 788.1 L1724.2 819.3 L1746.1 847.4 L1749.2 863 L1764.8 887.9 L1777.9 903.5 L1800 903.5 V490 H1437.4 Z" fill="#040404"/></g><path d="M1559 632.2L1666.5 725.7" stroke="#fff" stroke-width="6" stroke-dasharray="34 20"/><path d="M1520 680.5L1627.6 772.5" stroke="#fff" stroke-width="6" stroke-dasharray="32 21"/><path d="M1697.7 592.3L1635.4 654.1" stroke="#fff" stroke-width="6"/><path d="M1619.8 669.6L1628.4 644.2L1645.3 661.2Z" fill="#fff"/><path d="M1482.6 820.8L1543.4 760" stroke="#fff" stroke-width="6"/><path d="M1559 744.5L1550.5 770L1533.5 753Z" fill="#fff"/><text x="1520.9" y="892.6" font-family="'Liberation Serif','Times New Roman',serif" font-size="54" fill="#fff" text-anchor="start">718 nm</text><text x="1389.2" y="549.2" font-family="'Liberation Sans',Arial,sans-serif" font-size="42" font-weight="bold" fill="#fff" text-anchor="start">(i)</text><defs><clipPath id="cj"><rect x="6.6" y="959.1" width="514.9" height="484.4999999999999"/></clipPath><filter id="jn" x="0" y="0" width="100%" height="100%" color-interpolation-filters="sRGB"><feTurbulence type="fractalNoise" baseFrequency="0.5" numOctaves="2" seed="5" result="n"/><feColorMatrix in="n" type="matrix" values="0 0 0 0 0.85  0 0 0 0 0.87  0 0 0 0 1  2.0 0 0 0 -1.15" result="s"/><feComposite in="s" in2="SourceGraphic" operator="over"/></filter><linearGradient id="jbg" x1="0" y1="0" x2="1" y2="0.6"><stop offset="0" stop-color="#5e66a0"/><stop offset="0.35" stop-color="#4c5284"/><stop offset="0.7" stop-color="#3a3e5c"/><stop offset="1" stop-color="#32354c"/></linearGradient><radialGradient id="jcoin" cx="0.45" cy="0.45" r="0.6"><stop offset="0" stop-color="#b4b8d0"/><stop offset="0.7" stop-color="#9a9eb8"/><stop offset="1" stop-color="#d0d4e8"/></radialGradient><linearGradient id="jrul" x1="0" y1="0" x2="0" y2="1"><stop offset="0" stop-color="#8a8aa0"/><stop offset="0.5" stop-color="#8e8c9e"/><stop offset="1" stop-color="#86849a"/></linearGradient><linearGradient id="jins" x1="0" y1="0" x2="0" y2="1"><stop offset="0" stop-color="#ffffff"/><stop offset="0.07" stop-color="#fffbe4"/><stop offset="0.15" stop-color="#fdf296"/><stop offset="0.21" stop-color="#f6e070"/><stop offset="0.245" stop-color="#e8c048"/><stop offset="0.28" stop-color="#b89a30"/><stop offset="0.5" stop-color="#a88c2a"/><stop offset="0.75" stop-color="#b29430"/><stop offset="1" stop-color="#c4a032"/></linearGradient><radialGradient id="jglow" cx="0.5" cy="0.5" r="0.5"><stop offset="0" stop-color="#f8c040" stop-opacity="0.85"/><stop offset="1" stop-color="#f8c040" stop-opacity="0"/></radialGradient><filter id="jbl"><feGaussianBlur stdDeviation="6"/></filter><filter id="jbl1"><feGaussianBlur stdDeviation="1"/></filter></defs><g clip-path="url(#cj)"><rect x="6.6" y="959.1" width="514.9" height="484.4999999999999" fill="url(#jbg)" filter="url(#jn)"/><rect x="6.6" y="959.1" width="514.9" height="484.4999999999999" fill="url(#jbg)" opacity="0.45"/><path d="M440 955 Q490 985 530 1020 V955Z" fill="#26283a"/><path d="M381 959 Q460 1022 528 1080" stroke="#c4c8f0" stroke-width="4" fill="none"/><path d="M441.8 959 Q492 988 528 1021" stroke="#c4c8f0" stroke-width="4" fill="none"/><circle cx="35.1" cy="1034.5" r="26.2" fill="#5a5e80"/><circle cx="35.1" cy="1034.5" r="23.7" fill="#06060c"/><circle cx="215.5" cy="1029.7" r="26" fill="#5a5e80"/><circle cx="215.5" cy="1029.7" r="23.5" fill="#06060c"/><circle cx="402" cy="1019.4" r="24.5" fill="#5a5e80"/><circle cx="402" cy="1019.4" r="22" fill="#06060c"/><circle cx="35.1" cy="1203" r="24.5" fill="#5a5e80"/><circle cx="35.1" cy="1203" r="22" fill="#06060c"/><circle cx="405" cy="1201.6" r="22" fill="#5a5e80"/><circle cx="405" cy="1201.6" r="19.5" fill="#06060c"/><circle cx="240" cy="1205" r="22.5" fill="#5a5e80"/><circle cx="240" cy="1205" r="20" fill="#06060c"/><circle cx="186" cy="1140" r="70" fill="#15172a" opacity="0.85" filter="url(#jbl)"/><circle cx="174.7" cy="1133.2" r="68.4" fill="url(#jcoin)"/><circle cx="174.7" cy="1133.2" r="63" fill="none" stroke="#7c80a0" stroke-width="1.5"/><path d="M167 1093 L186 1091 L185 1170 L195 1172 V1179 H157 V1172 L168 1170 L168 1106 L160 1110 Z" fill="#8c90ac" stroke="#d8dcf0" stroke-width="1.2"/><text x="174.7" y="1196" font-family="'Liberation Sans',Arial,sans-serif" font-size="12" font-weight="bold" fill="#dde0f8" text-anchor="middle" letter-spacing="2">2013</text><text x="118.5" y="1128" font-family="'Liberation Sans','Noto Sans CJK SC',sans-serif" font-size="12" font-weight="bold" fill="#e4e6fa" text-anchor="middle" transform="rotate(-70 118.5 1128)">中</text><text x="134" y="1103" font-family="'Liberation Sans','Noto Sans CJK SC',sans-serif" font-size="12" font-weight="bold" fill="#e4e6fa" text-anchor="middle" transform="rotate(-42 134 1103)">国</text><text x="160" y="1089" font-family="'Liberation Sans','Noto Sans CJK SC',sans-serif" font-size="12" font-weight="bold" fill="#e4e6fa" text-anchor="middle" transform="rotate(-15 160 1089)">人</text><text x="189" y="1086" font-family="'Liberation Sans','Noto Sans CJK SC',sans-serif" font-size="12" font-weight="bold" fill="#e4e6fa" text-anchor="middle" transform="rotate(14 189 1086)">民</text><text x="214" y="1099" font-family="'Liberation Sans','Noto Sans CJK SC',sans-serif" font-size="12" font-weight="bold" fill="#e4e6fa" text-anchor="middle" transform="rotate(40 214 1099)">银</text><text x="228" y="1124" font-family="'Liberation Sans','Noto Sans CJK SC',sans-serif" font-size="12" font-weight="bold" fill="#e4e6fa" text-anchor="middle" transform="rotate(68 228 1124)">行</text><text x="212" y="1164" font-family="'Liberation Sans','Noto Sans CJK SC',sans-serif" font-size="15" font-weight="bold" fill="#e4e6fa" text-anchor="middle">角</text><text x="139" y="1150" font-family="'Liberation Sans',Arial,sans-serif" font-size="7" font-weight="bold" fill="#e4e6fa" text-anchor="middle">YI</text><text x="139" y="1160" font-family="'Liberation Sans',Arial,sans-serif" font-size="7" font-weight="bold" fill="#e4e6fa" text-anchor="middle">JIAO</text><path d="M373 1176.5 H521.5" stroke="#8a8ea8" stroke-width="1"/><rect x="284.7" y="1170.1" width="88.9" height="13" rx="2" fill="#b4b8cc" opacity="0.85" stroke="#d8dcf0" stroke-width="1"/><rect x="290" y="1173" width="80" height="6" fill="#9094b0"/><path d="M331 1152.9L359.5 1108.1" stroke="#fff" stroke-width="6"/><path d="M368.4 1094.2L365.9 1118.7L359.5 1108.1L347.3 1106.8Z" fill="#fff"/><text x="262.5" y="1065" font-family="'Liberation Serif','Times New Roman',serif" font-size="53.5" fill="#fff" text-anchor="start">HF-OFM</text><rect x="0" y="1206" width="530" height="223" fill="url(#jrul)"/><rect x="0" y="1428.5" width="530" height="16" fill="#202232"/><path d="M5.9 1207V1244M6.4 1427V1388M13.5 1207V1244M14 1427V1388M21.1 1207V1275M21.6 1427V1355M28.7 1207V1244M29.2 1427V1388M36.3 1207V1244M36.8 1427V1388M44 1207V1244M44.5 1427V1388M51.6 1207V1244M52.1 1427V1388M59.2 1207V1256M59.7 1427V1374M66.8 1207V1244M67.3 1427V1388M74.4 1207V1244M74.9 1427V1388M82.1 1207V1244M82.6 1427V1388M89.7 1207V1244M90.2 1427V1388M97.3 1207V1275M97.8 1427V1355M104.9 1207V1244M105.4 1427V1388M112.5 1207V1244M113 1427V1388M120.2 1207V1244M120.7 1427V1388M127.8 1207V1244M128.3 1427V1388M135.4 1207V1256M135.9 1427V1374M143 1207V1244M143.5 1427V1388M150.6 1207V1244M151.1 1427V1388M158.3 1207V1244M158.8 1427V1388M165.9 1207V1244M166.4 1427V1388M173.5 1207V1275M174 1427V1355M181.1 1207V1244M181.6 1427V1388M188.7 1207V1244M189.2 1427V1388M196.4 1207V1244M196.9 1427V1388M204 1207V1244M204.5 1427V1388M211.6 1207V1256M212.1 1427V1374M219.2 1207V1244M219.7 1427V1388M226.8 1207V1244M227.3 1427V1388M234.5 1207V1244M235 1427V1388M242.1 1207V1244M242.6 1427V1388M249.7 1207V1275M250.2 1427V1355M257.3 1207V1244M257.8 1427V1388M264.9 1207V1244M265.4 1427V1388M272.6 1207V1244M273.1 1427V1388M280.2 1207V1244M280.7 1427V1388M287.8 1207V1256M288.3 1427V1374M295.4 1207V1244M295.9 1427V1388M303 1207V1244M303.5 1427V1388M310.7 1207V1244M311.2 1427V1388M318.3 1207V1244M318.8 1427V1388M325.9 1207V1275M326.4 1427V1355M333.5 1207V1244M334 1427V1388M341.1 1207V1244M341.6 1427V1388M348.8 1207V1244M349.3 1427V1388M356.4 1207V1244M356.9 1427V1388M364 1207V1256M364.5 1427V1374M371.6 1207V1244M372.1 1427V1388M379.2 1207V1244M379.7 1427V1388M386.9 1207V1244M387.4 1427V1388M394.5 1207V1244M395 1427V1388M402.1 1207V1275M402.6 1427V1355M409.7 1207V1244M410.2 1427V1388M417.3 1207V1244M417.8 1427V1388M425 1207V1244M425.5 1427V1388M432.6 1207V1244M433.1 1427V1388M440.2 1207V1256M440.7 1427V1374M447.8 1207V1244M448.3 1427V1388M455.4 1207V1244M455.9 1427V1388M463.1 1207V1244M463.6 1427V1388M470.7 1207V1244M471.2 1427V1388M478.3 1207V1275M478.8 1427V1355M485.9 1207V1244M486.4 1427V1388M493.5 1207V1244M494 1427V1388M501.2 1207V1244M501.7 1427V1388M508.8 1207V1244M509.3 1427V1388M516.4 1207V1256M516.9 1427V1374" stroke="#2a2a3a" stroke-width="1.3"/><text x="326" y="1334" font-family="'Liberation Serif','Times New Roman',serif" font-size="54" fill="#1a1a24" text-anchor="middle">3</text><text x="403.5" y="1334" font-family="'Liberation Serif','Times New Roman',serif" font-size="54" fill="#1a1a24" text-anchor="middle">4</text><text x="479.5" y="1334" font-family="'Liberation Serif','Times New Roman',serif" font-size="54" fill="#1a1a24" text-anchor="middle">5</text></g><clipPath id="cjin"><rect x="7.5" y="1223" width="311.8" height="218.8"/></clipPath><g clip-path="url(#cjin)"><rect x="7.5" y="1223" width="311.8" height="218.8" fill="url(#jins)"/><ellipse cx="40" cy="1400" rx="70" ry="60" fill="#d09030" opacity="0.5" filter="url(#jbl)"/><ellipse cx="290" cy="1390" rx="60" ry="70" fill="#b8b030" opacity="0.5" filter="url(#jbl)"/><ellipse cx="158" cy="1420" rx="38" ry="70" fill="url(#jglow)"/><ellipse cx="158" cy="1430" rx="22" ry="30" fill="#f8d050" opacity="0.6" filter="url(#jbl)"/><path d="M7 1270 Q60 1262 120 1272 T230 1268 T320 1270" stroke="#e8b030" stroke-width="5" fill="none" opacity="0.8" filter="url(#jbl1)"/></g><path d="M10 1278.7H318" stroke="#fff" stroke-width="3.7" stroke-dasharray="15.5 12"/><path d="M99.5 1443V1332.4H218V1443" fill="none" stroke="#fff" stroke-width="3.5" stroke-dasharray="15.5 12"/><path d="M159 1290V1322" stroke="#fff" stroke-width="1.5"/><path d="M159 1281.5L151 1297H167Z M159 1331L151 1315.5H167Z" fill="#fff"/><text x="81.7" y="1263.5" font-family="'Liberation Serif','Times New Roman',serif" font-size="49" fill="#000" text-anchor="start">58.95 μm</text><rect x="7.5" y="1223" width="311.8" height="218.8" fill="none" stroke="#ec7b2c" stroke-width="4.5"/><rect x="264.5" y="1145" width="48" height="53.5" fill="none" stroke="#ec7b2c" stroke-width="3"/><path d="M264.5 1198.5L7 1221M312.5 1198.5L320.5 1221" stroke="#ec7b2c" stroke-width="3"/><text x="14.2" y="1002.3" font-family="'Liberation Sans',Arial,sans-serif" font-size="40" font-weight="bold" fill="#fff" text-anchor="start">(j)</text>
</svg></body></html>
